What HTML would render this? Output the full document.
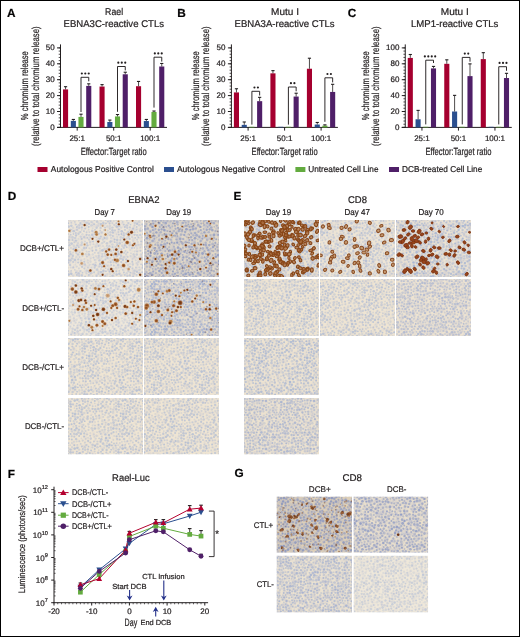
<!DOCTYPE html>
<html><head><meta charset="utf-8"><title>Figure</title>
<style>
html,body{margin:0;padding:0;background:#fff;}
body{width:520px;height:637px;overflow:hidden;}
svg{display:block;font-family:"Liberation Sans", sans-serif;text-rendering:geometricPrecision;will-change:transform;}
text{stroke:#231f20;stroke-width:0.22px;}
</style></head>
<body>
<svg width="520" height="637" viewBox="0 0 520 637" fill="#231f20">
<rect x="0.5" y="0.5" width="519" height="636" fill="#fff" stroke="#000" stroke-width="1"/>
<text x="7.00" y="16.70" font-size="11.8" font-weight="bold" fill="#000">A</text>
<text x="177.20" y="16.60" font-size="11.8" font-weight="bold" fill="#000">B</text>
<text x="347.80" y="16.90" font-size="11.8" font-weight="bold" fill="#000">C</text>
<text x="7.80" y="199.60" font-size="11.8" font-weight="bold" fill="#000">D</text>
<text x="233.60" y="199.60" font-size="11.8" font-weight="bold" fill="#000">E</text>
<text x="7.80" y="477.60" font-size="11.8" font-weight="bold" fill="#000">F</text>
<text x="234.60" y="477.30" font-size="11.8" font-weight="bold" fill="#000">G</text>
<text x="105.10" y="15.00" font-size="9.8" textLength="18.00" lengthAdjust="spacingAndGlyphs">Rael</text>
<text x="63.50" y="27.10" font-size="9.8" textLength="100.50" lengthAdjust="spacingAndGlyphs">EBNA3C-reactive CTLs</text>
<text x="28.40" y="85.70" font-size="10.2" text-anchor="middle" textLength="69.00" lengthAdjust="spacingAndGlyphs" transform="rotate(-90 28.40 85.70)">% chromium release</text>
<text x="38.90" y="86.20" font-size="10.2" text-anchor="middle" textLength="119.50" lengthAdjust="spacingAndGlyphs" transform="rotate(-90 38.90 86.20)">(relative to total chromium release)</text>
<line x1="60.50" y1="44.40" x2="60.50" y2="127.90" stroke="#231f20" stroke-width="1"/>
<line x1="57.00" y1="127.40" x2="167.00" y2="127.40" stroke="#231f20" stroke-width="1"/>
<line x1="57.00" y1="127.40" x2="60.50" y2="127.40" stroke="#231f20" stroke-width="1"/>
<text x="54.60" y="129.90" font-size="8.0" text-anchor="end">0</text>
<line x1="57.00" y1="111.50" x2="60.50" y2="111.50" stroke="#231f20" stroke-width="1"/>
<text x="54.60" y="114.00" font-size="8.0" text-anchor="end">10</text>
<line x1="57.00" y1="95.60" x2="60.50" y2="95.60" stroke="#231f20" stroke-width="1"/>
<text x="54.60" y="98.10" font-size="8.0" text-anchor="end">20</text>
<line x1="57.00" y1="79.70" x2="60.50" y2="79.70" stroke="#231f20" stroke-width="1"/>
<text x="54.60" y="82.20" font-size="8.0" text-anchor="end">30</text>
<line x1="57.00" y1="63.80" x2="60.50" y2="63.80" stroke="#231f20" stroke-width="1"/>
<text x="54.60" y="66.30" font-size="8.0" text-anchor="end">40</text>
<line x1="57.00" y1="47.90" x2="60.50" y2="47.90" stroke="#231f20" stroke-width="1"/>
<text x="54.60" y="50.40" font-size="8.0" text-anchor="end">50</text>
<line x1="58.70" y1="127.40" x2="60.50" y2="127.40" stroke="#231f20" stroke-width="0.8"/>
<line x1="58.70" y1="124.22" x2="60.50" y2="124.22" stroke="#231f20" stroke-width="0.8"/>
<line x1="58.70" y1="121.04" x2="60.50" y2="121.04" stroke="#231f20" stroke-width="0.8"/>
<line x1="58.70" y1="117.86" x2="60.50" y2="117.86" stroke="#231f20" stroke-width="0.8"/>
<line x1="58.70" y1="114.68" x2="60.50" y2="114.68" stroke="#231f20" stroke-width="0.8"/>
<line x1="58.70" y1="111.50" x2="60.50" y2="111.50" stroke="#231f20" stroke-width="0.8"/>
<line x1="58.70" y1="108.32" x2="60.50" y2="108.32" stroke="#231f20" stroke-width="0.8"/>
<line x1="58.70" y1="105.14" x2="60.50" y2="105.14" stroke="#231f20" stroke-width="0.8"/>
<line x1="58.70" y1="101.96" x2="60.50" y2="101.96" stroke="#231f20" stroke-width="0.8"/>
<line x1="58.70" y1="98.78" x2="60.50" y2="98.78" stroke="#231f20" stroke-width="0.8"/>
<line x1="58.70" y1="95.60" x2="60.50" y2="95.60" stroke="#231f20" stroke-width="0.8"/>
<line x1="58.70" y1="92.42" x2="60.50" y2="92.42" stroke="#231f20" stroke-width="0.8"/>
<line x1="58.70" y1="89.24" x2="60.50" y2="89.24" stroke="#231f20" stroke-width="0.8"/>
<line x1="58.70" y1="86.06" x2="60.50" y2="86.06" stroke="#231f20" stroke-width="0.8"/>
<line x1="58.70" y1="82.88" x2="60.50" y2="82.88" stroke="#231f20" stroke-width="0.8"/>
<line x1="58.70" y1="79.70" x2="60.50" y2="79.70" stroke="#231f20" stroke-width="0.8"/>
<line x1="58.70" y1="76.52" x2="60.50" y2="76.52" stroke="#231f20" stroke-width="0.8"/>
<line x1="58.70" y1="73.34" x2="60.50" y2="73.34" stroke="#231f20" stroke-width="0.8"/>
<line x1="58.70" y1="70.16" x2="60.50" y2="70.16" stroke="#231f20" stroke-width="0.8"/>
<line x1="58.70" y1="66.98" x2="60.50" y2="66.98" stroke="#231f20" stroke-width="0.8"/>
<line x1="58.70" y1="63.80" x2="60.50" y2="63.80" stroke="#231f20" stroke-width="0.8"/>
<line x1="58.70" y1="60.62" x2="60.50" y2="60.62" stroke="#231f20" stroke-width="0.8"/>
<line x1="58.70" y1="57.44" x2="60.50" y2="57.44" stroke="#231f20" stroke-width="0.8"/>
<line x1="58.70" y1="54.26" x2="60.50" y2="54.26" stroke="#231f20" stroke-width="0.8"/>
<line x1="58.70" y1="51.08" x2="60.50" y2="51.08" stroke="#231f20" stroke-width="0.8"/>
<line x1="58.70" y1="47.90" x2="60.50" y2="47.90" stroke="#231f20" stroke-width="0.8"/>
<line x1="77.20" y1="127.40" x2="77.20" y2="130.60" stroke="#231f20" stroke-width="1"/>
<text x="77.20" y="140.90" font-size="8.0" text-anchor="middle">25:1</text>
<rect x="63.00" y="89.40" width="5.10" height="38.00" fill="#a5002f"/>
<line x1="65.55" y1="86.70" x2="65.55" y2="89.40" stroke="#231f20" stroke-width="0.8"/>
<line x1="63.95" y1="86.70" x2="67.15" y2="86.70" stroke="#231f20" stroke-width="1.1"/>
<rect x="70.80" y="120.88" width="5.10" height="6.52" fill="#2b4f8f"/>
<line x1="73.35" y1="119.45" x2="73.35" y2="120.88" stroke="#231f20" stroke-width="0.8"/>
<line x1="71.75" y1="119.45" x2="74.95" y2="119.45" stroke="#231f20" stroke-width="1.1"/>
<rect x="78.45" y="116.91" width="5.10" height="10.49" fill="#63ab3f"/>
<line x1="81.00" y1="114.20" x2="81.00" y2="116.91" stroke="#231f20" stroke-width="0.8"/>
<line x1="79.40" y1="114.20" x2="82.60" y2="114.20" stroke="#231f20" stroke-width="1.1"/>
<rect x="86.20" y="85.90" width="5.10" height="41.50" fill="#4f1f68"/>
<line x1="88.75" y1="83.83" x2="88.75" y2="85.90" stroke="#231f20" stroke-width="0.8"/>
<line x1="87.15" y1="83.83" x2="90.35" y2="83.83" stroke="#231f20" stroke-width="1.1"/>
<polyline points="81.00,112.00 81.00,77.30 88.75,77.30 88.75,81.30" fill="none" stroke="#231f20" stroke-width="0.95"/>
<circle cx="81.83" cy="73.50" r="1.08" fill="#231f20"/>
<circle cx="85.28" cy="73.50" r="1.08" fill="#231f20"/>
<circle cx="88.73" cy="73.50" r="1.08" fill="#231f20"/>
<line x1="113.70" y1="127.40" x2="113.70" y2="130.60" stroke="#231f20" stroke-width="1"/>
<text x="113.70" y="140.90" font-size="8.0" text-anchor="middle">50:1</text>
<rect x="99.50" y="86.54" width="5.10" height="40.86" fill="#a5002f"/>
<line x1="102.05" y1="84.63" x2="102.05" y2="86.54" stroke="#231f20" stroke-width="0.8"/>
<line x1="100.45" y1="84.63" x2="103.65" y2="84.63" stroke="#231f20" stroke-width="1.1"/>
<rect x="107.30" y="121.99" width="5.10" height="5.41" fill="#2b4f8f"/>
<line x1="109.85" y1="120.09" x2="109.85" y2="121.99" stroke="#231f20" stroke-width="0.8"/>
<line x1="108.25" y1="120.09" x2="111.45" y2="120.09" stroke="#231f20" stroke-width="1.1"/>
<rect x="114.95" y="116.43" width="5.10" height="10.97" fill="#63ab3f"/>
<line x1="117.50" y1="114.52" x2="117.50" y2="116.43" stroke="#231f20" stroke-width="0.8"/>
<line x1="115.90" y1="114.52" x2="119.10" y2="114.52" stroke="#231f20" stroke-width="1.1"/>
<rect x="122.70" y="74.29" width="5.10" height="53.11" fill="#4f1f68"/>
<line x1="125.25" y1="72.23" x2="125.25" y2="74.29" stroke="#231f20" stroke-width="0.8"/>
<line x1="123.65" y1="72.23" x2="126.85" y2="72.23" stroke="#231f20" stroke-width="1.1"/>
<polyline points="117.50,111.80 117.50,66.50 125.25,66.50 125.25,70.40" fill="none" stroke="#231f20" stroke-width="0.95"/>
<circle cx="118.33" cy="62.70" r="1.08" fill="#231f20"/>
<circle cx="121.78" cy="62.70" r="1.08" fill="#231f20"/>
<circle cx="125.23" cy="62.70" r="1.08" fill="#231f20"/>
<line x1="150.20" y1="127.40" x2="150.20" y2="130.60" stroke="#231f20" stroke-width="1"/>
<text x="150.20" y="140.90" font-size="8.0" text-anchor="middle">100:1</text>
<rect x="136.00" y="86.22" width="5.10" height="41.18" fill="#a5002f"/>
<line x1="138.55" y1="81.45" x2="138.55" y2="86.22" stroke="#231f20" stroke-width="0.8"/>
<line x1="136.95" y1="81.45" x2="140.15" y2="81.45" stroke="#231f20" stroke-width="1.1"/>
<rect x="143.80" y="121.04" width="5.10" height="6.36" fill="#2b4f8f"/>
<line x1="146.35" y1="119.45" x2="146.35" y2="121.04" stroke="#231f20" stroke-width="0.8"/>
<line x1="144.75" y1="119.45" x2="147.95" y2="119.45" stroke="#231f20" stroke-width="1.1"/>
<rect x="151.45" y="111.98" width="5.10" height="15.42" fill="#63ab3f"/>
<line x1="154.00" y1="111.02" x2="154.00" y2="111.98" stroke="#231f20" stroke-width="0.8"/>
<line x1="152.40" y1="111.02" x2="155.60" y2="111.02" stroke="#231f20" stroke-width="1.1"/>
<rect x="159.20" y="66.50" width="5.10" height="60.90" fill="#4f1f68"/>
<line x1="161.75" y1="63.48" x2="161.75" y2="66.50" stroke="#231f20" stroke-width="0.8"/>
<line x1="160.15" y1="63.48" x2="163.35" y2="63.48" stroke="#231f20" stroke-width="1.1"/>
<polyline points="154.00,107.60 154.00,57.20 161.75,57.20 161.75,61.60" fill="none" stroke="#231f20" stroke-width="0.95"/>
<circle cx="154.83" cy="53.40" r="1.08" fill="#231f20"/>
<circle cx="158.28" cy="53.40" r="1.08" fill="#231f20"/>
<circle cx="161.73" cy="53.40" r="1.08" fill="#231f20"/>
<text x="113.70" y="154.50" font-size="10.4" text-anchor="middle" textLength="66.00" lengthAdjust="spacingAndGlyphs">Effector:Target ratio</text>
<text x="271.10" y="15.00" font-size="9.8" textLength="27.90" lengthAdjust="spacingAndGlyphs">Mutu I</text>
<text x="234.50" y="27.10" font-size="9.8" textLength="100.10" lengthAdjust="spacingAndGlyphs">EBNA3A-reactive CTLs</text>
<text x="198.90" y="85.70" font-size="10.2" text-anchor="middle" textLength="69.00" lengthAdjust="spacingAndGlyphs" transform="rotate(-90 198.90 85.70)">% chromium release</text>
<text x="209.40" y="86.20" font-size="10.2" text-anchor="middle" textLength="119.50" lengthAdjust="spacingAndGlyphs" transform="rotate(-90 209.40 86.20)">(relative to total chromium release)</text>
<line x1="231.40" y1="44.40" x2="231.40" y2="127.90" stroke="#231f20" stroke-width="1"/>
<line x1="227.90" y1="127.40" x2="337.90" y2="127.40" stroke="#231f20" stroke-width="1"/>
<line x1="227.90" y1="127.40" x2="231.40" y2="127.40" stroke="#231f20" stroke-width="1"/>
<text x="225.50" y="129.90" font-size="8.0" text-anchor="end">0</text>
<line x1="227.90" y1="111.50" x2="231.40" y2="111.50" stroke="#231f20" stroke-width="1"/>
<text x="225.50" y="114.00" font-size="8.0" text-anchor="end">10</text>
<line x1="227.90" y1="95.60" x2="231.40" y2="95.60" stroke="#231f20" stroke-width="1"/>
<text x="225.50" y="98.10" font-size="8.0" text-anchor="end">20</text>
<line x1="227.90" y1="79.70" x2="231.40" y2="79.70" stroke="#231f20" stroke-width="1"/>
<text x="225.50" y="82.20" font-size="8.0" text-anchor="end">30</text>
<line x1="227.90" y1="63.80" x2="231.40" y2="63.80" stroke="#231f20" stroke-width="1"/>
<text x="225.50" y="66.30" font-size="8.0" text-anchor="end">40</text>
<line x1="227.90" y1="47.90" x2="231.40" y2="47.90" stroke="#231f20" stroke-width="1"/>
<text x="225.50" y="50.40" font-size="8.0" text-anchor="end">50</text>
<line x1="229.60" y1="127.40" x2="231.40" y2="127.40" stroke="#231f20" stroke-width="0.8"/>
<line x1="229.60" y1="124.22" x2="231.40" y2="124.22" stroke="#231f20" stroke-width="0.8"/>
<line x1="229.60" y1="121.04" x2="231.40" y2="121.04" stroke="#231f20" stroke-width="0.8"/>
<line x1="229.60" y1="117.86" x2="231.40" y2="117.86" stroke="#231f20" stroke-width="0.8"/>
<line x1="229.60" y1="114.68" x2="231.40" y2="114.68" stroke="#231f20" stroke-width="0.8"/>
<line x1="229.60" y1="111.50" x2="231.40" y2="111.50" stroke="#231f20" stroke-width="0.8"/>
<line x1="229.60" y1="108.32" x2="231.40" y2="108.32" stroke="#231f20" stroke-width="0.8"/>
<line x1="229.60" y1="105.14" x2="231.40" y2="105.14" stroke="#231f20" stroke-width="0.8"/>
<line x1="229.60" y1="101.96" x2="231.40" y2="101.96" stroke="#231f20" stroke-width="0.8"/>
<line x1="229.60" y1="98.78" x2="231.40" y2="98.78" stroke="#231f20" stroke-width="0.8"/>
<line x1="229.60" y1="95.60" x2="231.40" y2="95.60" stroke="#231f20" stroke-width="0.8"/>
<line x1="229.60" y1="92.42" x2="231.40" y2="92.42" stroke="#231f20" stroke-width="0.8"/>
<line x1="229.60" y1="89.24" x2="231.40" y2="89.24" stroke="#231f20" stroke-width="0.8"/>
<line x1="229.60" y1="86.06" x2="231.40" y2="86.06" stroke="#231f20" stroke-width="0.8"/>
<line x1="229.60" y1="82.88" x2="231.40" y2="82.88" stroke="#231f20" stroke-width="0.8"/>
<line x1="229.60" y1="79.70" x2="231.40" y2="79.70" stroke="#231f20" stroke-width="0.8"/>
<line x1="229.60" y1="76.52" x2="231.40" y2="76.52" stroke="#231f20" stroke-width="0.8"/>
<line x1="229.60" y1="73.34" x2="231.40" y2="73.34" stroke="#231f20" stroke-width="0.8"/>
<line x1="229.60" y1="70.16" x2="231.40" y2="70.16" stroke="#231f20" stroke-width="0.8"/>
<line x1="229.60" y1="66.98" x2="231.40" y2="66.98" stroke="#231f20" stroke-width="0.8"/>
<line x1="229.60" y1="63.80" x2="231.40" y2="63.80" stroke="#231f20" stroke-width="0.8"/>
<line x1="229.60" y1="60.62" x2="231.40" y2="60.62" stroke="#231f20" stroke-width="0.8"/>
<line x1="229.60" y1="57.44" x2="231.40" y2="57.44" stroke="#231f20" stroke-width="0.8"/>
<line x1="229.60" y1="54.26" x2="231.40" y2="54.26" stroke="#231f20" stroke-width="0.8"/>
<line x1="229.60" y1="51.08" x2="231.40" y2="51.08" stroke="#231f20" stroke-width="0.8"/>
<line x1="229.60" y1="47.90" x2="231.40" y2="47.90" stroke="#231f20" stroke-width="0.8"/>
<line x1="248.10" y1="127.40" x2="248.10" y2="130.60" stroke="#231f20" stroke-width="1"/>
<text x="248.10" y="140.90" font-size="8.0" text-anchor="middle">25:1</text>
<rect x="233.90" y="92.42" width="5.10" height="34.98" fill="#a5002f"/>
<line x1="236.45" y1="88.76" x2="236.45" y2="92.42" stroke="#231f20" stroke-width="0.8"/>
<line x1="234.85" y1="88.76" x2="238.05" y2="88.76" stroke="#231f20" stroke-width="1.1"/>
<rect x="241.70" y="124.86" width="5.10" height="2.54" fill="#2b4f8f"/>
<line x1="244.25" y1="121.99" x2="244.25" y2="124.86" stroke="#231f20" stroke-width="0.8"/>
<line x1="242.65" y1="121.99" x2="245.85" y2="121.99" stroke="#231f20" stroke-width="1.1"/>
<rect x="249.35" y="126.80" width="5.10" height="0.60" fill="#63ab3f"/>
<rect x="257.10" y="101.17" width="5.10" height="26.24" fill="#4f1f68"/>
<line x1="259.65" y1="97.35" x2="259.65" y2="101.17" stroke="#231f20" stroke-width="0.8"/>
<line x1="258.05" y1="97.35" x2="261.25" y2="97.35" stroke="#231f20" stroke-width="1.1"/>
<polyline points="251.90,124.60 251.90,91.30 259.65,91.30 259.65,95.50" fill="none" stroke="#231f20" stroke-width="0.95"/>
<circle cx="254.45" cy="87.50" r="1.08" fill="#231f20"/>
<circle cx="257.90" cy="87.50" r="1.08" fill="#231f20"/>
<line x1="284.60" y1="127.40" x2="284.60" y2="130.60" stroke="#231f20" stroke-width="1"/>
<text x="284.60" y="140.90" font-size="8.0" text-anchor="middle">50:1</text>
<rect x="270.40" y="73.34" width="5.10" height="54.06" fill="#a5002f"/>
<line x1="272.95" y1="70.64" x2="272.95" y2="73.34" stroke="#231f20" stroke-width="0.8"/>
<line x1="271.35" y1="70.64" x2="274.55" y2="70.64" stroke="#231f20" stroke-width="1.1"/>
<rect x="278.20" y="126.80" width="5.10" height="0.60" fill="#2b4f8f"/>
<rect x="285.85" y="126.80" width="5.10" height="0.60" fill="#63ab3f"/>
<rect x="293.60" y="96.55" width="5.10" height="30.85" fill="#4f1f68"/>
<line x1="296.15" y1="93.22" x2="296.15" y2="96.55" stroke="#231f20" stroke-width="0.8"/>
<line x1="294.55" y1="93.22" x2="297.75" y2="93.22" stroke="#231f20" stroke-width="1.1"/>
<polyline points="288.40,124.60 288.40,87.00 296.15,87.00 296.15,91.30" fill="none" stroke="#231f20" stroke-width="0.95"/>
<circle cx="290.95" cy="83.20" r="1.08" fill="#231f20"/>
<circle cx="294.40" cy="83.20" r="1.08" fill="#231f20"/>
<line x1="321.10" y1="127.40" x2="321.10" y2="130.60" stroke="#231f20" stroke-width="1"/>
<text x="321.10" y="140.90" font-size="8.0" text-anchor="middle">100:1</text>
<rect x="306.90" y="68.73" width="5.10" height="58.67" fill="#a5002f"/>
<line x1="309.45" y1="58.23" x2="309.45" y2="68.73" stroke="#231f20" stroke-width="0.8"/>
<line x1="307.85" y1="58.23" x2="311.05" y2="58.23" stroke="#231f20" stroke-width="1.1"/>
<rect x="314.70" y="124.54" width="5.10" height="2.86" fill="#2b4f8f"/>
<line x1="317.25" y1="122.47" x2="317.25" y2="124.54" stroke="#231f20" stroke-width="0.8"/>
<line x1="315.65" y1="122.47" x2="318.85" y2="122.47" stroke="#231f20" stroke-width="1.1"/>
<rect x="322.35" y="125.65" width="5.10" height="1.75" fill="#63ab3f"/>
<line x1="324.90" y1="124.86" x2="324.90" y2="125.65" stroke="#231f20" stroke-width="0.8"/>
<line x1="323.30" y1="124.86" x2="326.50" y2="124.86" stroke="#231f20" stroke-width="1.1"/>
<rect x="330.10" y="91.94" width="5.10" height="35.46" fill="#4f1f68"/>
<line x1="332.65" y1="84.31" x2="332.65" y2="91.94" stroke="#231f20" stroke-width="0.8"/>
<line x1="331.05" y1="84.31" x2="334.25" y2="84.31" stroke="#231f20" stroke-width="1.1"/>
<polyline points="324.90,121.80 324.90,77.80 332.65,77.80 332.65,82.40" fill="none" stroke="#231f20" stroke-width="0.95"/>
<circle cx="327.45" cy="74.00" r="1.08" fill="#231f20"/>
<circle cx="330.90" cy="74.00" r="1.08" fill="#231f20"/>
<text x="284.60" y="154.50" font-size="10.4" text-anchor="middle" textLength="66.00" lengthAdjust="spacingAndGlyphs">Effector:Target ratio</text>
<text x="440.80" y="15.00" font-size="9.8" textLength="28.00" lengthAdjust="spacingAndGlyphs">Mutu I</text>
<text x="411.00" y="27.10" font-size="9.8" textLength="87.40" lengthAdjust="spacingAndGlyphs">LMP1-reactive CTLs</text>
<text x="369.00" y="85.70" font-size="10.2" text-anchor="middle" textLength="69.00" lengthAdjust="spacingAndGlyphs" transform="rotate(-90 369.00 85.70)">% chromium release</text>
<text x="379.50" y="86.20" font-size="10.2" text-anchor="middle" textLength="119.50" lengthAdjust="spacingAndGlyphs" transform="rotate(-90 379.50 86.20)">(relative to total chromium release)</text>
<line x1="405.25" y1="44.40" x2="405.25" y2="127.90" stroke="#231f20" stroke-width="1"/>
<line x1="401.75" y1="127.40" x2="511.75" y2="127.40" stroke="#231f20" stroke-width="1"/>
<line x1="401.75" y1="127.40" x2="405.25" y2="127.40" stroke="#231f20" stroke-width="1"/>
<text x="399.35" y="129.90" font-size="8.0" text-anchor="end">0</text>
<line x1="401.75" y1="111.50" x2="405.25" y2="111.50" stroke="#231f20" stroke-width="1"/>
<text x="399.35" y="114.00" font-size="8.0" text-anchor="end">20</text>
<line x1="401.75" y1="95.60" x2="405.25" y2="95.60" stroke="#231f20" stroke-width="1"/>
<text x="399.35" y="98.10" font-size="8.0" text-anchor="end">40</text>
<line x1="401.75" y1="79.70" x2="405.25" y2="79.70" stroke="#231f20" stroke-width="1"/>
<text x="399.35" y="82.20" font-size="8.0" text-anchor="end">60</text>
<line x1="401.75" y1="63.80" x2="405.25" y2="63.80" stroke="#231f20" stroke-width="1"/>
<text x="399.35" y="66.30" font-size="8.0" text-anchor="end">80</text>
<line x1="401.75" y1="47.90" x2="405.25" y2="47.90" stroke="#231f20" stroke-width="1"/>
<text x="399.35" y="50.40" font-size="8.0" text-anchor="end">100</text>
<line x1="403.45" y1="127.40" x2="405.25" y2="127.40" stroke="#231f20" stroke-width="0.8"/>
<line x1="403.45" y1="124.22" x2="405.25" y2="124.22" stroke="#231f20" stroke-width="0.8"/>
<line x1="403.45" y1="121.04" x2="405.25" y2="121.04" stroke="#231f20" stroke-width="0.8"/>
<line x1="403.45" y1="117.86" x2="405.25" y2="117.86" stroke="#231f20" stroke-width="0.8"/>
<line x1="403.45" y1="114.68" x2="405.25" y2="114.68" stroke="#231f20" stroke-width="0.8"/>
<line x1="403.45" y1="111.50" x2="405.25" y2="111.50" stroke="#231f20" stroke-width="0.8"/>
<line x1="403.45" y1="108.32" x2="405.25" y2="108.32" stroke="#231f20" stroke-width="0.8"/>
<line x1="403.45" y1="105.14" x2="405.25" y2="105.14" stroke="#231f20" stroke-width="0.8"/>
<line x1="403.45" y1="101.96" x2="405.25" y2="101.96" stroke="#231f20" stroke-width="0.8"/>
<line x1="403.45" y1="98.78" x2="405.25" y2="98.78" stroke="#231f20" stroke-width="0.8"/>
<line x1="403.45" y1="95.60" x2="405.25" y2="95.60" stroke="#231f20" stroke-width="0.8"/>
<line x1="403.45" y1="92.42" x2="405.25" y2="92.42" stroke="#231f20" stroke-width="0.8"/>
<line x1="403.45" y1="89.24" x2="405.25" y2="89.24" stroke="#231f20" stroke-width="0.8"/>
<line x1="403.45" y1="86.06" x2="405.25" y2="86.06" stroke="#231f20" stroke-width="0.8"/>
<line x1="403.45" y1="82.88" x2="405.25" y2="82.88" stroke="#231f20" stroke-width="0.8"/>
<line x1="403.45" y1="79.70" x2="405.25" y2="79.70" stroke="#231f20" stroke-width="0.8"/>
<line x1="403.45" y1="76.52" x2="405.25" y2="76.52" stroke="#231f20" stroke-width="0.8"/>
<line x1="403.45" y1="73.34" x2="405.25" y2="73.34" stroke="#231f20" stroke-width="0.8"/>
<line x1="403.45" y1="70.16" x2="405.25" y2="70.16" stroke="#231f20" stroke-width="0.8"/>
<line x1="403.45" y1="66.98" x2="405.25" y2="66.98" stroke="#231f20" stroke-width="0.8"/>
<line x1="403.45" y1="63.80" x2="405.25" y2="63.80" stroke="#231f20" stroke-width="0.8"/>
<line x1="403.45" y1="60.62" x2="405.25" y2="60.62" stroke="#231f20" stroke-width="0.8"/>
<line x1="403.45" y1="57.44" x2="405.25" y2="57.44" stroke="#231f20" stroke-width="0.8"/>
<line x1="403.45" y1="54.26" x2="405.25" y2="54.26" stroke="#231f20" stroke-width="0.8"/>
<line x1="403.45" y1="51.08" x2="405.25" y2="51.08" stroke="#231f20" stroke-width="0.8"/>
<line x1="403.45" y1="47.90" x2="405.25" y2="47.90" stroke="#231f20" stroke-width="0.8"/>
<line x1="421.95" y1="127.40" x2="421.95" y2="130.60" stroke="#231f20" stroke-width="1"/>
<text x="421.95" y="140.90" font-size="8.0" text-anchor="middle">25:1</text>
<rect x="407.75" y="57.92" width="5.10" height="69.48" fill="#a5002f"/>
<line x1="410.30" y1="54.50" x2="410.30" y2="57.92" stroke="#231f20" stroke-width="0.8"/>
<line x1="408.70" y1="54.50" x2="411.90" y2="54.50" stroke="#231f20" stroke-width="1.1"/>
<rect x="415.55" y="119.29" width="5.10" height="8.11" fill="#2b4f8f"/>
<line x1="418.10" y1="110.39" x2="418.10" y2="119.29" stroke="#231f20" stroke-width="0.8"/>
<line x1="416.50" y1="110.39" x2="419.70" y2="110.39" stroke="#231f20" stroke-width="1.1"/>
<rect x="423.20" y="126.80" width="5.10" height="0.60" fill="#63ab3f"/>
<rect x="430.95" y="68.41" width="5.10" height="58.99" fill="#4f1f68"/>
<line x1="433.50" y1="66.42" x2="433.50" y2="68.41" stroke="#231f20" stroke-width="0.8"/>
<line x1="431.90" y1="66.42" x2="435.10" y2="66.42" stroke="#231f20" stroke-width="1.1"/>
<polyline points="425.75,124.40 425.75,60.20 433.50,60.20 433.50,63.00" fill="none" stroke="#231f20" stroke-width="0.95"/>
<circle cx="424.85" cy="56.40" r="1.08" fill="#231f20"/>
<circle cx="428.30" cy="56.40" r="1.08" fill="#231f20"/>
<circle cx="431.75" cy="56.40" r="1.08" fill="#231f20"/>
<circle cx="435.20" cy="56.40" r="1.08" fill="#231f20"/>
<line x1="458.45" y1="127.40" x2="458.45" y2="130.60" stroke="#231f20" stroke-width="1"/>
<text x="458.45" y="140.90" font-size="8.0" text-anchor="middle">50:1</text>
<rect x="444.25" y="63.80" width="5.10" height="63.60" fill="#a5002f"/>
<line x1="446.80" y1="59.83" x2="446.80" y2="63.80" stroke="#231f20" stroke-width="0.8"/>
<line x1="445.20" y1="59.83" x2="448.40" y2="59.83" stroke="#231f20" stroke-width="1.1"/>
<rect x="452.05" y="111.50" width="5.10" height="15.90" fill="#2b4f8f"/>
<line x1="454.60" y1="95.36" x2="454.60" y2="111.50" stroke="#231f20" stroke-width="0.8"/>
<line x1="453.00" y1="95.36" x2="456.20" y2="95.36" stroke="#231f20" stroke-width="1.1"/>
<rect x="459.70" y="126.80" width="5.10" height="0.60" fill="#63ab3f"/>
<rect x="467.45" y="76.12" width="5.10" height="51.28" fill="#4f1f68"/>
<line x1="470.00" y1="63.88" x2="470.00" y2="76.12" stroke="#231f20" stroke-width="0.8"/>
<line x1="468.40" y1="63.88" x2="471.60" y2="63.88" stroke="#231f20" stroke-width="1.1"/>
<polyline points="462.25,124.40 462.25,57.40 470.00,57.40 470.00,61.70" fill="none" stroke="#231f20" stroke-width="0.95"/>
<circle cx="464.80" cy="53.60" r="1.08" fill="#231f20"/>
<circle cx="468.25" cy="53.60" r="1.08" fill="#231f20"/>
<line x1="494.95" y1="127.40" x2="494.95" y2="130.60" stroke="#231f20" stroke-width="1"/>
<text x="494.95" y="140.90" font-size="8.0" text-anchor="middle">100:1</text>
<rect x="480.75" y="59.11" width="5.10" height="68.29" fill="#a5002f"/>
<line x1="483.30" y1="52.67" x2="483.30" y2="59.11" stroke="#231f20" stroke-width="0.8"/>
<line x1="481.70" y1="52.67" x2="484.90" y2="52.67" stroke="#231f20" stroke-width="1.1"/>
<rect x="488.55" y="126.80" width="5.10" height="0.60" fill="#2b4f8f"/>
<rect x="496.20" y="126.80" width="5.10" height="0.60" fill="#63ab3f"/>
<rect x="503.95" y="78.03" width="5.10" height="49.37" fill="#4f1f68"/>
<line x1="506.50" y1="73.34" x2="506.50" y2="78.03" stroke="#231f20" stroke-width="0.8"/>
<line x1="504.90" y1="73.34" x2="508.10" y2="73.34" stroke="#231f20" stroke-width="1.1"/>
<polyline points="498.75,124.40 498.75,66.70 506.50,66.70 506.50,70.80" fill="none" stroke="#231f20" stroke-width="0.95"/>
<circle cx="499.57" cy="62.90" r="1.08" fill="#231f20"/>
<circle cx="503.02" cy="62.90" r="1.08" fill="#231f20"/>
<circle cx="506.47" cy="62.90" r="1.08" fill="#231f20"/>
<text x="458.45" y="154.50" font-size="10.4" text-anchor="middle" textLength="66.00" lengthAdjust="spacingAndGlyphs">Effector:Target ratio</text>
<rect x="37.50" y="167.00" width="10.00" height="5.00" fill="#a5002f"/>
<text x="50.80" y="172.20" font-size="8.6" textLength="103.00" lengthAdjust="spacingAndGlyphs">Autologous Positive Control</text>
<rect x="164.00" y="167.00" width="10.00" height="5.00" fill="#2b4f8f"/>
<text x="176.90" y="172.20" font-size="8.6" textLength="108.30" lengthAdjust="spacingAndGlyphs">Autologous Negative Control</text>
<rect x="295.40" y="167.00" width="10.00" height="5.00" fill="#63ab3f"/>
<text x="308.30" y="172.20" font-size="8.6" textLength="70.20" lengthAdjust="spacingAndGlyphs">Untreated Cell Line</text>
<rect x="389.00" y="167.00" width="10.00" height="5.00" fill="#4f1f68"/>
<text x="402.10" y="172.20" font-size="8.6" textLength="80.20" lengthAdjust="spacingAndGlyphs">DCB-treated Cell Line</text>
<text x="128.20" y="202.70" font-size="9.8" textLength="31.30" lengthAdjust="spacingAndGlyphs">EBNA2</text>
<text x="94.60" y="215.00" font-size="8.6" textLength="20.30" lengthAdjust="spacingAndGlyphs">Day 7</text>
<text x="166.20" y="215.00" font-size="8.6" textLength="25.00" lengthAdjust="spacingAndGlyphs">Day 19</text>
<text x="19.90" y="250.90" font-size="8.3" textLength="44.20" lengthAdjust="spacingAndGlyphs">DCB+/CTL+</text>
<text x="22.20" y="310.90" font-size="8.3" textLength="41.90" lengthAdjust="spacingAndGlyphs">DCB+/CTL-</text>
<text x="22.20" y="369.90" font-size="8.3" textLength="41.90" lengthAdjust="spacingAndGlyphs">DCB-/CTL+</text>
<text x="24.90" y="429.10" font-size="8.3" textLength="39.20" lengthAdjust="spacingAndGlyphs">DCB-/CTL-</text>
<text x="348.00" y="202.70" font-size="9.8" textLength="18.90" lengthAdjust="spacingAndGlyphs">CD8</text>
<text x="265.80" y="215.00" font-size="8.6" textLength="25.40" lengthAdjust="spacingAndGlyphs">Day 19</text>
<text x="344.50" y="215.00" font-size="8.6" textLength="25.40" lengthAdjust="spacingAndGlyphs">Day 47</text>
<text x="418.40" y="215.00" font-size="8.6" textLength="25.40" lengthAdjust="spacingAndGlyphs">Day 70</text>
<text x="342.50" y="481.30" font-size="9.8" textLength="19.50" lengthAdjust="spacingAndGlyphs">CD8</text>
<text x="308.80" y="491.80" font-size="8.3" textLength="22.00" lengthAdjust="spacingAndGlyphs">DCB+</text>
<text x="387.10" y="491.80" font-size="8.3" textLength="19.40" lengthAdjust="spacingAndGlyphs">DCB-</text>
<text x="253.70" y="528.40" font-size="8.3" textLength="19.50" lengthAdjust="spacingAndGlyphs">CTL+</text>
<text x="256.70" y="587.40" font-size="8.3" textLength="17.20" lengthAdjust="spacingAndGlyphs">CTL-</text>
<defs>
<filter id="n0" x="0" y="0" width="1" height="1" color-interpolation-filters="sRGB"><feTurbulence type="fractalNoise" baseFrequency="0.25" numOctaves="2" seed="3"/><feColorMatrix type="matrix" values="0 0 0 0 0.6 0 0 0 0 0.64 0 0 0 0 0.8 0.6 0 0 0 -0.25"/></filter>
<clipPath id="c0"><rect x="68" y="220" width="75" height="57"/></clipPath>
<filter id="n1" x="0" y="0" width="1" height="1" color-interpolation-filters="sRGB"><feTurbulence type="fractalNoise" baseFrequency="0.25" numOctaves="2" seed="10"/><feColorMatrix type="matrix" values="0 0 0 0 0.6 0 0 0 0 0.64 0 0 0 0 0.8 1.0 0 0 0 -0.36"/></filter>
<clipPath id="c1"><rect x="144" y="220" width="75" height="57"/></clipPath>
<filter id="n2" x="0" y="0" width="1" height="1" color-interpolation-filters="sRGB"><feTurbulence type="fractalNoise" baseFrequency="0.25" numOctaves="2" seed="17"/><feColorMatrix type="matrix" values="0 0 0 0 0.6 0 0 0 0 0.64 0 0 0 0 0.8 0.55 0 0 0 -0.23"/></filter>
<clipPath id="c2"><rect x="68" y="279" width="75" height="57"/></clipPath>
<filter id="n3" x="0" y="0" width="1" height="1" color-interpolation-filters="sRGB"><feTurbulence type="fractalNoise" baseFrequency="0.25" numOctaves="2" seed="24"/><feColorMatrix type="matrix" values="0 0 0 0 0.6 0 0 0 0 0.64 0 0 0 0 0.8 0.9 0 0 0 -0.33"/></filter>
<clipPath id="c3"><rect x="144" y="279" width="75" height="57"/></clipPath>
<filter id="n4" x="0" y="0" width="1" height="1" color-interpolation-filters="sRGB"><feTurbulence type="fractalNoise" baseFrequency="0.25" numOctaves="2" seed="31"/><feColorMatrix type="matrix" values="0 0 0 0 0.6 0 0 0 0 0.64 0 0 0 0 0.8 0.5 0 0 0 -0.22"/></filter>
<clipPath id="c4"><rect x="68" y="338" width="75" height="57"/></clipPath>
<filter id="n5" x="0" y="0" width="1" height="1" color-interpolation-filters="sRGB"><feTurbulence type="fractalNoise" baseFrequency="0.25" numOctaves="2" seed="38"/><feColorMatrix type="matrix" values="0 0 0 0 0.6 0 0 0 0 0.64 0 0 0 0 0.8 0.5 0 0 0 -0.22"/></filter>
<clipPath id="c5"><rect x="144" y="338" width="75" height="57"/></clipPath>
<filter id="n6" x="0" y="0" width="1" height="1" color-interpolation-filters="sRGB"><feTurbulence type="fractalNoise" baseFrequency="0.25" numOctaves="2" seed="45"/><feColorMatrix type="matrix" values="0 0 0 0 0.6 0 0 0 0 0.64 0 0 0 0 0.8 0.5 0 0 0 -0.22"/></filter>
<clipPath id="c6"><rect x="68" y="398" width="75" height="56.5"/></clipPath>
<filter id="n7" x="0" y="0" width="1" height="1" color-interpolation-filters="sRGB"><feTurbulence type="fractalNoise" baseFrequency="0.25" numOctaves="2" seed="52"/><feColorMatrix type="matrix" values="0 0 0 0 0.6 0 0 0 0 0.64 0 0 0 0 0.8 0.5 0 0 0 -0.22"/></filter>
<clipPath id="c7"><rect x="144" y="398" width="75" height="56.5"/></clipPath>
<filter id="n8" x="0" y="0" width="1" height="1" color-interpolation-filters="sRGB"><feTurbulence type="fractalNoise" baseFrequency="0.25" numOctaves="2" seed="59"/><feColorMatrix type="matrix" values="0 0 0 0 0.6 0 0 0 0 0.64 0 0 0 0 0.8 0.8 0 0 0 -0.3"/></filter>
<clipPath id="c8"><rect x="244" y="220" width="75" height="57"/></clipPath>
<filter id="n9" x="0" y="0" width="1" height="1" color-interpolation-filters="sRGB"><feTurbulence type="fractalNoise" baseFrequency="0.25" numOctaves="2" seed="66"/><feColorMatrix type="matrix" values="0 0 0 0 0.6 0 0 0 0 0.64 0 0 0 0 0.8 0.6 0 0 0 -0.25"/></filter>
<clipPath id="c9"><rect x="320" y="220" width="75" height="57"/></clipPath>
<filter id="n10" x="0" y="0" width="1" height="1" color-interpolation-filters="sRGB"><feTurbulence type="fractalNoise" baseFrequency="0.25" numOctaves="2" seed="73"/><feColorMatrix type="matrix" values="0 0 0 0 0.6 0 0 0 0 0.64 0 0 0 0 0.8 0.8 0 0 0 -0.3"/></filter>
<clipPath id="c10"><rect x="396" y="220" width="75" height="57"/></clipPath>
<filter id="n11" x="0" y="0" width="1" height="1" color-interpolation-filters="sRGB"><feTurbulence type="fractalNoise" baseFrequency="0.25" numOctaves="2" seed="80"/><feColorMatrix type="matrix" values="0 0 0 0 0.6 0 0 0 0 0.64 0 0 0 0 0.8 0.5 0 0 0 -0.22"/></filter>
<clipPath id="c11"><rect x="244" y="279" width="75" height="57"/></clipPath>
<filter id="n12" x="0" y="0" width="1" height="1" color-interpolation-filters="sRGB"><feTurbulence type="fractalNoise" baseFrequency="0.25" numOctaves="2" seed="87"/><feColorMatrix type="matrix" values="0 0 0 0 0.6 0 0 0 0 0.64 0 0 0 0 0.8 0.5 0 0 0 -0.22"/></filter>
<clipPath id="c12"><rect x="320" y="279" width="75" height="57"/></clipPath>
<filter id="n13" x="0" y="0" width="1" height="1" color-interpolation-filters="sRGB"><feTurbulence type="fractalNoise" baseFrequency="0.25" numOctaves="2" seed="94"/><feColorMatrix type="matrix" values="0 0 0 0 0.6 0 0 0 0 0.64 0 0 0 0 0.8 0.7 0 0 0 -0.27"/></filter>
<clipPath id="c13"><rect x="396" y="279" width="75" height="57"/></clipPath>
<filter id="n14" x="0" y="0" width="1" height="1" color-interpolation-filters="sRGB"><feTurbulence type="fractalNoise" baseFrequency="0.25" numOctaves="2" seed="101"/><feColorMatrix type="matrix" values="0 0 0 0 0.6 0 0 0 0 0.64 0 0 0 0 0.8 0.6 0 0 0 -0.25"/></filter>
<clipPath id="c14"><rect x="244" y="338" width="75" height="57"/></clipPath>
<filter id="n15" x="0" y="0" width="1" height="1" color-interpolation-filters="sRGB"><feTurbulence type="fractalNoise" baseFrequency="0.25" numOctaves="2" seed="108"/><feColorMatrix type="matrix" values="0 0 0 0 0.6 0 0 0 0 0.64 0 0 0 0 0.8 0.7 0 0 0 -0.27"/></filter>
<clipPath id="c15"><rect x="244" y="398" width="75" height="56.5"/></clipPath>
<filter id="n16" x="0" y="0" width="1" height="1" color-interpolation-filters="sRGB"><feTurbulence type="fractalNoise" baseFrequency="0.25" numOctaves="2" seed="115"/><feColorMatrix type="matrix" values="0 0 0 0 0.6 0 0 0 0 0.64 0 0 0 0 0.8 1.0 0 0 0 -0.36"/></filter>
<clipPath id="c16"><rect x="276.5" y="496.5" width="75.5" height="56.2"/></clipPath>
<filter id="n17" x="0" y="0" width="1" height="1" color-interpolation-filters="sRGB"><feTurbulence type="fractalNoise" baseFrequency="0.25" numOctaves="2" seed="122"/><feColorMatrix type="matrix" values="0 0 0 0 0.6 0 0 0 0 0.64 0 0 0 0 0.8 1.0 0 0 0 -0.36"/></filter>
<clipPath id="c17"><rect x="353.5" y="496.5" width="74.7" height="56.2"/></clipPath>
<filter id="n18" x="0" y="0" width="1" height="1" color-interpolation-filters="sRGB"><feTurbulence type="fractalNoise" baseFrequency="0.25" numOctaves="2" seed="129"/><feColorMatrix type="matrix" values="0 0 0 0 0.6 0 0 0 0 0.64 0 0 0 0 0.8 0.8 0 0 0 -0.3"/></filter>
<clipPath id="c18"><rect x="276.5" y="555.6" width="75.5" height="57.0"/></clipPath>
<filter id="n19" x="0" y="0" width="1" height="1" color-interpolation-filters="sRGB"><feTurbulence type="fractalNoise" baseFrequency="0.25" numOctaves="2" seed="136"/><feColorMatrix type="matrix" values="0 0 0 0 0.6 0 0 0 0 0.64 0 0 0 0 0.8 0.5 0 0 0 -0.22"/></filter>
<clipPath id="c19"><rect x="353.5" y="555.6" width="74.7" height="57.0"/></clipPath>
<radialGradient id="gd"><stop offset="0" stop-color="#874318"/><stop offset="0.55" stop-color="#a0602f"/><stop offset="1" stop-color="#c49063" stop-opacity="0.85"/></radialGradient>
<radialGradient id="gdd"><stop offset="0" stop-color="#6a300f"/><stop offset="0.55" stop-color="#85451d"/><stop offset="1" stop-color="#b07c55" stop-opacity="0.85"/></radialGradient>
<radialGradient id="gm"><stop offset="0" stop-color="#a66d3e"/><stop offset="0.6" stop-color="#b9854f"/><stop offset="1" stop-color="#d4ae86" stop-opacity="0.85"/></radialGradient>
<radialGradient id="gg"><stop offset="0" stop-color="#5e2c10"/><stop offset="0.6" stop-color="#74391a"/><stop offset="1" stop-color="#9a6a48"/></radialGradient>
<radialGradient id="gl"><stop offset="0" stop-color="#bf8d62"/><stop offset="1" stop-color="#d6b593"/></radialGradient>
<pattern id="pA" width="48" height="48" patternUnits="userSpaceOnUse"><g fill="#85a0d4"><circle cx="11.4" cy="26.1" r="1.0" fill-opacity="0.29"/><circle cx="17.8" cy="29.0" r="1.0" fill-opacity="0.30"/><circle cx="30.0" cy="3.1" r="0.9" fill-opacity="0.39"/><circle cx="0.6" cy="40.2" r="1.3" fill-opacity="0.53"/><circle cx="48.6" cy="40.2" r="1.3" fill-opacity="0.53"/><circle cx="12.4" cy="11.2" r="1.2" fill-opacity="0.33"/><circle cx="-0.2" cy="22.6" r="1.1" fill-opacity="0.35"/><circle cx="47.8" cy="22.6" r="1.1" fill-opacity="0.35"/><circle cx="40.2" cy="22.9" r="0.9" fill-opacity="0.29"/><circle cx="30.7" cy="7.2" r="0.9" fill-opacity="0.57"/><circle cx="30.5" cy="41.7" r="1.2" fill-opacity="0.53"/><circle cx="25.1" cy="35.6" r="1.2" fill-opacity="0.32"/><circle cx="36.4" cy="28.4" r="1.0" fill-opacity="0.47"/><circle cx="14.5" cy="1.5" r="1.2" fill-opacity="0.55"/><circle cx="14.5" cy="49.5" r="1.2" fill-opacity="0.55"/><circle cx="34.5" cy="42.2" r="1.2" fill-opacity="0.28"/><circle cx="19.0" cy="38.4" r="1.1" fill-opacity="0.49"/><circle cx="21.3" cy="44.9" r="1.1" fill-opacity="0.31"/><circle cx="42.2" cy="4.7" r="1.1" fill-opacity="0.28"/><circle cx="6.5" cy="10.4" r="1.3" fill-opacity="0.55"/><circle cx="30.1" cy="14.4" r="1.1" fill-opacity="0.36"/><circle cx="24.3" cy="18.5" r="1.3" fill-opacity="0.45"/><circle cx="28.0" cy="43.4" r="1.2" fill-opacity="0.55"/><circle cx="32.7" cy="44.6" r="1.1" fill-opacity="0.39"/><circle cx="41.1" cy="-0.4" r="1.1" fill-opacity="0.40"/><circle cx="41.1" cy="47.6" r="1.1" fill-opacity="0.40"/><circle cx="43.4" cy="27.3" r="0.9" fill-opacity="0.36"/><circle cx="34.3" cy="10.1" r="1.2" fill-opacity="0.27"/><circle cx="39.9" cy="27.5" r="0.9" fill-opacity="0.47"/><circle cx="4.2" cy="38.4" r="1.0" fill-opacity="0.44"/><circle cx="19.7" cy="7.2" r="1.1" fill-opacity="0.37"/><circle cx="14.1" cy="36.9" r="1.3" fill-opacity="0.32"/><circle cx="41.9" cy="2.1" r="1.0" fill-opacity="0.32"/><circle cx="34.5" cy="15.9" r="1.1" fill-opacity="0.35"/><circle cx="24.3" cy="-0.1" r="1.0" fill-opacity="0.51"/><circle cx="24.3" cy="47.9" r="1.0" fill-opacity="0.51"/><circle cx="9.5" cy="19.6" r="1.0" fill-opacity="0.45"/><circle cx="15.1" cy="-2.0" r="1.3" fill-opacity="0.29"/><circle cx="15.1" cy="46.0" r="1.3" fill-opacity="0.29"/><circle cx="43.0" cy="18.1" r="0.9" fill-opacity="0.33"/><circle cx="22.1" cy="25.0" r="1.2" fill-opacity="0.47"/><circle cx="30.9" cy="28.6" r="1.0" fill-opacity="0.37"/><circle cx="26.8" cy="29.8" r="0.9" fill-opacity="0.41"/><circle cx="45.1" cy="24.3" r="0.9" fill-opacity="0.49"/><circle cx="20.7" cy="34.6" r="1.3" fill-opacity="0.58"/><circle cx="11.4" cy="14.5" r="1.2" fill-opacity="0.59"/><circle cx="19.9" cy="27.8" r="0.9" fill-opacity="0.35"/><circle cx="1.0" cy="29.6" r="1.3" fill-opacity="0.52"/><circle cx="49.0" cy="29.6" r="1.3" fill-opacity="0.52"/><circle cx="30.1" cy="22.4" r="1.0" fill-opacity="0.58"/><circle cx="33.9" cy="35.4" r="1.1" fill-opacity="0.54"/><circle cx="1.1" cy="2.9" r="1.0" fill-opacity="0.32"/><circle cx="49.1" cy="2.9" r="1.0" fill-opacity="0.32"/><circle cx="12.1" cy="21.9" r="1.0" fill-opacity="0.30"/><circle cx="17.5" cy="15.0" r="1.0" fill-opacity="0.59"/><circle cx="14.4" cy="18.1" r="1.0" fill-opacity="0.25"/><circle cx="37.1" cy="1.3" r="0.9" fill-opacity="0.31"/><circle cx="37.1" cy="49.3" r="0.9" fill-opacity="0.31"/><circle cx="14.9" cy="10.7" r="1.2" fill-opacity="0.38"/><circle cx="38.6" cy="11.5" r="1.0" fill-opacity="0.28"/><circle cx="33.5" cy="4.9" r="1.3" fill-opacity="0.40"/><circle cx="41.1" cy="8.1" r="0.9" fill-opacity="0.27"/><circle cx="16.2" cy="31.2" r="0.9" fill-opacity="0.31"/><circle cx="42.5" cy="21.7" r="1.2" fill-opacity="0.30"/><circle cx="10.8" cy="5.8" r="0.9" fill-opacity="0.42"/><circle cx="25.4" cy="9.2" r="1.0" fill-opacity="0.60"/><circle cx="38.7" cy="40.2" r="0.9" fill-opacity="0.44"/><circle cx="8.8" cy="13.4" r="1.2" fill-opacity="0.39"/><circle cx="38.7" cy="30.8" r="1.3" fill-opacity="0.42"/><circle cx="38.7" cy="16.6" r="1.0" fill-opacity="0.39"/><circle cx="6.2" cy="14.0" r="0.9" fill-opacity="0.40"/><circle cx="16.6" cy="20.0" r="1.0" fill-opacity="0.56"/><circle cx="20.1" cy="19.7" r="1.2" fill-opacity="0.42"/><circle cx="44.2" cy="7.5" r="0.9" fill-opacity="0.34"/><circle cx="0.2" cy="45.3" r="1.0" fill-opacity="0.32"/><circle cx="48.2" cy="45.3" r="1.0" fill-opacity="0.32"/><circle cx="44.5" cy="10.7" r="1.0" fill-opacity="0.55"/><circle cx="31.8" cy="24.9" r="0.9" fill-opacity="0.27"/><circle cx="10.9" cy="3.3" r="1.3" fill-opacity="0.45"/><circle cx="43.4" cy="33.3" r="1.3" fill-opacity="0.39"/><circle cx="44.3" cy="43.0" r="1.3" fill-opacity="0.48"/><circle cx="0.6" cy="35.8" r="1.2" fill-opacity="0.51"/><circle cx="48.6" cy="35.8" r="1.2" fill-opacity="0.51"/><circle cx="12.1" cy="41.4" r="1.1" fill-opacity="0.28"/><circle cx="22.9" cy="37.6" r="0.9" fill-opacity="0.56"/><circle cx="25.7" cy="39.2" r="1.3" fill-opacity="0.57"/><circle cx="8.2" cy="38.0" r="1.0" fill-opacity="0.48"/><circle cx="44.2" cy="38.7" r="1.2" fill-opacity="0.47"/><circle cx="2.4" cy="13.0" r="1.2" fill-opacity="0.43"/><circle cx="20.3" cy="22.7" r="1.1" fill-opacity="0.49"/><circle cx="2.6" cy="6.1" r="1.0" fill-opacity="0.57"/><circle cx="6.0" cy="3.3" r="1.3" fill-opacity="0.28"/><circle cx="4.1" cy="24.1" r="1.3" fill-opacity="0.59"/><circle cx="28.2" cy="17.3" r="1.2" fill-opacity="0.27"/><circle cx="9.2" cy="15.8" r="1.3" fill-opacity="0.29"/><circle cx="5.9" cy="26.7" r="1.3" fill-opacity="0.48"/><circle cx="3.8" cy="8.6" r="0.9" fill-opacity="0.31"/><circle cx="22.1" cy="11.8" r="1.1" fill-opacity="0.45"/><circle cx="3.4" cy="20.4" r="1.2" fill-opacity="0.57"/><circle cx="20.4" cy="42.2" r="0.9" fill-opacity="0.25"/><circle cx="0.2" cy="6.9" r="1.3" fill-opacity="0.25"/><circle cx="48.2" cy="6.9" r="1.3" fill-opacity="0.25"/><circle cx="5.8" cy="40.5" r="1.2" fill-opacity="0.29"/><circle cx="32.3" cy="40.1" r="1.2" fill-opacity="0.52"/><circle cx="36.8" cy="24.5" r="1.2" fill-opacity="0.44"/><circle cx="36.0" cy="44.9" r="1.2" fill-opacity="0.32"/><circle cx="2.9" cy="15.6" r="1.2" fill-opacity="0.37"/><circle cx="11.6" cy="8.6" r="1.3" fill-opacity="0.52"/><circle cx="12.0" cy="29.6" r="1.1" fill-opacity="0.43"/><circle cx="36.2" cy="18.9" r="0.9" fill-opacity="0.26"/><circle cx="-1.3" cy="19.8" r="1.1" fill-opacity="0.42"/><circle cx="46.7" cy="19.8" r="1.1" fill-opacity="0.42"/><circle cx="35.9" cy="7.7" r="1.2" fill-opacity="0.46"/><circle cx="23.2" cy="30.9" r="0.9" fill-opacity="0.38"/><circle cx="4.6" cy="35.9" r="1.2" fill-opacity="0.43"/><circle cx="9.6" cy="28.1" r="0.9" fill-opacity="0.54"/><circle cx="14.2" cy="33.9" r="1.2" fill-opacity="0.28"/><circle cx="28.1" cy="12.8" r="1.1" fill-opacity="0.38"/><circle cx="6.9" cy="-0.4" r="1.2" fill-opacity="0.36"/><circle cx="6.9" cy="47.6" r="1.2" fill-opacity="0.36"/><circle cx="22.5" cy="40.1" r="1.0" fill-opacity="0.42"/><circle cx="11.3" cy="34.4" r="1.3" fill-opacity="0.28"/><circle cx="41.0" cy="11.6" r="0.9" fill-opacity="0.47"/><circle cx="41.2" cy="43.2" r="1.2" fill-opacity="0.43"/><circle cx="27.9" cy="32.4" r="1.0" fill-opacity="0.55"/><circle cx="0.3" cy="16.1" r="1.2" fill-opacity="0.27"/><circle cx="48.3" cy="16.1" r="1.2" fill-opacity="0.27"/><circle cx="26.1" cy="5.7" r="1.2" fill-opacity="0.32"/><circle cx="37.1" cy="36.4" r="1.0" fill-opacity="0.54"/><circle cx="-1.9" cy="32.3" r="1.0" fill-opacity="0.53"/><circle cx="46.1" cy="32.3" r="1.0" fill-opacity="0.53"/><circle cx="34.5" cy="32.6" r="0.9" fill-opacity="0.56"/><circle cx="8.6" cy="42.7" r="0.9" fill-opacity="0.30"/><circle cx="28.7" cy="26.6" r="1.1" fill-opacity="0.37"/><circle cx="16.9" cy="40.7" r="1.1" fill-opacity="0.57"/><circle cx="8.9" cy="9.1" r="1.2" fill-opacity="0.25"/><circle cx="25.3" cy="27.3" r="1.0" fill-opacity="0.44"/><circle cx="38.6" cy="42.8" r="1.1" fill-opacity="0.50"/><circle cx="30.4" cy="-1.1" r="1.1" fill-opacity="0.28"/><circle cx="30.4" cy="46.9" r="1.1" fill-opacity="0.28"/><circle cx="28.9" cy="34.9" r="1.0" fill-opacity="0.55"/><circle cx="25.1" cy="22.1" r="1.0" fill-opacity="0.52"/><circle cx="27.2" cy="-2.0" r="1.3" fill-opacity="0.47"/><circle cx="27.2" cy="46.0" r="1.3" fill-opacity="0.47"/><circle cx="7.7" cy="23.9" r="1.2" fill-opacity="0.46"/><circle cx="20.3" cy="31.2" r="1.0" fill-opacity="0.57"/><circle cx="14.6" cy="22.3" r="1.1" fill-opacity="0.57"/><circle cx="17.8" cy="25.4" r="1.0" fill-opacity="0.55"/><circle cx="0.1" cy="10.0" r="1.2" fill-opacity="0.46"/><circle cx="48.1" cy="10.0" r="1.2" fill-opacity="0.46"/><circle cx="2.9" cy="1.1" r="1.0" fill-opacity="0.30"/><circle cx="2.9" cy="49.1" r="1.0" fill-opacity="0.30"/><circle cx="33.8" cy="2.5" r="1.2" fill-opacity="0.38"/><circle cx="22.8" cy="7.9" r="1.1" fill-opacity="0.30"/><circle cx="34.9" cy="13.2" r="0.9" fill-opacity="0.30"/><circle cx="44.8" cy="14.4" r="1.2" fill-opacity="0.31"/><circle cx="16.5" cy="4.5" r="1.3" fill-opacity="0.38"/><circle cx="8.2" cy="1.8" r="1.1" fill-opacity="0.37"/><circle cx="8.2" cy="49.8" r="1.1" fill-opacity="0.37"/><circle cx="2.6" cy="31.4" r="1.1" fill-opacity="0.28"/><circle cx="45.1" cy="1.6" r="1.0" fill-opacity="0.58"/><circle cx="45.1" cy="49.6" r="1.0" fill-opacity="0.58"/><circle cx="14.6" cy="29.1" r="0.9" fill-opacity="0.48"/><circle cx="45.4" cy="4.2" r="1.0" fill-opacity="0.36"/><circle cx="5.5" cy="18.7" r="0.9" fill-opacity="0.26"/><circle cx="7.3" cy="30.9" r="1.3" fill-opacity="0.54"/><circle cx="28.1" cy="0.6" r="1.2" fill-opacity="0.53"/><circle cx="28.1" cy="48.6" r="1.2" fill-opacity="0.53"/><circle cx="11.0" cy="-1.6" r="1.3" fill-opacity="0.31"/><circle cx="11.0" cy="46.4" r="1.3" fill-opacity="0.31"/><circle cx="29.0" cy="37.9" r="1.1" fill-opacity="0.42"/><circle cx="39.6" cy="5.4" r="1.1" fill-opacity="0.58"/><circle cx="21.4" cy="5.3" r="1.2" fill-opacity="0.59"/><circle cx="3.4" cy="26.5" r="0.9" fill-opacity="0.48"/><circle cx="16.5" cy="35.6" r="1.2" fill-opacity="0.51"/><circle cx="33.6" cy="-1.1" r="1.1" fill-opacity="0.54"/><circle cx="33.6" cy="46.9" r="1.1" fill-opacity="0.54"/><circle cx="-1.0" cy="42.1" r="1.0" fill-opacity="0.57"/><circle cx="47.0" cy="42.1" r="1.0" fill-opacity="0.57"/><circle cx="-1.0" cy="37.7" r="1.0" fill-opacity="0.46"/><circle cx="47.0" cy="37.7" r="1.0" fill-opacity="0.46"/><circle cx="20.8" cy="16.2" r="1.3" fill-opacity="0.50"/><circle cx="11.9" cy="38.5" r="1.0" fill-opacity="0.33"/><circle cx="15.1" cy="25.1" r="1.0" fill-opacity="0.47"/><circle cx="4.9" cy="32.1" r="1.3" fill-opacity="0.56"/><circle cx="45.6" cy="45.3" r="1.0" fill-opacity="0.39"/><circle cx="13.5" cy="6.3" r="1.2" fill-opacity="0.35"/><circle cx="3.8" cy="11.0" r="1.0" fill-opacity="0.25"/><circle cx="26.2" cy="2.3" r="0.9" fill-opacity="0.44"/><circle cx="32.4" cy="31.1" r="1.2" fill-opacity="0.47"/><circle cx="18.7" cy="-0.6" r="1.0" fill-opacity="0.58"/><circle cx="18.7" cy="47.4" r="1.0" fill-opacity="0.58"/><circle cx="7.0" cy="6.1" r="1.1" fill-opacity="0.30"/><circle cx="16.9" cy="43.9" r="0.9" fill-opacity="0.59"/><circle cx="23.3" cy="33.8" r="1.3" fill-opacity="0.57"/><circle cx="36.8" cy="4.4" r="1.1" fill-opacity="0.36"/><circle cx="41.4" cy="40.1" r="0.9" fill-opacity="0.34"/><circle cx="25.5" cy="42.0" r="0.9" fill-opacity="0.57"/><circle cx="-0.6" cy="25.4" r="1.3" fill-opacity="0.52"/><circle cx="47.4" cy="25.4" r="1.3" fill-opacity="0.52"/><circle cx="40.7" cy="37.3" r="0.9" fill-opacity="0.33"/><circle cx="17.6" cy="10.3" r="1.0" fill-opacity="0.58"/><circle cx="22.8" cy="42.7" r="0.9" fill-opacity="0.53"/><circle cx="14.3" cy="43.2" r="1.2" fill-opacity="0.44"/><circle cx="21.2" cy="2.7" r="1.3" fill-opacity="0.34"/><circle cx="41.7" cy="24.7" r="1.1" fill-opacity="0.31"/><circle cx="27.4" cy="24.5" r="0.9" fill-opacity="0.26"/><circle cx="33.0" cy="20.5" r="1.0" fill-opacity="0.29"/><circle cx="18.6" cy="2.2" r="0.9" fill-opacity="0.60"/><circle cx="40.7" cy="34.9" r="1.0" fill-opacity="0.56"/><circle cx="24.9" cy="15.7" r="1.2" fill-opacity="0.51"/><circle cx="4.8" cy="44.5" r="1.1" fill-opacity="0.58"/><circle cx="14.4" cy="14.6" r="1.2" fill-opacity="0.50"/><circle cx="34.1" cy="26.9" r="1.1" fill-opacity="0.49"/><circle cx="31.2" cy="35.7" r="1.2" fill-opacity="0.44"/><circle cx="39.8" cy="20.3" r="1.1" fill-opacity="0.30"/><circle cx="14.3" cy="40.2" r="1.2" fill-opacity="0.42"/><circle cx="44.8" cy="36.1" r="0.9" fill-opacity="0.31"/><circle cx="18.0" cy="17.4" r="1.2" fill-opacity="0.34"/><circle cx="36.2" cy="21.7" r="1.0" fill-opacity="0.49"/><circle cx="37.7" cy="14.3" r="1.2" fill-opacity="0.36"/><circle cx="-1.2" cy="12.8" r="1.0" fill-opacity="0.40"/><circle cx="46.8" cy="12.8" r="1.0" fill-opacity="0.40"/><circle cx="35.9" cy="39.1" r="0.9" fill-opacity="0.56"/><circle cx="9.9" cy="31.3" r="0.9" fill-opacity="0.59"/><circle cx="25.2" cy="12.4" r="0.9" fill-opacity="0.30"/><circle cx="3.7" cy="-1.4" r="1.2" fill-opacity="0.54"/><circle cx="3.7" cy="46.6" r="1.2" fill-opacity="0.54"/><circle cx="2.9" cy="41.7" r="1.0" fill-opacity="0.44"/><circle cx="-1.4" cy="27.7" r="1.1" fill-opacity="0.50"/><circle cx="46.6" cy="27.7" r="1.1" fill-opacity="0.50"/><circle cx="39.3" cy="45.8" r="0.9" fill-opacity="0.54"/><circle cx="40.8" cy="14.5" r="1.3" fill-opacity="0.50"/><circle cx="21.2" cy="-0.1" r="1.3" fill-opacity="0.58"/><circle cx="21.2" cy="47.9" r="1.3" fill-opacity="0.58"/><circle cx="16.3" cy="7.1" r="1.0" fill-opacity="0.55"/><circle cx="11.5" cy="18.1" r="1.2" fill-opacity="0.46"/><circle cx="31.6" cy="12.3" r="0.9" fill-opacity="0.47"/><circle cx="43.4" cy="30.0" r="1.3" fill-opacity="0.36"/><circle cx="30.2" cy="19.4" r="1.1" fill-opacity="0.56"/><circle cx="11.0" cy="43.7" r="1.1" fill-opacity="0.26"/><circle cx="31.5" cy="16.9" r="1.1" fill-opacity="0.34"/><circle cx="22.6" cy="20.2" r="1.2" fill-opacity="0.48"/><circle cx="13.6" cy="31.5" r="1.0" fill-opacity="0.56"/><circle cx="38.4" cy="33.4" r="1.1" fill-opacity="0.37"/><circle cx="23.7" cy="3.5" r="1.2" fill-opacity="0.56"/><circle cx="26.9" cy="19.7" r="1.3" fill-opacity="0.56"/><circle cx="45.5" cy="17.6" r="1.1" fill-opacity="0.49"/><circle cx="17.7" cy="22.3" r="1.1" fill-opacity="0.43"/><circle cx="24.6" cy="45.4" r="1.3" fill-opacity="0.37"/><circle cx="38.3" cy="7.9" r="0.9" fill-opacity="0.50"/><circle cx="6.9" cy="33.6" r="1.1" fill-opacity="0.44"/><circle cx="29.5" cy="10.9" r="1.1" fill-opacity="0.34"/><circle cx="33.6" cy="38.0" r="0.9" fill-opacity="0.27"/><circle cx="22.5" cy="14.2" r="1.2" fill-opacity="0.57"/><circle cx="18.1" cy="33.1" r="1.2" fill-opacity="0.29"/><circle cx="16.5" cy="38.2" r="1.3" fill-opacity="0.54"/><circle cx="2.2" cy="33.9" r="1.1" fill-opacity="0.25"/><circle cx="27.8" cy="7.8" r="1.2" fill-opacity="0.47"/><circle cx="5.0" cy="29.0" r="1.1" fill-opacity="0.26"/><circle cx="2.4" cy="18.0" r="1.2" fill-opacity="0.26"/><circle cx="19.4" cy="12.7" r="1.1" fill-opacity="0.30"/><circle cx="8.6" cy="45.9" r="1.0" fill-opacity="0.56"/><circle cx="41.0" cy="31.7" r="1.2" fill-opacity="0.54"/><circle cx="0.6" cy="0.2" r="1.0" fill-opacity="0.39"/><circle cx="0.6" cy="48.2" r="1.0" fill-opacity="0.39"/><circle cx="48.6" cy="0.2" r="1.0" fill-opacity="0.39"/><circle cx="48.6" cy="48.2" r="1.0" fill-opacity="0.39"/><circle cx="34.1" cy="23.8" r="1.1" fill-opacity="0.26"/><circle cx="42.4" cy="45.4" r="1.0" fill-opacity="0.59"/><circle cx="6.9" cy="21.0" r="1.2" fill-opacity="0.55"/><circle cx="39.0" cy="3.0" r="1.0" fill-opacity="0.49"/><circle cx="29.1" cy="5.4" r="1.2" fill-opacity="0.50"/><circle cx="22.6" cy="27.6" r="1.0" fill-opacity="0.31"/><circle cx="9.1" cy="35.7" r="0.9" fill-opacity="0.56"/><circle cx="30.7" cy="33.3" r="1.3" fill-opacity="0.35"/><circle cx="6.4" cy="16.5" r="1.2" fill-opacity="0.39"/><circle cx="20.3" cy="9.6" r="1.1" fill-opacity="0.54"/><circle cx="27.8" cy="41.0" r="1.0" fill-opacity="0.47"/></g></pattern>
<pattern id="pB" width="48" height="48" patternUnits="userSpaceOnUse"><g fill="#7d96d0"><circle cx="29.9" cy="35.6" r="1.2" fill-opacity="0.59"/><circle cx="38.2" cy="45.2" r="1.1" fill-opacity="0.39"/><circle cx="35.5" cy="44.3" r="0.9" fill-opacity="0.53"/><circle cx="1.4" cy="22.3" r="1.1" fill-opacity="0.57"/><circle cx="49.4" cy="22.3" r="1.1" fill-opacity="0.57"/><circle cx="45.3" cy="31.2" r="1.0" fill-opacity="0.57"/><circle cx="43.2" cy="5.4" r="1.0" fill-opacity="0.58"/><circle cx="22.5" cy="11.8" r="1.2" fill-opacity="0.44"/><circle cx="26.1" cy="27.5" r="1.1" fill-opacity="0.54"/><circle cx="0.6" cy="10.4" r="0.9" fill-opacity="0.49"/><circle cx="48.6" cy="10.4" r="0.9" fill-opacity="0.49"/><circle cx="13.4" cy="44.0" r="1.2" fill-opacity="0.39"/><circle cx="36.8" cy="7.7" r="1.2" fill-opacity="0.54"/><circle cx="29.6" cy="6.1" r="1.2" fill-opacity="0.42"/><circle cx="0.1" cy="41.8" r="0.9" fill-opacity="0.58"/><circle cx="48.1" cy="41.8" r="0.9" fill-opacity="0.58"/><circle cx="10.1" cy="10.3" r="1.2" fill-opacity="0.46"/><circle cx="25.9" cy="32.5" r="0.9" fill-opacity="0.37"/><circle cx="9.8" cy="45.2" r="1.1" fill-opacity="0.40"/><circle cx="33.2" cy="-1.6" r="1.3" fill-opacity="0.51"/><circle cx="33.2" cy="46.4" r="1.3" fill-opacity="0.51"/><circle cx="42.9" cy="14.3" r="0.9" fill-opacity="0.53"/><circle cx="17.3" cy="8.0" r="1.0" fill-opacity="0.63"/><circle cx="7.0" cy="3.1" r="1.3" fill-opacity="0.48"/><circle cx="14.5" cy="28.9" r="1.1" fill-opacity="0.54"/><circle cx="0.2" cy="32.5" r="1.2" fill-opacity="0.64"/><circle cx="48.2" cy="32.5" r="1.2" fill-opacity="0.64"/><circle cx="16.2" cy="14.9" r="0.9" fill-opacity="0.43"/><circle cx="39.3" cy="23.1" r="1.1" fill-opacity="0.41"/><circle cx="15.2" cy="23.1" r="1.1" fill-opacity="0.33"/><circle cx="33.8" cy="2.7" r="1.2" fill-opacity="0.48"/><circle cx="-1.2" cy="1.1" r="0.9" fill-opacity="0.53"/><circle cx="-1.2" cy="49.1" r="0.9" fill-opacity="0.53"/><circle cx="46.8" cy="1.1" r="0.9" fill-opacity="0.53"/><circle cx="46.8" cy="49.1" r="0.9" fill-opacity="0.53"/><circle cx="36.0" cy="40.6" r="1.0" fill-opacity="0.37"/><circle cx="0.9" cy="37.8" r="1.1" fill-opacity="0.35"/><circle cx="48.9" cy="37.8" r="1.1" fill-opacity="0.35"/><circle cx="17.6" cy="27.8" r="0.9" fill-opacity="0.60"/><circle cx="9.4" cy="36.3" r="1.2" fill-opacity="0.30"/><circle cx="44.6" cy="45.2" r="1.2" fill-opacity="0.31"/><circle cx="25.2" cy="37.2" r="1.0" fill-opacity="0.62"/><circle cx="5.2" cy="35.9" r="1.1" fill-opacity="0.41"/><circle cx="38.3" cy="41.3" r="1.0" fill-opacity="0.44"/><circle cx="1.8" cy="45.4" r="0.9" fill-opacity="0.65"/><circle cx="49.8" cy="45.4" r="0.9" fill-opacity="0.65"/><circle cx="4.4" cy="16.4" r="0.9" fill-opacity="0.45"/><circle cx="29.3" cy="44.1" r="1.2" fill-opacity="0.44"/><circle cx="16.3" cy="44.4" r="1.3" fill-opacity="0.39"/><circle cx="26.2" cy="15.0" r="1.3" fill-opacity="0.61"/><circle cx="3.8" cy="7.1" r="1.2" fill-opacity="0.61"/><circle cx="-0.6" cy="25.6" r="1.1" fill-opacity="0.59"/><circle cx="47.4" cy="25.6" r="1.1" fill-opacity="0.59"/><circle cx="19.5" cy="11.4" r="1.2" fill-opacity="0.48"/><circle cx="28.5" cy="39.7" r="1.1" fill-opacity="0.55"/><circle cx="21.9" cy="20.2" r="1.0" fill-opacity="0.33"/><circle cx="40.2" cy="6.3" r="1.2" fill-opacity="0.39"/><circle cx="5.1" cy="20.9" r="1.1" fill-opacity="0.57"/><circle cx="7.2" cy="40.5" r="0.9" fill-opacity="0.31"/><circle cx="-1.2" cy="21.8" r="0.9" fill-opacity="0.51"/><circle cx="46.8" cy="21.8" r="0.9" fill-opacity="0.51"/><circle cx="23.4" cy="35.0" r="1.0" fill-opacity="0.39"/><circle cx="18.1" cy="-0.6" r="1.1" fill-opacity="0.62"/><circle cx="18.1" cy="47.4" r="1.1" fill-opacity="0.62"/><circle cx="24.0" cy="16.2" r="1.0" fill-opacity="0.44"/><circle cx="4.3" cy="13.1" r="1.2" fill-opacity="0.51"/><circle cx="17.3" cy="37.7" r="1.0" fill-opacity="0.47"/><circle cx="37.2" cy="33.3" r="1.1" fill-opacity="0.35"/><circle cx="17.4" cy="33.8" r="1.0" fill-opacity="0.41"/><circle cx="31.2" cy="27.9" r="1.2" fill-opacity="0.41"/><circle cx="12.0" cy="32.2" r="1.1" fill-opacity="0.64"/><circle cx="22.2" cy="39.2" r="1.3" fill-opacity="0.43"/><circle cx="31.1" cy="38.3" r="1.1" fill-opacity="0.41"/><circle cx="16.7" cy="30.9" r="1.0" fill-opacity="0.47"/><circle cx="16.8" cy="40.5" r="1.2" fill-opacity="0.63"/><circle cx="41.8" cy="33.0" r="1.0" fill-opacity="0.30"/><circle cx="24.9" cy="25.4" r="1.1" fill-opacity="0.32"/><circle cx="33.2" cy="34.5" r="0.9" fill-opacity="0.57"/><circle cx="37.5" cy="27.9" r="0.9" fill-opacity="0.55"/><circle cx="31.9" cy="20.2" r="1.0" fill-opacity="0.63"/><circle cx="1.3" cy="7.7" r="1.2" fill-opacity="0.32"/><circle cx="49.3" cy="7.7" r="1.2" fill-opacity="0.32"/><circle cx="21.2" cy="31.2" r="0.9" fill-opacity="0.63"/><circle cx="30.3" cy="2.0" r="1.1" fill-opacity="0.45"/><circle cx="9.3" cy="1.7" r="1.2" fill-opacity="0.58"/><circle cx="9.3" cy="49.7" r="1.2" fill-opacity="0.58"/><circle cx="0.0" cy="19.5" r="1.1" fill-opacity="0.46"/><circle cx="48.0" cy="19.5" r="1.1" fill-opacity="0.46"/><circle cx="13.4" cy="19.7" r="0.9" fill-opacity="0.43"/><circle cx="27.9" cy="46.0" r="0.9" fill-opacity="0.52"/><circle cx="39.3" cy="20.1" r="1.1" fill-opacity="0.35"/><circle cx="39.0" cy="30.8" r="1.1" fill-opacity="0.33"/><circle cx="28.6" cy="27.1" r="0.9" fill-opacity="0.53"/><circle cx="29.2" cy="16.9" r="1.1" fill-opacity="0.61"/><circle cx="42.9" cy="0.0" r="1.1" fill-opacity="0.55"/><circle cx="42.9" cy="48.0" r="1.1" fill-opacity="0.55"/><circle cx="5.2" cy="27.2" r="0.9" fill-opacity="0.59"/><circle cx="18.0" cy="20.7" r="0.9" fill-opacity="0.52"/><circle cx="10.9" cy="14.0" r="1.3" fill-opacity="0.62"/><circle cx="28.6" cy="12.5" r="1.3" fill-opacity="0.46"/><circle cx="19.9" cy="15.3" r="1.2" fill-opacity="0.58"/><circle cx="5.9" cy="29.8" r="0.9" fill-opacity="0.63"/><circle cx="37.5" cy="11.8" r="1.3" fill-opacity="0.45"/><circle cx="12.8" cy="7.4" r="1.2" fill-opacity="0.46"/><circle cx="-0.5" cy="14.1" r="1.0" fill-opacity="0.55"/><circle cx="47.5" cy="14.1" r="1.0" fill-opacity="0.55"/><circle cx="29.2" cy="22.8" r="0.9" fill-opacity="0.58"/><circle cx="36.5" cy="14.4" r="1.3" fill-opacity="0.40"/><circle cx="14.2" cy="25.4" r="1.3" fill-opacity="0.33"/><circle cx="21.9" cy="44.0" r="1.2" fill-opacity="0.40"/><circle cx="42.6" cy="26.2" r="1.3" fill-opacity="0.45"/><circle cx="20.5" cy="27.6" r="1.3" fill-opacity="0.31"/><circle cx="34.0" cy="30.3" r="0.9" fill-opacity="0.59"/><circle cx="40.9" cy="9.4" r="1.1" fill-opacity="0.49"/><circle cx="14.2" cy="39.8" r="0.9" fill-opacity="0.36"/><circle cx="3.2" cy="40.1" r="1.0" fill-opacity="0.32"/><circle cx="13.7" cy="37.5" r="1.3" fill-opacity="0.57"/><circle cx="39.0" cy="3.3" r="1.3" fill-opacity="0.55"/><circle cx="11.0" cy="39.3" r="1.0" fill-opacity="0.33"/><circle cx="1.2" cy="34.7" r="1.2" fill-opacity="0.34"/><circle cx="49.2" cy="34.7" r="1.2" fill-opacity="0.34"/><circle cx="34.2" cy="6.5" r="1.1" fill-opacity="0.46"/><circle cx="19.9" cy="7.7" r="1.1" fill-opacity="0.33"/><circle cx="3.5" cy="2.8" r="0.9" fill-opacity="0.48"/><circle cx="45.0" cy="18.0" r="0.9" fill-opacity="0.48"/><circle cx="24.3" cy="43.7" r="0.9" fill-opacity="0.40"/><circle cx="24.8" cy="6.4" r="0.9" fill-opacity="0.50"/><circle cx="11.3" cy="17.8" r="1.0" fill-opacity="0.38"/><circle cx="4.1" cy="32.1" r="0.9" fill-opacity="0.50"/><circle cx="42.1" cy="23.1" r="1.3" fill-opacity="0.45"/><circle cx="10.7" cy="5.6" r="0.9" fill-opacity="0.41"/><circle cx="35.5" cy="19.0" r="1.0" fill-opacity="0.50"/><circle cx="36.5" cy="0.0" r="1.2" fill-opacity="0.50"/><circle cx="36.5" cy="48.0" r="1.2" fill-opacity="0.50"/><circle cx="22.3" cy="4.8" r="0.9" fill-opacity="0.41"/><circle cx="7.4" cy="7.6" r="1.0" fill-opacity="0.45"/><circle cx="7.8" cy="13.8" r="1.0" fill-opacity="0.65"/><circle cx="11.3" cy="23.1" r="1.1" fill-opacity="0.53"/><circle cx="19.7" cy="2.2" r="1.2" fill-opacity="0.53"/><circle cx="44.9" cy="2.6" r="1.2" fill-opacity="0.43"/><circle cx="11.7" cy="2.4" r="1.1" fill-opacity="0.64"/><circle cx="14.7" cy="2.5" r="0.9" fill-opacity="0.52"/><circle cx="8.6" cy="24.4" r="1.0" fill-opacity="0.32"/><circle cx="19.3" cy="25.5" r="0.9" fill-opacity="0.57"/><circle cx="44.2" cy="28.7" r="0.9" fill-opacity="0.55"/><circle cx="23.4" cy="27.4" r="0.9" fill-opacity="0.43"/><circle cx="39.3" cy="15.0" r="0.9" fill-opacity="0.49"/><circle cx="17.9" cy="4.7" r="1.2" fill-opacity="0.38"/><circle cx="41.3" cy="45.6" r="1.1" fill-opacity="0.62"/><circle cx="34.1" cy="21.4" r="1.0" fill-opacity="0.46"/><circle cx="45.0" cy="38.1" r="1.2" fill-opacity="0.60"/><circle cx="25.6" cy="-1.5" r="0.9" fill-opacity="0.53"/><circle cx="25.6" cy="46.5" r="0.9" fill-opacity="0.53"/><circle cx="1.6" cy="27.7" r="0.9" fill-opacity="0.34"/><circle cx="49.6" cy="27.7" r="0.9" fill-opacity="0.34"/><circle cx="16.9" cy="11.9" r="1.3" fill-opacity="0.32"/><circle cx="32.8" cy="41.4" r="1.3" fill-opacity="0.56"/><circle cx="8.9" cy="18.7" r="1.2" fill-opacity="0.56"/><circle cx="32.6" cy="25.1" r="1.1" fill-opacity="0.40"/><circle cx="45.9" cy="43.1" r="1.0" fill-opacity="0.37"/><circle cx="43.0" cy="11.5" r="1.2" fill-opacity="0.57"/><circle cx="14.7" cy="12.8" r="1.2" fill-opacity="0.37"/><circle cx="-1.6" cy="9.0" r="1.1" fill-opacity="0.39"/><circle cx="46.4" cy="9.0" r="1.1" fill-opacity="0.39"/><circle cx="28.5" cy="31.0" r="1.2" fill-opacity="0.56"/><circle cx="4.8" cy="9.3" r="1.3" fill-opacity="0.55"/><circle cx="5.0" cy="4.9" r="1.2" fill-opacity="0.57"/><circle cx="26.1" cy="18.0" r="0.9" fill-opacity="0.51"/><circle cx="14.2" cy="16.2" r="0.9" fill-opacity="0.43"/><circle cx="2.4" cy="20.2" r="0.9" fill-opacity="0.63"/><circle cx="38.9" cy="0.2" r="0.9" fill-opacity="0.62"/><circle cx="38.9" cy="48.2" r="0.9" fill-opacity="0.62"/><circle cx="24.8" cy="2.6" r="1.3" fill-opacity="0.45"/><circle cx="21.2" cy="22.7" r="1.2" fill-opacity="0.32"/><circle cx="19.8" cy="42.0" r="0.9" fill-opacity="0.30"/><circle cx="7.1" cy="37.5" r="0.9" fill-opacity="0.30"/><circle cx="8.1" cy="22.0" r="1.2" fill-opacity="0.33"/><circle cx="43.1" cy="42.5" r="1.1" fill-opacity="0.40"/><circle cx="11.6" cy="27.3" r="0.9" fill-opacity="0.45"/><circle cx="43.1" cy="8.5" r="0.9" fill-opacity="0.64"/><circle cx="14.3" cy="0.1" r="1.0" fill-opacity="0.51"/><circle cx="14.3" cy="48.1" r="1.0" fill-opacity="0.51"/><circle cx="36.4" cy="24.8" r="1.1" fill-opacity="0.52"/><circle cx="7.5" cy="10.4" r="1.1" fill-opacity="0.39"/><circle cx="31.2" cy="8.4" r="0.9" fill-opacity="0.61"/><circle cx="14.1" cy="5.2" r="0.9" fill-opacity="0.46"/><circle cx="45.9" cy="5.6" r="1.2" fill-opacity="0.50"/><circle cx="40.5" cy="28.0" r="1.3" fill-opacity="0.58"/><circle cx="34.8" cy="12.5" r="1.1" fill-opacity="0.34"/><circle cx="41.7" cy="3.0" r="1.1" fill-opacity="0.47"/><circle cx="5.2" cy="24.6" r="1.2" fill-opacity="0.49"/><circle cx="4.9" cy="-0.1" r="1.2" fill-opacity="0.58"/><circle cx="4.9" cy="47.9" r="1.2" fill-opacity="0.58"/><circle cx="7.8" cy="33.5" r="1.1" fill-opacity="0.59"/><circle cx="45.3" cy="15.0" r="1.3" fill-opacity="0.35"/><circle cx="32.4" cy="16.3" r="1.3" fill-opacity="0.60"/><circle cx="23.7" cy="0.1" r="1.2" fill-opacity="0.42"/><circle cx="23.7" cy="48.1" r="1.2" fill-opacity="0.42"/><circle cx="38.0" cy="37.0" r="1.0" fill-opacity="0.35"/><circle cx="25.7" cy="23.0" r="1.0" fill-opacity="0.60"/><circle cx="30.9" cy="11.0" r="1.0" fill-opacity="0.30"/><circle cx="36.8" cy="5.1" r="1.0" fill-opacity="0.33"/><circle cx="14.4" cy="35.0" r="1.1" fill-opacity="0.57"/><circle cx="21.9" cy="36.8" r="1.3" fill-opacity="0.33"/><circle cx="31.7" cy="31.6" r="1.0" fill-opacity="0.34"/><circle cx="40.3" cy="17.6" r="1.3" fill-opacity="0.59"/><circle cx="29.5" cy="19.5" r="1.1" fill-opacity="0.63"/><circle cx="41.0" cy="40.4" r="1.1" fill-opacity="0.57"/><circle cx="5.3" cy="42.5" r="1.1" fill-opacity="0.43"/><circle cx="40.2" cy="35.7" r="1.3" fill-opacity="0.59"/><circle cx="30.4" cy="41.0" r="1.1" fill-opacity="0.60"/><circle cx="25.1" cy="40.3" r="1.1" fill-opacity="0.58"/><circle cx="44.4" cy="34.0" r="0.9" fill-opacity="0.35"/><circle cx="34.7" cy="36.7" r="0.9" fill-opacity="0.51"/><circle cx="43.0" cy="20.4" r="1.2" fill-opacity="0.35"/><circle cx="-0.1" cy="29.8" r="1.1" fill-opacity="0.34"/><circle cx="47.9" cy="29.8" r="1.1" fill-opacity="0.34"/><circle cx="6.4" cy="45.5" r="1.2" fill-opacity="0.57"/><circle cx="38.8" cy="25.6" r="0.9" fill-opacity="0.64"/><circle cx="26.2" cy="20.5" r="1.1" fill-opacity="0.34"/><circle cx="25.1" cy="12.3" r="1.0" fill-opacity="0.36"/><circle cx="44.6" cy="22.6" r="1.2" fill-opacity="0.62"/><circle cx="20.3" cy="18.2" r="0.9" fill-opacity="0.36"/><circle cx="26.7" cy="8.5" r="1.1" fill-opacity="0.60"/><circle cx="32.2" cy="13.2" r="1.2" fill-opacity="0.46"/><circle cx="1.8" cy="13.5" r="0.9" fill-opacity="0.51"/><circle cx="49.8" cy="13.5" r="0.9" fill-opacity="0.51"/><circle cx="21.4" cy="-0.4" r="1.1" fill-opacity="0.58"/><circle cx="21.4" cy="47.6" r="1.1" fill-opacity="0.58"/><circle cx="42.6" cy="37.5" r="1.1" fill-opacity="0.56"/><circle cx="12.8" cy="9.8" r="1.3" fill-opacity="0.52"/><circle cx="8.5" cy="31.0" r="1.3" fill-opacity="0.40"/><circle cx="41.7" cy="30.5" r="0.9" fill-opacity="0.61"/><circle cx="2.7" cy="42.9" r="0.9" fill-opacity="0.65"/><circle cx="24.3" cy="9.3" r="1.1" fill-opacity="0.32"/><circle cx="19.8" cy="39.4" r="1.0" fill-opacity="0.55"/><circle cx="21.7" cy="25.5" r="1.0" fill-opacity="0.52"/><circle cx="33.8" cy="27.2" r="0.9" fill-opacity="0.59"/><circle cx="19.1" cy="35.9" r="1.0" fill-opacity="0.59"/><circle cx="27.8" cy="34.1" r="0.9" fill-opacity="0.53"/><circle cx="9.9" cy="41.4" r="1.1" fill-opacity="0.44"/><circle cx="36.5" cy="30.8" r="0.9" fill-opacity="0.49"/><circle cx="-0.2" cy="3.8" r="1.2" fill-opacity="0.34"/><circle cx="47.8" cy="3.8" r="1.2" fill-opacity="0.34"/><circle cx="6.7" cy="16.0" r="1.1" fill-opacity="0.30"/><circle cx="31.7" cy="22.8" r="1.3" fill-opacity="0.64"/><circle cx="-0.9" cy="45.7" r="1.2" fill-opacity="0.47"/><circle cx="47.1" cy="45.7" r="1.2" fill-opacity="0.47"/><circle cx="33.6" cy="8.8" r="0.9" fill-opacity="0.34"/><circle cx="12.3" cy="-1.2" r="1.2" fill-opacity="0.58"/><circle cx="12.3" cy="46.8" r="1.2" fill-opacity="0.58"/><circle cx="8.4" cy="5.2" r="1.3" fill-opacity="0.60"/><circle cx="1.1" cy="0.0" r="1.0" fill-opacity="0.39"/><circle cx="1.1" cy="48.0" r="1.0" fill-opacity="0.39"/><circle cx="49.1" cy="0.0" r="1.0" fill-opacity="0.39"/><circle cx="49.1" cy="48.0" r="1.0" fill-opacity="0.39"/><circle cx="37.5" cy="16.6" r="1.1" fill-opacity="0.42"/><circle cx="24.6" cy="29.7" r="1.1" fill-opacity="0.61"/><circle cx="22.8" cy="41.6" r="1.1" fill-opacity="0.64"/><circle cx="32.0" cy="5.1" r="1.2" fill-opacity="0.32"/><circle cx="27.4" cy="5.1" r="1.2" fill-opacity="0.53"/><circle cx="1.9" cy="16.4" r="1.1" fill-opacity="0.30"/><circle cx="49.9" cy="16.4" r="1.1" fill-opacity="0.30"/><circle cx="30.4" cy="-1.6" r="1.2" fill-opacity="0.47"/><circle cx="30.4" cy="46.4" r="1.2" fill-opacity="0.47"/><circle cx="7.9" cy="-0.5" r="1.1" fill-opacity="0.36"/><circle cx="7.9" cy="47.5" r="1.1" fill-opacity="0.36"/><circle cx="27.4" cy="2.2" r="0.9" fill-opacity="0.30"/><circle cx="17.0" cy="18.2" r="0.9" fill-opacity="0.41"/><circle cx="9.0" cy="28.5" r="0.9" fill-opacity="0.32"/><circle cx="37.1" cy="21.4" r="1.2" fill-opacity="0.55"/><circle cx="31.9" cy="44.0" r="1.2" fill-opacity="0.38"/><circle cx="27.9" cy="37.2" r="1.2" fill-opacity="0.51"/><circle cx="-1.8" cy="11.9" r="0.9" fill-opacity="0.61"/><circle cx="46.2" cy="11.9" r="0.9" fill-opacity="0.61"/><circle cx="12.3" cy="41.6" r="1.0" fill-opacity="0.36"/><circle cx="-1.2" cy="36.5" r="0.9" fill-opacity="0.62"/><circle cx="46.8" cy="36.5" r="0.9" fill-opacity="0.62"/><circle cx="40.2" cy="12.3" r="0.9" fill-opacity="0.43"/><circle cx="39.9" cy="43.4" r="1.1" fill-opacity="0.43"/><circle cx="18.7" cy="44.4" r="1.1" fill-opacity="0.33"/><circle cx="27.6" cy="24.9" r="1.0" fill-opacity="0.50"/><circle cx="17.8" cy="23.6" r="1.1" fill-opacity="0.51"/><circle cx="2.5" cy="24.8" r="1.0" fill-opacity="0.52"/><circle cx="34.9" cy="16.3" r="1.3" fill-opacity="0.47"/><circle cx="10.9" cy="20.5" r="1.1" fill-opacity="0.59"/><circle cx="2.9" cy="29.8" r="1.0" fill-opacity="0.39"/><circle cx="-2.0" cy="40.5" r="1.3" fill-opacity="0.41"/><circle cx="46.0" cy="40.5" r="1.3" fill-opacity="0.41"/><circle cx="22.0" cy="14.1" r="1.0" fill-opacity="0.43"/><circle cx="17.3" cy="2.3" r="1.3" fill-opacity="0.49"/><circle cx="27.3" cy="42.7" r="1.3" fill-opacity="0.36"/><circle cx="4.7" cy="38.3" r="1.0" fill-opacity="0.53"/><circle cx="34.8" cy="32.8" r="1.0" fill-opacity="0.53"/><circle cx="6.4" cy="18.4" r="1.1" fill-opacity="0.33"/><circle cx="19.0" cy="30.0" r="0.9" fill-opacity="0.45"/><circle cx="11.0" cy="29.8" r="1.1" fill-opacity="0.36"/><circle cx="42.9" cy="16.8" r="1.0" fill-opacity="0.30"/><circle cx="20.7" cy="33.9" r="1.0" fill-opacity="0.41"/><circle cx="22.0" cy="9.0" r="1.0" fill-opacity="0.51"/></g></pattern>
<pattern id="pC" width="48" height="48" patternUnits="userSpaceOnUse"><g fill="#6f84c0"><circle cx="22.2" cy="17.9" r="1.2" fill-opacity="0.50"/><circle cx="6.6" cy="41.6" r="1.2" fill-opacity="0.42"/><circle cx="0.3" cy="24.1" r="1.3" fill-opacity="0.64"/><circle cx="48.3" cy="24.1" r="1.3" fill-opacity="0.64"/><circle cx="43.1" cy="3.9" r="1.2" fill-opacity="0.41"/><circle cx="26.6" cy="29.6" r="1.2" fill-opacity="0.46"/><circle cx="2.0" cy="18.2" r="1.0" fill-opacity="0.68"/><circle cx="50.0" cy="18.2" r="1.0" fill-opacity="0.68"/><circle cx="33.8" cy="21.7" r="1.4" fill-opacity="0.37"/><circle cx="34.8" cy="7.5" r="1.3" fill-opacity="0.56"/><circle cx="11.4" cy="5.3" r="1.1" fill-opacity="0.45"/><circle cx="24.3" cy="44.3" r="1.2" fill-opacity="0.51"/><circle cx="28.3" cy="37.2" r="1.2" fill-opacity="0.58"/><circle cx="18.4" cy="35.8" r="1.0" fill-opacity="0.62"/><circle cx="4.9" cy="14.0" r="1.4" fill-opacity="0.69"/><circle cx="32.4" cy="34.8" r="1.2" fill-opacity="0.37"/><circle cx="20.2" cy="4.2" r="0.9" fill-opacity="0.40"/><circle cx="12.8" cy="10.1" r="1.4" fill-opacity="0.46"/><circle cx="13.5" cy="38.9" r="1.1" fill-opacity="0.66"/><circle cx="9.6" cy="42.5" r="1.1" fill-opacity="0.54"/><circle cx="18.2" cy="23.6" r="1.1" fill-opacity="0.37"/><circle cx="28.6" cy="5.8" r="1.2" fill-opacity="0.65"/><circle cx="27.8" cy="43.0" r="1.0" fill-opacity="0.43"/><circle cx="9.7" cy="0.4" r="1.1" fill-opacity="0.36"/><circle cx="9.7" cy="48.4" r="1.1" fill-opacity="0.36"/><circle cx="4.0" cy="25.9" r="1.1" fill-opacity="0.64"/><circle cx="0.8" cy="4.1" r="1.2" fill-opacity="0.54"/><circle cx="48.8" cy="4.1" r="1.2" fill-opacity="0.54"/><circle cx="29.2" cy="46.0" r="1.3" fill-opacity="0.40"/><circle cx="12.9" cy="-0.2" r="1.2" fill-opacity="0.48"/><circle cx="12.9" cy="47.8" r="1.2" fill-opacity="0.48"/><circle cx="33.9" cy="45.6" r="1.2" fill-opacity="0.39"/><circle cx="11.4" cy="29.3" r="1.3" fill-opacity="0.38"/><circle cx="32.4" cy="28.3" r="1.0" fill-opacity="0.63"/><circle cx="37.2" cy="4.2" r="1.4" fill-opacity="0.50"/><circle cx="16.7" cy="41.5" r="1.1" fill-opacity="0.44"/><circle cx="28.0" cy="21.7" r="1.0" fill-opacity="0.57"/><circle cx="19.3" cy="-0.7" r="1.0" fill-opacity="0.39"/><circle cx="19.3" cy="47.3" r="1.0" fill-opacity="0.39"/><circle cx="27.6" cy="0.9" r="1.1" fill-opacity="0.41"/><circle cx="27.6" cy="48.9" r="1.1" fill-opacity="0.41"/><circle cx="38.4" cy="15.8" r="1.2" fill-opacity="0.64"/><circle cx="20.8" cy="10.2" r="1.3" fill-opacity="0.52"/><circle cx="4.3" cy="30.2" r="1.1" fill-opacity="0.50"/><circle cx="4.9" cy="37.6" r="0.9" fill-opacity="0.60"/><circle cx="1.2" cy="37.5" r="1.1" fill-opacity="0.46"/><circle cx="49.2" cy="37.5" r="1.1" fill-opacity="0.46"/><circle cx="38.8" cy="23.9" r="0.9" fill-opacity="0.51"/><circle cx="34.1" cy="11.9" r="1.2" fill-opacity="0.49"/><circle cx="19.2" cy="17.9" r="1.3" fill-opacity="0.59"/><circle cx="41.3" cy="17.7" r="1.0" fill-opacity="0.53"/><circle cx="32.0" cy="8.2" r="1.4" fill-opacity="0.53"/><circle cx="40.5" cy="12.4" r="1.2" fill-opacity="0.37"/><circle cx="2.4" cy="-1.2" r="1.1" fill-opacity="0.51"/><circle cx="2.4" cy="46.8" r="1.1" fill-opacity="0.51"/><circle cx="8.3" cy="45.4" r="1.1" fill-opacity="0.50"/><circle cx="-0.7" cy="29.1" r="1.2" fill-opacity="0.54"/><circle cx="47.3" cy="29.1" r="1.2" fill-opacity="0.54"/><circle cx="10.0" cy="18.7" r="1.1" fill-opacity="0.41"/><circle cx="17.0" cy="6.8" r="1.1" fill-opacity="0.69"/><circle cx="33.4" cy="3.1" r="1.1" fill-opacity="0.36"/><circle cx="21.7" cy="33.8" r="0.9" fill-opacity="0.54"/><circle cx="36.7" cy="18.4" r="0.9" fill-opacity="0.38"/><circle cx="42.6" cy="8.1" r="1.0" fill-opacity="0.51"/><circle cx="34.3" cy="37.0" r="1.4" fill-opacity="0.52"/><circle cx="42.3" cy="23.7" r="1.1" fill-opacity="0.50"/><circle cx="4.8" cy="2.3" r="1.2" fill-opacity="0.51"/><circle cx="25.4" cy="8.3" r="1.3" fill-opacity="0.66"/><circle cx="37.4" cy="10.7" r="1.2" fill-opacity="0.50"/><circle cx="0.6" cy="8.4" r="1.2" fill-opacity="0.67"/><circle cx="48.6" cy="8.4" r="1.2" fill-opacity="0.67"/><circle cx="21.9" cy="26.8" r="1.0" fill-opacity="0.43"/><circle cx="25.1" cy="25.8" r="1.2" fill-opacity="0.59"/><circle cx="30.9" cy="26.0" r="1.2" fill-opacity="0.56"/><circle cx="14.4" cy="34.8" r="1.3" fill-opacity="0.52"/><circle cx="23.5" cy="30.6" r="1.3" fill-opacity="0.69"/><circle cx="35.0" cy="30.0" r="1.1" fill-opacity="0.65"/><circle cx="3.3" cy="9.1" r="1.3" fill-opacity="0.66"/><circle cx="29.2" cy="8.7" r="0.9" fill-opacity="0.67"/><circle cx="16.0" cy="37.6" r="1.3" fill-opacity="0.69"/><circle cx="-0.7" cy="40.0" r="1.4" fill-opacity="0.45"/><circle cx="47.3" cy="40.0" r="1.4" fill-opacity="0.45"/><circle cx="5.1" cy="16.7" r="1.2" fill-opacity="0.40"/><circle cx="11.1" cy="37.4" r="1.2" fill-opacity="0.67"/><circle cx="9.2" cy="10.6" r="1.0" fill-opacity="0.47"/><circle cx="5.3" cy="5.8" r="0.9" fill-opacity="0.42"/><circle cx="45.0" cy="-1.1" r="1.0" fill-opacity="0.38"/><circle cx="45.0" cy="46.9" r="1.0" fill-opacity="0.38"/><circle cx="17.7" cy="30.5" r="1.4" fill-opacity="0.66"/><circle cx="11.3" cy="12.3" r="1.1" fill-opacity="0.61"/><circle cx="21.1" cy="45.3" r="1.2" fill-opacity="0.53"/><circle cx="43.3" cy="44.7" r="1.1" fill-opacity="0.58"/><circle cx="15.2" cy="11.9" r="1.2" fill-opacity="0.44"/><circle cx="13.3" cy="22.2" r="1.1" fill-opacity="0.57"/><circle cx="8.2" cy="26.1" r="1.2" fill-opacity="0.42"/><circle cx="9.1" cy="34.2" r="1.2" fill-opacity="0.66"/><circle cx="30.0" cy="16.2" r="1.3" fill-opacity="0.58"/><circle cx="36.6" cy="42.4" r="0.9" fill-opacity="0.50"/><circle cx="26.0" cy="16.1" r="0.9" fill-opacity="0.37"/><circle cx="22.6" cy="41.6" r="1.0" fill-opacity="0.51"/><circle cx="24.7" cy="4.8" r="1.3" fill-opacity="0.57"/><circle cx="0.5" cy="44.2" r="1.0" fill-opacity="0.59"/><circle cx="48.5" cy="44.2" r="1.0" fill-opacity="0.59"/><circle cx="7.8" cy="4.6" r="1.2" fill-opacity="0.53"/><circle cx="39.6" cy="-0.2" r="1.0" fill-opacity="0.50"/><circle cx="39.6" cy="47.8" r="1.0" fill-opacity="0.50"/><circle cx="31.2" cy="19.0" r="1.1" fill-opacity="0.60"/><circle cx="6.5" cy="33.1" r="1.1" fill-opacity="0.51"/><circle cx="15.4" cy="18.5" r="1.1" fill-opacity="0.52"/><circle cx="8.8" cy="29.4" r="1.2" fill-opacity="0.60"/><circle cx="41.7" cy="27.4" r="1.3" fill-opacity="0.49"/><circle cx="0.5" cy="32.8" r="1.3" fill-opacity="0.69"/><circle cx="48.5" cy="32.8" r="1.3" fill-opacity="0.69"/><circle cx="41.6" cy="32.5" r="1.4" fill-opacity="0.60"/><circle cx="43.6" cy="36.2" r="0.9" fill-opacity="0.65"/><circle cx="11.1" cy="15.9" r="1.3" fill-opacity="0.36"/><circle cx="6.5" cy="10.1" r="1.1" fill-opacity="0.46"/><circle cx="-1.7" cy="26.7" r="1.3" fill-opacity="0.56"/><circle cx="46.3" cy="26.7" r="1.3" fill-opacity="0.56"/><circle cx="25.9" cy="32.2" r="1.0" fill-opacity="0.42"/><circle cx="2.7" cy="41.0" r="1.0" fill-opacity="0.38"/><circle cx="-1.7" cy="2.0" r="1.3" fill-opacity="0.68"/><circle cx="46.3" cy="2.0" r="1.3" fill-opacity="0.68"/><circle cx="7.3" cy="18.2" r="1.0" fill-opacity="0.61"/><circle cx="-1.9" cy="19.0" r="1.4" fill-opacity="0.42"/><circle cx="46.1" cy="19.0" r="1.4" fill-opacity="0.42"/><circle cx="22.3" cy="5.9" r="1.2" fill-opacity="0.50"/><circle cx="34.1" cy="17.2" r="1.4" fill-opacity="0.65"/><circle cx="3.6" cy="33.9" r="0.9" fill-opacity="0.42"/><circle cx="25.6" cy="35.9" r="1.3" fill-opacity="0.55"/><circle cx="45.8" cy="8.8" r="1.2" fill-opacity="0.63"/><circle cx="31.1" cy="38.3" r="1.3" fill-opacity="0.68"/><circle cx="0.9" cy="20.9" r="1.1" fill-opacity="0.37"/><circle cx="48.9" cy="20.9" r="1.1" fill-opacity="0.37"/><circle cx="1.4" cy="14.0" r="1.2" fill-opacity="0.37"/><circle cx="49.4" cy="14.0" r="1.2" fill-opacity="0.37"/><circle cx="6.9" cy="35.8" r="1.2" fill-opacity="0.65"/><circle cx="30.5" cy="22.9" r="1.1" fill-opacity="0.56"/><circle cx="4.3" cy="19.6" r="1.0" fill-opacity="0.41"/><circle cx="37.3" cy="34.7" r="1.2" fill-opacity="0.65"/><circle cx="3.6" cy="22.9" r="1.4" fill-opacity="0.36"/><circle cx="28.2" cy="25.6" r="1.4" fill-opacity="0.53"/><circle cx="33.5" cy="25.7" r="1.1" fill-opacity="0.49"/><circle cx="24.5" cy="21.2" r="1.2" fill-opacity="0.47"/><circle cx="21.7" cy="39.1" r="1.0" fill-opacity="0.65"/><circle cx="21.7" cy="2.0" r="1.3" fill-opacity="0.56"/><circle cx="10.0" cy="39.9" r="1.3" fill-opacity="0.70"/><circle cx="23.1" cy="14.0" r="1.0" fill-opacity="0.64"/><circle cx="36.5" cy="39.1" r="1.3" fill-opacity="0.47"/><circle cx="-1.3" cy="35.7" r="1.2" fill-opacity="0.51"/><circle cx="46.7" cy="35.7" r="1.2" fill-opacity="0.51"/><circle cx="26.2" cy="39.1" r="1.0" fill-opacity="0.50"/><circle cx="10.6" cy="21.5" r="1.0" fill-opacity="0.68"/><circle cx="30.1" cy="12.3" r="1.0" fill-opacity="0.57"/><circle cx="39.4" cy="5.9" r="1.2" fill-opacity="0.69"/><circle cx="20.0" cy="13.5" r="1.3" fill-opacity="0.48"/><circle cx="31.1" cy="0.1" r="1.1" fill-opacity="0.37"/><circle cx="31.1" cy="48.1" r="1.1" fill-opacity="0.37"/><circle cx="40.6" cy="45.3" r="0.9" fill-opacity="0.46"/><circle cx="16.2" cy="0.9" r="1.4" fill-opacity="0.37"/><circle cx="16.2" cy="48.9" r="1.4" fill-opacity="0.37"/><circle cx="39.9" cy="8.9" r="1.0" fill-opacity="0.57"/><circle cx="27.5" cy="13.2" r="1.1" fill-opacity="0.41"/><circle cx="40.9" cy="36.7" r="1.4" fill-opacity="0.36"/><circle cx="16.7" cy="3.5" r="1.2" fill-opacity="0.50"/><circle cx="9.3" cy="6.8" r="1.1" fill-opacity="0.42"/><circle cx="35.2" cy="33.0" r="1.0" fill-opacity="0.49"/><circle cx="21.5" cy="22.6" r="1.3" fill-opacity="0.51"/><circle cx="17.1" cy="26.6" r="1.3" fill-opacity="0.66"/><circle cx="16.4" cy="45.8" r="1.0" fill-opacity="0.66"/><circle cx="45.9" cy="14.8" r="1.2" fill-opacity="0.50"/><circle cx="13.5" cy="41.5" r="1.2" fill-opacity="0.66"/><circle cx="24.6" cy="1.5" r="1.1" fill-opacity="0.38"/><circle cx="24.6" cy="49.5" r="1.1" fill-opacity="0.38"/><circle cx="37.1" cy="-2.0" r="1.4" fill-opacity="0.39"/><circle cx="37.1" cy="46.0" r="1.4" fill-opacity="0.39"/><circle cx="44.7" cy="32.7" r="1.0" fill-opacity="0.60"/><circle cx="13.0" cy="25.6" r="1.1" fill-opacity="0.45"/><circle cx="33.8" cy="42.0" r="1.2" fill-opacity="0.66"/><circle cx="16.1" cy="21.7" r="1.1" fill-opacity="0.67"/><circle cx="43.9" cy="40.2" r="1.2" fill-opacity="0.56"/><circle cx="14.3" cy="31.3" r="1.2" fill-opacity="0.35"/><circle cx="4.4" cy="43.6" r="1.0" fill-opacity="0.59"/><circle cx="44.8" cy="21.6" r="1.2" fill-opacity="0.38"/><circle cx="43.5" cy="30.3" r="1.2" fill-opacity="0.52"/><circle cx="17.9" cy="10.0" r="1.2" fill-opacity="0.49"/><circle cx="38.8" cy="29.2" r="1.0" fill-opacity="0.47"/><circle cx="29.7" cy="41.0" r="1.4" fill-opacity="0.42"/><circle cx="39.5" cy="40.6" r="1.3" fill-opacity="0.54"/><circle cx="38.0" cy="32.0" r="0.9" fill-opacity="0.63"/><circle cx="9.1" cy="13.9" r="0.9" fill-opacity="0.64"/><circle cx="12.0" cy="2.4" r="1.1" fill-opacity="0.67"/><circle cx="-0.2" cy="11.3" r="1.3" fill-opacity="0.48"/><circle cx="47.8" cy="11.3" r="1.3" fill-opacity="0.48"/><circle cx="43.4" cy="11.4" r="1.2" fill-opacity="0.70"/><circle cx="42.6" cy="0.2" r="1.0" fill-opacity="0.42"/><circle cx="42.6" cy="48.2" r="1.0" fill-opacity="0.42"/><circle cx="41.7" cy="14.8" r="1.0" fill-opacity="0.64"/><circle cx="30.2" cy="3.2" r="1.0" fill-opacity="0.44"/><circle cx="16.3" cy="33.0" r="1.2" fill-opacity="0.55"/><circle cx="31.4" cy="43.2" r="1.1" fill-opacity="0.54"/><circle cx="35.9" cy="27.1" r="0.9" fill-opacity="0.35"/><circle cx="43.8" cy="16.5" r="0.9" fill-opacity="0.37"/><circle cx="11.8" cy="34.1" r="1.3" fill-opacity="0.69"/><circle cx="-1.3" cy="6.1" r="1.0" fill-opacity="0.48"/><circle cx="46.7" cy="6.1" r="1.0" fill-opacity="0.48"/><circle cx="16.5" cy="15.0" r="0.9" fill-opacity="0.50"/><circle cx="13.9" cy="14.6" r="1.2" fill-opacity="0.57"/><circle cx="35.5" cy="14.4" r="1.4" fill-opacity="0.54"/><circle cx="11.9" cy="44.0" r="0.9" fill-opacity="0.48"/><circle cx="14.6" cy="7.8" r="1.1" fill-opacity="0.47"/><circle cx="28.3" cy="18.9" r="0.9" fill-opacity="0.57"/><circle cx="6.3" cy="21.9" r="1.1" fill-opacity="0.60"/><circle cx="36.3" cy="1.1" r="1.1" fill-opacity="0.37"/><circle cx="36.3" cy="49.1" r="1.1" fill-opacity="0.37"/><circle cx="8.9" cy="23.5" r="1.0" fill-opacity="0.41"/><circle cx="36.8" cy="22.0" r="1.1" fill-opacity="0.40"/><circle cx="13.9" cy="28.5" r="0.9" fill-opacity="0.53"/><circle cx="1.5" cy="27.4" r="1.0" fill-opacity="0.39"/><circle cx="49.5" cy="27.4" r="1.0" fill-opacity="0.39"/><circle cx="19.3" cy="32.6" r="1.0" fill-opacity="0.60"/><circle cx="29.3" cy="31.4" r="1.3" fill-opacity="0.63"/><circle cx="45.3" cy="42.9" r="1.2" fill-opacity="0.57"/><circle cx="39.6" cy="20.0" r="1.3" fill-opacity="0.50"/><circle cx="19.6" cy="43.0" r="1.2" fill-opacity="0.60"/><circle cx="24.2" cy="11.0" r="1.2" fill-opacity="0.56"/><circle cx="2.4" cy="6.5" r="1.2" fill-opacity="0.54"/><circle cx="29.3" cy="28.7" r="1.0" fill-opacity="0.46"/><circle cx="44.9" cy="24.2" r="1.2" fill-opacity="0.50"/><circle cx="-0.0" cy="-0.3" r="1.3" fill-opacity="0.48"/><circle cx="-0.0" cy="47.7" r="1.3" fill-opacity="0.48"/><circle cx="48.0" cy="-0.3" r="1.3" fill-opacity="0.48"/><circle cx="48.0" cy="47.7" r="1.3" fill-opacity="0.48"/><circle cx="6.6" cy="-0.1" r="1.2" fill-opacity="0.39"/><circle cx="6.6" cy="47.9" r="1.2" fill-opacity="0.39"/><circle cx="27.3" cy="3.5" r="1.0" fill-opacity="0.65"/><circle cx="40.2" cy="2.4" r="1.0" fill-opacity="0.57"/><circle cx="6.4" cy="28.0" r="0.9" fill-opacity="0.56"/><circle cx="22.4" cy="36.4" r="1.1" fill-opacity="0.66"/><circle cx="23.2" cy="-0.9" r="1.3" fill-opacity="0.62"/><circle cx="23.2" cy="47.1" r="1.3" fill-opacity="0.62"/><circle cx="26.2" cy="-1.8" r="1.1" fill-opacity="0.58"/><circle cx="26.2" cy="46.2" r="1.1" fill-opacity="0.58"/><circle cx="19.5" cy="20.6" r="1.0" fill-opacity="0.52"/><circle cx="45.5" cy="38.0" r="1.1" fill-opacity="0.51"/><circle cx="19.5" cy="7.9" r="1.0" fill-opacity="0.42"/><circle cx="31.9" cy="5.3" r="1.2" fill-opacity="0.58"/><circle cx="19.5" cy="28.0" r="1.2" fill-opacity="0.68"/><circle cx="32.3" cy="14.4" r="1.2" fill-opacity="0.40"/><circle cx="2.2" cy="1.4" r="1.2" fill-opacity="0.46"/><circle cx="2.2" cy="49.4" r="1.2" fill-opacity="0.46"/><circle cx="32.4" cy="31.7" r="1.4" fill-opacity="0.40"/><circle cx="14.0" cy="4.8" r="1.1" fill-opacity="0.59"/></g></pattern>
<filter id="bl" x="-2%" y="-2%" width="104%" height="104%"><feGaussianBlur stdDeviation="0.45"/></filter>
<filter id="blr" x="-5%" y="-5%" width="110%" height="110%"><feGaussianBlur stdDeviation="0.35"/></filter>
</defs>
<g clip-path="url(#c0)"><rect x="68" y="220" width="75" height="57" fill="#eee6d8"/><rect x="68" y="220" width="75" height="57" filter="url(#n0)"/><g transform="translate(0 0)"><rect x="68" y="220" width="75" height="57" fill="url(#pA)" opacity="0.7" filter="url(#bl)"/></g><g filter="url(#blr)"><circle cx="84.6" cy="225.1" r="1.4" fill="url(#gdd)"/><circle cx="69.4" cy="230.8" r="1.5" fill="url(#gm)"/><circle cx="102.6" cy="225.8" r="1.2" fill="url(#gl)"/><circle cx="118.5" cy="221.4" r="1.2" fill="url(#gm)"/><circle cx="118.8" cy="224.3" r="1.3" fill="url(#gdd)"/><circle cx="132.6" cy="220.7" r="1.2" fill="url(#gd)"/><circle cx="96.1" cy="232.3" r="1.8" fill="url(#gm)"/><circle cx="96.6" cy="234.4" r="1.7" fill="url(#gm)"/><circle cx="105.5" cy="234.4" r="1.5" fill="url(#gm)"/><circle cx="105.2" cy="230.1" r="1.1" fill="url(#gl)"/><circle cx="131.5" cy="232.3" r="1.8" fill="url(#gdd)"/><circle cx="128.6" cy="234.4" r="1.5" fill="url(#gd)"/><circle cx="92.5" cy="238.8" r="1.3" fill="url(#gdd)"/><circle cx="98.3" cy="241.6" r="1.4" fill="url(#gdd)"/><circle cx="124.3" cy="239.5" r="1.3" fill="url(#gdd)"/><circle cx="127.2" cy="242.4" r="2.0" fill="url(#gd)"/><circle cx="134.4" cy="243.8" r="1.3" fill="url(#gd)"/><circle cx="132.9" cy="245.3" r="1.3" fill="url(#gd)"/><circle cx="84.6" cy="244.5" r="1.2" fill="url(#gl)"/><circle cx="75.9" cy="250.3" r="1.6" fill="url(#gd)"/><circle cx="82.4" cy="253.9" r="1.6" fill="url(#gm)"/><circle cx="109.1" cy="249.6" r="1.5" fill="url(#gd)"/><circle cx="106.2" cy="251.5" r="1.4" fill="url(#gd)"/><circle cx="116.3" cy="249.6" r="1.5" fill="url(#gdd)"/><circle cx="115.6" cy="253.9" r="1.6" fill="url(#gd)"/><circle cx="107.7" cy="254.6" r="1.6" fill="url(#gd)"/><circle cx="111.3" cy="254.9" r="1.3" fill="url(#gd)"/><circle cx="121.4" cy="252.0" r="1.5" fill="url(#gdd)"/><circle cx="118.5" cy="246.0" r="1.1" fill="url(#gl)"/><circle cx="117.1" cy="260.4" r="2.2" fill="url(#gm)"/><circle cx="114.9" cy="259.7" r="1.5" fill="url(#gd)"/><circle cx="140.2" cy="259.0" r="1.4" fill="url(#gdd)"/><circle cx="102.6" cy="262.6" r="1.8" fill="url(#gd)"/><circle cx="104.1" cy="266.2" r="1.3" fill="url(#gd)"/><circle cx="123.6" cy="265.5" r="2.0" fill="url(#gd)"/><circle cx="127.9" cy="261.1" r="1.3" fill="url(#gdd)"/><circle cx="111.3" cy="269.1" r="1.5" fill="url(#gdd)"/><circle cx="112.7" cy="271.2" r="1.3" fill="url(#gdd)"/><circle cx="90.4" cy="270.5" r="1.6" fill="url(#gd)"/><circle cx="81.7" cy="263.3" r="1.6" fill="url(#gl)"/><circle cx="128.6" cy="269.1" r="1.5" fill="url(#gl)"/><circle cx="102.6" cy="274.8" r="1.3" fill="url(#gdd)"/><circle cx="140.2" cy="274.8" r="1.4" fill="url(#gdd)"/></g></g>
<g clip-path="url(#c1)"><rect x="144" y="220" width="75" height="57" fill="#e3d9c7"/><rect x="144" y="220" width="75" height="57" filter="url(#n1)"/><g transform="translate(17 29)"><rect x="127" y="191" width="75" height="57" fill="url(#pC)" opacity="0.85" filter="url(#bl)"/></g><g filter="url(#blr)"><circle cx="205.5" cy="234.7" r="0.5" fill="#6a5a66" fill-opacity="0.5"/><circle cx="176.7" cy="275.3" r="0.6" fill="#6a5a66" fill-opacity="0.5"/><circle cx="185.4" cy="250.4" r="0.6" fill="#6a5a66" fill-opacity="0.5"/><circle cx="168.1" cy="237.6" r="0.8" fill="#6a5a66" fill-opacity="0.5"/><circle cx="190.3" cy="261.6" r="0.8" fill="#6a5a66" fill-opacity="0.5"/><circle cx="165.7" cy="268.6" r="0.7" fill="#6a5a66" fill-opacity="0.5"/><circle cx="189.6" cy="234.9" r="0.6" fill="#6a5a66" fill-opacity="0.5"/><circle cx="212.7" cy="264.3" r="0.9" fill="#6a5a66" fill-opacity="0.5"/><circle cx="163.5" cy="226.9" r="0.9" fill="#6a5a66" fill-opacity="0.5"/><circle cx="218.4" cy="264.8" r="0.7" fill="#6a5a66" fill-opacity="0.5"/><circle cx="187.2" cy="225.9" r="0.6" fill="#6a5a66" fill-opacity="0.5"/><circle cx="203.2" cy="223.1" r="0.7" fill="#6a5a66" fill-opacity="0.5"/><circle cx="198.8" cy="254.6" r="0.5" fill="#6a5a66" fill-opacity="0.5"/><circle cx="150.6" cy="252.9" r="0.6" fill="#6a5a66" fill-opacity="0.5"/><circle cx="195.1" cy="247.0" r="0.7" fill="#6a5a66" fill-opacity="0.5"/><circle cx="165.5" cy="237.8" r="0.9" fill="#6a5a66" fill-opacity="0.5"/><circle cx="211.9" cy="270.1" r="0.6" fill="#6a5a66" fill-opacity="0.5"/><circle cx="166.5" cy="265.6" r="0.8" fill="#6a5a66" fill-opacity="0.5"/><circle cx="186.7" cy="269.7" r="0.5" fill="#6a5a66" fill-opacity="0.5"/><circle cx="182.2" cy="229.7" r="0.7" fill="#6a5a66" fill-opacity="0.5"/><circle cx="149.8" cy="237.6" r="0.8" fill="#6a5a66" fill-opacity="0.5"/><circle cx="184.3" cy="277.0" r="0.8" fill="#6a5a66" fill-opacity="0.5"/><circle cx="191.5" cy="262.2" r="0.9" fill="#6a5a66" fill-opacity="0.5"/><circle cx="207.9" cy="260.4" r="0.6" fill="#6a5a66" fill-opacity="0.5"/><circle cx="189.2" cy="252.2" r="0.8" fill="#6a5a66" fill-opacity="0.5"/><circle cx="170.0" cy="231.4" r="0.7" fill="#6a5a66" fill-opacity="0.5"/><circle cx="181.8" cy="241.8" r="0.6" fill="#6a5a66" fill-opacity="0.5"/><circle cx="177.1" cy="233.9" r="0.7" fill="#6a5a66" fill-opacity="0.5"/><circle cx="158.5" cy="222.4" r="0.9" fill="#6a5a66" fill-opacity="0.5"/><circle cx="198.3" cy="244.4" r="0.8" fill="#6a5a66" fill-opacity="0.5"/><circle cx="192.0" cy="226.9" r="0.6" fill="#6a5a66" fill-opacity="0.5"/><circle cx="178.7" cy="250.2" r="0.6" fill="#6a5a66" fill-opacity="0.5"/><circle cx="173.3" cy="235.8" r="0.6" fill="#6a5a66" fill-opacity="0.5"/><circle cx="193.1" cy="223.7" r="0.7" fill="#6a5a66" fill-opacity="0.5"/><circle cx="152.0" cy="262.3" r="0.7" fill="#6a5a66" fill-opacity="0.5"/><circle cx="150.5" cy="251.9" r="0.8" fill="#6a5a66" fill-opacity="0.5"/><circle cx="208.6" cy="270.9" r="0.6" fill="#6a5a66" fill-opacity="0.5"/><circle cx="213.9" cy="276.3" r="0.6" fill="#6a5a66" fill-opacity="0.5"/><circle cx="150.9" cy="223.8" r="0.9" fill="#6a5a66" fill-opacity="0.5"/><circle cx="168.5" cy="251.0" r="0.7" fill="#6a5a66" fill-opacity="0.5"/><circle cx="162.5" cy="248.2" r="0.6" fill="#6a5a66" fill-opacity="0.5"/><circle cx="193.1" cy="255.9" r="0.6" fill="#6a5a66" fill-opacity="0.5"/><circle cx="179.7" cy="269.3" r="0.7" fill="#6a5a66" fill-opacity="0.5"/><circle cx="192.1" cy="221.3" r="0.7" fill="#6a5a66" fill-opacity="0.5"/><circle cx="177.0" cy="253.3" r="0.8" fill="#6a5a66" fill-opacity="0.5"/><circle cx="206.9" cy="254.3" r="0.7" fill="#6a5a66" fill-opacity="0.5"/><circle cx="174.7" cy="259.3" r="0.5" fill="#6a5a66" fill-opacity="0.5"/><circle cx="197.3" cy="270.3" r="0.6" fill="#6a5a66" fill-opacity="0.5"/><circle cx="155.1" cy="247.6" r="0.5" fill="#6a5a66" fill-opacity="0.5"/><circle cx="156.9" cy="261.6" r="0.7" fill="#6a5a66" fill-opacity="0.5"/><circle cx="193.6" cy="225.3" r="0.6" fill="#6a5a66" fill-opacity="0.5"/><circle cx="194.2" cy="258.0" r="0.9" fill="#6a5a66" fill-opacity="0.5"/><circle cx="145.2" cy="276.6" r="0.9" fill="#6a5a66" fill-opacity="0.5"/><circle cx="146.3" cy="262.8" r="0.5" fill="#6a5a66" fill-opacity="0.5"/><circle cx="203.7" cy="244.7" r="0.8" fill="#6a5a66" fill-opacity="0.5"/><circle cx="153.6" cy="235.1" r="0.7" fill="#6a5a66" fill-opacity="0.5"/><circle cx="182.4" cy="267.8" r="0.8" fill="#6a5a66" fill-opacity="0.5"/><circle cx="195.9" cy="248.9" r="0.8" fill="#6a5a66" fill-opacity="0.5"/><circle cx="190.8" cy="249.6" r="0.7" fill="#6a5a66" fill-opacity="0.5"/><circle cx="169.5" cy="243.6" r="0.8" fill="#6a5a66" fill-opacity="0.5"/><circle cx="151.7" cy="275.3" r="0.7" fill="#6a5a66" fill-opacity="0.5"/><circle cx="176.0" cy="258.4" r="0.6" fill="#6a5a66" fill-opacity="0.5"/><circle cx="190.0" cy="253.9" r="0.5" fill="#6a5a66" fill-opacity="0.5"/><circle cx="179.1" cy="229.2" r="0.7" fill="#6a5a66" fill-opacity="0.5"/><circle cx="217.1" cy="269.7" r="0.8" fill="#6a5a66" fill-opacity="0.5"/><circle cx="182.7" cy="267.2" r="0.6" fill="#6a5a66" fill-opacity="0.5"/><circle cx="146.8" cy="221.6" r="0.7" fill="#6a5a66" fill-opacity="0.5"/><circle cx="154.5" cy="250.5" r="0.6" fill="#6a5a66" fill-opacity="0.5"/><circle cx="167.6" cy="255.9" r="0.8" fill="#6a5a66" fill-opacity="0.5"/><circle cx="196.1" cy="264.0" r="0.6" fill="#6a5a66" fill-opacity="0.5"/><circle cx="192.5" cy="272.7" r="0.8" fill="#6a5a66" fill-opacity="0.5"/><circle cx="181.2" cy="250.1" r="0.6" fill="#6a5a66" fill-opacity="0.5"/><circle cx="146.3" cy="256.6" r="0.6" fill="#6a5a66" fill-opacity="0.5"/><circle cx="160.0" cy="264.9" r="0.6" fill="#6a5a66" fill-opacity="0.5"/><circle cx="146.8" cy="275.4" r="0.7" fill="#6a5a66" fill-opacity="0.5"/><circle cx="214.4" cy="245.6" r="0.8" fill="#6a5a66" fill-opacity="0.5"/><circle cx="211.6" cy="265.6" r="0.9" fill="#6a5a66" fill-opacity="0.5"/><circle cx="173.6" cy="276.5" r="0.7" fill="#6a5a66" fill-opacity="0.5"/><circle cx="211.9" cy="250.8" r="0.6" fill="#6a5a66" fill-opacity="0.5"/><circle cx="147.7" cy="243.0" r="0.9" fill="#6a5a66" fill-opacity="0.5"/><circle cx="173.2" cy="253.8" r="0.5" fill="#6a5a66" fill-opacity="0.5"/><circle cx="174.7" cy="223.6" r="0.9" fill="#6a5a66" fill-opacity="0.5"/><circle cx="200.6" cy="248.4" r="0.8" fill="#6a5a66" fill-opacity="0.5"/><circle cx="148.1" cy="273.5" r="0.5" fill="#6a5a66" fill-opacity="0.5"/><circle cx="188.6" cy="237.7" r="0.9" fill="#6a5a66" fill-opacity="0.5"/><circle cx="182.3" cy="268.6" r="0.9" fill="#6a5a66" fill-opacity="0.5"/><circle cx="187.2" cy="242.5" r="0.6" fill="#6a5a66" fill-opacity="0.5"/><circle cx="153.0" cy="235.9" r="0.9" fill="#6a5a66" fill-opacity="0.5"/><circle cx="164.3" cy="233.9" r="0.8" fill="#6a5a66" fill-opacity="0.5"/><circle cx="217.5" cy="231.4" r="0.8" fill="#6a5a66" fill-opacity="0.5"/><circle cx="155.5" cy="225.8" r="1.4" fill="url(#gd)"/><circle cx="149.8" cy="235.9" r="1.4" fill="url(#gd)"/><circle cx="150.5" cy="237.3" r="1.3" fill="url(#gm)"/><circle cx="144.7" cy="233.7" r="1.2" fill="url(#gm)"/><circle cx="166.4" cy="236.6" r="1.4" fill="url(#gdd)"/><circle cx="171.4" cy="235.2" r="1.2" fill="url(#gm)"/><circle cx="162.0" cy="238.8" r="1.1" fill="url(#gd)"/><circle cx="150.5" cy="245.3" r="1.6" fill="url(#gm)"/><circle cx="149.8" cy="246.7" r="1.4" fill="url(#gd)"/><circle cx="163.5" cy="246.7" r="1.2" fill="url(#gdd)"/><circle cx="182.2" cy="226.5" r="1.1" fill="url(#gd)"/><circle cx="208.9" cy="221.4" r="1.1" fill="url(#gd)"/><circle cx="210.4" cy="223.6" r="1.1" fill="url(#gd)"/><circle cx="206.0" cy="235.9" r="1.3" fill="url(#gm)"/><circle cx="211.8" cy="238.8" r="1.3" fill="url(#gd)"/><circle cx="185.8" cy="245.3" r="1.3" fill="url(#gdd)"/><circle cx="194.5" cy="245.3" r="1.4" fill="url(#gd)"/><circle cx="201.0" cy="244.5" r="1.2" fill="url(#gd)"/><circle cx="175.0" cy="251.7" r="1.6" fill="url(#gd)"/><circle cx="172.1" cy="254.6" r="1.5" fill="url(#gdd)"/><circle cx="178.6" cy="254.6" r="1.3" fill="url(#gdd)"/><circle cx="162.0" cy="255.4" r="1.4" fill="url(#gm)"/><circle cx="162.8" cy="259.0" r="1.6" fill="url(#gm)"/><circle cx="155.5" cy="259.0" r="1.3" fill="url(#gdd)"/><circle cx="147.6" cy="258.2" r="1.3" fill="url(#gdd)"/><circle cx="146.9" cy="261.8" r="1.2" fill="url(#gm)"/><circle cx="192.3" cy="251.7" r="1.3" fill="url(#gd)"/><circle cx="195.9" cy="252.5" r="1.3" fill="url(#gm)"/><circle cx="208.2" cy="254.6" r="1.5" fill="url(#gd)"/><circle cx="213.3" cy="258.2" r="1.3" fill="url(#gd)"/><circle cx="174.3" cy="259.0" r="1.4" fill="url(#gm)"/><circle cx="169.3" cy="262.6" r="1.4" fill="url(#gd)"/><circle cx="174.3" cy="263.3" r="1.7" fill="url(#gd)"/><circle cx="165.6" cy="264.0" r="1.3" fill="url(#gdd)"/><circle cx="165.6" cy="268.3" r="1.5" fill="url(#gdd)"/><circle cx="199.6" cy="261.8" r="1.3" fill="url(#gd)"/><circle cx="210.4" cy="263.3" r="1.3" fill="url(#gdd)"/><circle cx="188.7" cy="266.2" r="1.2" fill="url(#gm)"/><circle cx="200.3" cy="269.1" r="1.4" fill="url(#gdd)"/><circle cx="167.1" cy="272.7" r="1.6" fill="url(#gd)"/><circle cx="151.9" cy="264.7" r="1.3" fill="url(#gdd)"/><circle cx="217.6" cy="274.1" r="1.3" fill="url(#gd)"/><circle cx="206.0" cy="267.6" r="1.2" fill="url(#gd)"/></g></g>
<g clip-path="url(#c2)"><rect x="68" y="279" width="75" height="57" fill="#efe8db"/><rect x="68" y="279" width="75" height="57" filter="url(#n2)"/><g transform="translate(34 10)"><rect x="34" y="269" width="75" height="57" fill="url(#pA)" opacity="0.65" filter="url(#bl)"/></g><g filter="url(#blr)"><circle cx="72.3" cy="289.1" r="2.0" fill="url(#gd)"/><circle cx="75.9" cy="285.5" r="1.5" fill="url(#gdd)"/><circle cx="75.9" cy="292.0" r="2.0" fill="url(#gdd)"/><circle cx="81.7" cy="288.4" r="1.5" fill="url(#gdd)"/><circle cx="82.4" cy="290.5" r="1.5" fill="url(#gd)"/><circle cx="95.4" cy="288.4" r="1.7" fill="url(#gm)"/><circle cx="99.0" cy="289.1" r="1.7" fill="url(#gd)"/><circle cx="103.4" cy="286.2" r="1.3" fill="url(#gd)"/><circle cx="94.7" cy="294.2" r="1.2" fill="url(#gdd)"/><circle cx="107.7" cy="295.6" r="2.2" fill="url(#gl)"/><circle cx="124.3" cy="286.2" r="1.5" fill="url(#gd)"/><circle cx="138.7" cy="289.8" r="2.2" fill="url(#gm)"/><circle cx="125.7" cy="280.4" r="1.2" fill="url(#gdd)"/><circle cx="78.8" cy="300.6" r="1.8" fill="url(#gdd)"/><circle cx="81.0" cy="299.9" r="1.6" fill="url(#gdd)"/><circle cx="85.3" cy="300.6" r="1.5" fill="url(#gdd)"/><circle cx="86.0" cy="302.8" r="1.5" fill="url(#gd)"/><circle cx="73.1" cy="305.0" r="1.3" fill="url(#gl)"/><circle cx="79.5" cy="306.4" r="1.3" fill="url(#gd)"/><circle cx="83.9" cy="307.1" r="1.5" fill="url(#gm)"/><circle cx="86.8" cy="309.3" r="1.7" fill="url(#gm)"/><circle cx="82.4" cy="310.0" r="1.5" fill="url(#gd)"/><circle cx="78.1" cy="309.3" r="1.7" fill="url(#gd)"/><circle cx="91.1" cy="305.7" r="1.3" fill="url(#gdd)"/><circle cx="94.7" cy="305.0" r="1.2" fill="url(#gd)"/><circle cx="96.1" cy="310.0" r="1.3" fill="url(#gdd)"/><circle cx="103.4" cy="309.3" r="2.0" fill="url(#gdd)"/><circle cx="107.0" cy="312.9" r="1.3" fill="url(#gd)"/><circle cx="97.6" cy="314.4" r="2.0" fill="url(#gdd)"/><circle cx="93.3" cy="315.8" r="1.5" fill="url(#gdd)"/><circle cx="94.0" cy="319.4" r="1.3" fill="url(#gdd)"/><circle cx="117.8" cy="297.8" r="1.5" fill="url(#gd)"/><circle cx="119.2" cy="299.9" r="1.5" fill="url(#gm)"/><circle cx="110.6" cy="301.4" r="1.3" fill="url(#gd)"/><circle cx="115.6" cy="304.3" r="2.2" fill="url(#gd)"/><circle cx="112.7" cy="305.7" r="1.8" fill="url(#gd)"/><circle cx="111.3" cy="307.9" r="1.3" fill="url(#gd)"/><circle cx="117.1" cy="307.9" r="1.3" fill="url(#gd)"/><circle cx="125.0" cy="306.4" r="1.8" fill="url(#gdd)"/><circle cx="127.2" cy="307.1" r="1.5" fill="url(#gd)"/><circle cx="130.8" cy="302.1" r="1.3" fill="url(#gd)"/><circle cx="134.4" cy="301.4" r="1.5" fill="url(#gd)"/><circle cx="133.7" cy="305.7" r="1.5" fill="url(#gd)"/><circle cx="138.0" cy="307.1" r="1.5" fill="url(#gd)"/><circle cx="125.7" cy="313.6" r="1.7" fill="url(#gd)"/><circle cx="132.2" cy="312.9" r="1.3" fill="url(#gdd)"/><circle cx="140.2" cy="315.1" r="1.3" fill="url(#gm)"/><circle cx="115.6" cy="318.0" r="1.5" fill="url(#gd)"/><circle cx="112.0" cy="320.1" r="1.3" fill="url(#gdd)"/><circle cx="102.6" cy="321.6" r="1.8" fill="url(#gd)"/><circle cx="104.8" cy="323.7" r="1.8" fill="url(#gd)"/><circle cx="102.6" cy="325.9" r="1.3" fill="url(#gm)"/><circle cx="96.9" cy="325.2" r="1.8" fill="url(#gd)"/><circle cx="88.9" cy="325.2" r="1.5" fill="url(#gdd)"/><circle cx="91.8" cy="327.3" r="1.8" fill="url(#gm)"/><circle cx="92.5" cy="330.2" r="1.3" fill="url(#gd)"/><circle cx="69.4" cy="320.8" r="1.3" fill="url(#gm)"/><circle cx="132.2" cy="323.7" r="1.3" fill="url(#gd)"/><circle cx="135.8" cy="318.7" r="1.3" fill="url(#gd)"/><circle cx="139.4" cy="320.1" r="1.3" fill="url(#gd)"/></g></g>
<g clip-path="url(#c3)"><rect x="144" y="279" width="75" height="57" fill="#e8dfcf"/><rect x="144" y="279" width="75" height="57" filter="url(#n3)"/><g transform="translate(3 39)"><rect x="141" y="240" width="75" height="57" fill="url(#pB)" opacity="0.9" filter="url(#bl)"/></g><g filter="url(#blr)"><circle cx="186.3" cy="334.3" r="0.7" fill="#6a5a66" fill-opacity="0.5"/><circle cx="209.4" cy="290.0" r="0.6" fill="#6a5a66" fill-opacity="0.5"/><circle cx="170.1" cy="280.1" r="0.7" fill="#6a5a66" fill-opacity="0.5"/><circle cx="174.2" cy="312.0" r="0.9" fill="#6a5a66" fill-opacity="0.5"/><circle cx="153.6" cy="291.7" r="0.7" fill="#6a5a66" fill-opacity="0.5"/><circle cx="191.1" cy="290.3" r="0.7" fill="#6a5a66" fill-opacity="0.5"/><circle cx="160.4" cy="298.2" r="0.6" fill="#6a5a66" fill-opacity="0.5"/><circle cx="165.5" cy="307.1" r="0.8" fill="#6a5a66" fill-opacity="0.5"/><circle cx="200.0" cy="329.9" r="0.5" fill="#6a5a66" fill-opacity="0.5"/><circle cx="149.9" cy="307.0" r="0.6" fill="#6a5a66" fill-opacity="0.5"/><circle cx="218.7" cy="308.3" r="0.9" fill="#6a5a66" fill-opacity="0.5"/><circle cx="206.5" cy="328.9" r="0.5" fill="#6a5a66" fill-opacity="0.5"/><circle cx="209.0" cy="322.6" r="0.5" fill="#6a5a66" fill-opacity="0.5"/><circle cx="202.6" cy="281.1" r="0.8" fill="#6a5a66" fill-opacity="0.5"/><circle cx="189.7" cy="312.0" r="0.5" fill="#6a5a66" fill-opacity="0.5"/><circle cx="207.0" cy="306.8" r="0.9" fill="#6a5a66" fill-opacity="0.5"/><circle cx="157.0" cy="303.1" r="0.7" fill="#6a5a66" fill-opacity="0.5"/><circle cx="181.7" cy="283.6" r="0.5" fill="#6a5a66" fill-opacity="0.5"/><circle cx="158.0" cy="322.4" r="0.9" fill="#6a5a66" fill-opacity="0.5"/><circle cx="147.2" cy="314.4" r="0.7" fill="#6a5a66" fill-opacity="0.5"/><circle cx="190.7" cy="317.0" r="0.8" fill="#6a5a66" fill-opacity="0.5"/><circle cx="208.7" cy="313.0" r="0.7" fill="#6a5a66" fill-opacity="0.5"/><circle cx="186.9" cy="315.0" r="0.5" fill="#6a5a66" fill-opacity="0.5"/><circle cx="217.7" cy="311.4" r="0.7" fill="#6a5a66" fill-opacity="0.5"/><circle cx="212.1" cy="320.1" r="0.6" fill="#6a5a66" fill-opacity="0.5"/><circle cx="188.8" cy="290.5" r="0.6" fill="#6a5a66" fill-opacity="0.5"/><circle cx="171.7" cy="309.6" r="0.7" fill="#6a5a66" fill-opacity="0.5"/><circle cx="200.3" cy="295.7" r="0.9" fill="#6a5a66" fill-opacity="0.5"/><circle cx="173.6" cy="283.7" r="0.6" fill="#6a5a66" fill-opacity="0.5"/><circle cx="215.8" cy="332.6" r="0.6" fill="#6a5a66" fill-opacity="0.5"/><circle cx="209.7" cy="335.3" r="0.6" fill="#6a5a66" fill-opacity="0.5"/><circle cx="144.2" cy="296.1" r="0.7" fill="#6a5a66" fill-opacity="0.5"/><circle cx="167.2" cy="325.8" r="0.6" fill="#6a5a66" fill-opacity="0.5"/><circle cx="218.6" cy="322.7" r="0.6" fill="#6a5a66" fill-opacity="0.5"/><circle cx="144.2" cy="282.1" r="0.7" fill="#6a5a66" fill-opacity="0.5"/><circle cx="169.4" cy="306.6" r="0.7" fill="#6a5a66" fill-opacity="0.5"/><circle cx="150.8" cy="304.8" r="0.6" fill="#6a5a66" fill-opacity="0.5"/><circle cx="177.8" cy="327.3" r="0.6" fill="#6a5a66" fill-opacity="0.5"/><circle cx="150.9" cy="325.3" r="0.9" fill="#6a5a66" fill-opacity="0.5"/><circle cx="205.3" cy="332.1" r="0.9" fill="#6a5a66" fill-opacity="0.5"/><circle cx="204.6" cy="283.2" r="0.5" fill="#6a5a66" fill-opacity="0.5"/><circle cx="168.4" cy="308.4" r="0.9" fill="#6a5a66" fill-opacity="0.5"/><circle cx="191.8" cy="288.9" r="0.6" fill="#6a5a66" fill-opacity="0.5"/><circle cx="188.3" cy="293.0" r="0.9" fill="#6a5a66" fill-opacity="0.5"/><circle cx="197.0" cy="313.2" r="0.8" fill="#6a5a66" fill-opacity="0.5"/><circle cx="156.3" cy="294.2" r="2.0" fill="url(#gd)"/><circle cx="158.4" cy="291.3" r="1.3" fill="url(#gd)"/><circle cx="159.2" cy="300.6" r="1.8" fill="url(#gd)"/><circle cx="154.1" cy="302.1" r="2.0" fill="url(#gd)"/><circle cx="151.9" cy="302.1" r="1.7" fill="url(#gd)"/><circle cx="146.9" cy="305.7" r="2.5" fill="url(#gd)"/><circle cx="146.2" cy="307.9" r="2.0" fill="url(#gd)"/><circle cx="158.4" cy="305.7" r="1.7" fill="url(#gdd)"/><circle cx="158.4" cy="311.5" r="2.0" fill="url(#gd)"/><circle cx="150.5" cy="312.2" r="1.3" fill="url(#gdd)"/><circle cx="162.0" cy="315.1" r="1.3" fill="url(#gd)"/><circle cx="156.3" cy="320.8" r="2.0" fill="url(#gd)"/><circle cx="167.1" cy="291.3" r="1.7" fill="url(#gm)"/><circle cx="169.3" cy="290.5" r="1.7" fill="url(#gd)"/><circle cx="162.8" cy="293.4" r="1.2" fill="url(#gd)"/><circle cx="174.3" cy="301.4" r="1.3" fill="url(#gm)"/><circle cx="173.6" cy="305.7" r="1.8" fill="url(#gd)"/><circle cx="180.1" cy="302.8" r="2.5" fill="url(#gdd)"/><circle cx="177.9" cy="307.1" r="1.5" fill="url(#gdd)"/><circle cx="180.8" cy="307.1" r="1.3" fill="url(#gd)"/><circle cx="167.8" cy="310.0" r="1.7" fill="url(#gd)"/><circle cx="172.1" cy="312.2" r="1.3" fill="url(#gd)"/><circle cx="176.5" cy="310.7" r="1.7" fill="url(#gd)"/><circle cx="171.4" cy="315.8" r="1.2" fill="url(#gd)"/><circle cx="170.7" cy="321.6" r="2.2" fill="url(#gm)"/><circle cx="170.0" cy="323.0" r="1.8" fill="url(#gdd)"/><circle cx="175.7" cy="295.6" r="1.3" fill="url(#gdd)"/><circle cx="179.4" cy="296.3" r="1.3" fill="url(#gd)"/><circle cx="180.8" cy="292.7" r="1.2" fill="url(#gm)"/><circle cx="184.4" cy="290.5" r="1.3" fill="url(#gd)"/><circle cx="187.3" cy="289.8" r="1.3" fill="url(#gdd)"/><circle cx="196.7" cy="295.6" r="1.5" fill="url(#gm)"/><circle cx="195.2" cy="298.5" r="1.2" fill="url(#gdd)"/><circle cx="192.3" cy="301.4" r="1.5" fill="url(#gd)"/><circle cx="203.2" cy="302.1" r="1.2" fill="url(#gm)"/><circle cx="209.7" cy="305.0" r="1.2" fill="url(#gd)"/><circle cx="206.0" cy="309.3" r="1.5" fill="url(#gd)"/><circle cx="209.7" cy="309.3" r="1.5" fill="url(#gdd)"/><circle cx="216.2" cy="308.6" r="1.5" fill="url(#gd)"/><circle cx="210.4" cy="318.0" r="1.5" fill="url(#gm)"/><circle cx="211.1" cy="329.5" r="1.5" fill="url(#gd)"/><circle cx="145.4" cy="325.9" r="1.3" fill="url(#gdd)"/><circle cx="210.4" cy="284.8" r="1.2" fill="url(#gdd)"/><circle cx="191.6" cy="334.6" r="1.2" fill="url(#gm)"/></g></g>
<g clip-path="url(#c4)"><rect x="68" y="338" width="75" height="57" fill="#efe5d3"/><rect x="68" y="338" width="75" height="57" filter="url(#n4)"/><g transform="translate(20 20)"><rect x="48" y="318" width="75" height="57" fill="url(#pA)" opacity="0.8" filter="url(#bl)"/></g></g>
<g clip-path="url(#c5)"><rect x="144" y="338" width="75" height="57" fill="#efe5d3"/><rect x="144" y="338" width="75" height="57" filter="url(#n5)"/><g transform="translate(37 1)"><rect x="107" y="337" width="75" height="57" fill="url(#pA)" opacity="0.8" filter="url(#bl)"/></g></g>
<g clip-path="url(#c6)"><rect x="68" y="398" width="75" height="56.5" fill="#efe5d3"/><rect x="68" y="398" width="75" height="56.5" filter="url(#n6)"/><g transform="translate(6 30)"><rect x="62" y="368" width="75" height="56.5" fill="url(#pA)" opacity="0.8" filter="url(#bl)"/></g></g>
<g clip-path="url(#c7)"><rect x="144" y="398" width="75" height="56.5" fill="#efe5d3"/><rect x="144" y="398" width="75" height="56.5" filter="url(#n7)"/><g transform="translate(23 11)"><rect x="121" y="387" width="75" height="56.5" fill="url(#pA)" opacity="0.8" filter="url(#bl)"/></g></g>
<g clip-path="url(#c8)"><rect x="244" y="220" width="75" height="57" fill="#ebe1d0"/><rect x="244" y="220" width="75" height="57" filter="url(#n8)"/><g transform="translate(40 40)"><rect x="204" y="180" width="75" height="57" fill="url(#pA)" opacity="0.9" filter="url(#bl)"/></g><g filter="url(#blr)"><ellipse cx="250.8" cy="228.0" rx="2.1" ry="1.4" transform="rotate(91 250.8 228.0)" fill="#ad7044" stroke="#884618" stroke-width="1.1" fill-opacity="0.8"/><ellipse cx="252.8" cy="222.6" rx="1.8" ry="1.5" transform="rotate(143 252.8 222.6)" fill="#ad7044" stroke="#884618" stroke-width="1.1" fill-opacity="0.8"/><ellipse cx="245.4" cy="224.3" rx="1.5" ry="1.6" transform="rotate(125 245.4 224.3)" fill="#ad7044" stroke="#884618" stroke-width="1.1" fill-opacity="0.8"/><ellipse cx="244.6" cy="234.0" rx="2.2" ry="1.5" transform="rotate(111 244.6 234.0)" fill="#ad7044" stroke="#884618" stroke-width="1.1" fill-opacity="0.8"/><ellipse cx="246.4" cy="220.2" rx="1.8" ry="1.1" transform="rotate(34 246.4 220.2)" fill="#ad7044" stroke="#884618" stroke-width="1.1" fill-opacity="0.8"/><ellipse cx="247.6" cy="220.4" rx="1.8" ry="1.4" transform="rotate(152 247.6 220.4)" fill="#ad7044" stroke="#884618" stroke-width="1.1" fill-opacity="0.8"/><ellipse cx="251.8" cy="229.1" rx="1.8" ry="1.5" transform="rotate(82 251.8 229.1)" fill="#ad7044" stroke="#884618" stroke-width="1.1" fill-opacity="0.8"/><ellipse cx="248.2" cy="234.2" rx="2.2" ry="1.6" transform="rotate(127 248.2 234.2)" fill="#ad7044" stroke="#884618" stroke-width="1.1" fill-opacity="0.8"/><ellipse cx="248.7" cy="223.3" rx="1.6" ry="1.1" transform="rotate(138 248.7 223.3)" fill="#ad7044" stroke="#884618" stroke-width="1.1" fill-opacity="0.8"/><ellipse cx="250.0" cy="232.1" rx="1.7" ry="1.7" transform="rotate(153 250.0 232.1)" fill="#ad7044" stroke="#884618" stroke-width="1.1" fill-opacity="0.8"/><ellipse cx="244.0" cy="223.0" rx="2.1" ry="1.4" transform="rotate(176 244.0 223.0)" fill="#ad7044" stroke="#884618" stroke-width="1.1" fill-opacity="0.8"/><ellipse cx="265.0" cy="221.0" rx="1.9" ry="1.6" transform="rotate(49 265.0 221.0)" fill="#ad7044" stroke="#884618" stroke-width="1.1" fill-opacity="0.8"/><ellipse cx="260.3" cy="224.7" rx="2.2" ry="1.6" transform="rotate(21 260.3 224.7)" fill="#ad7044" stroke="#884618" stroke-width="1.1" fill-opacity="0.8"/><ellipse cx="262.7" cy="221.4" rx="1.4" ry="1.6" transform="rotate(32 262.7 221.4)" fill="#ad7044" stroke="#884618" stroke-width="1.1" fill-opacity="0.8"/><ellipse cx="267.4" cy="226.4" rx="1.6" ry="1.5" transform="rotate(24 267.4 226.4)" fill="#ad7044" stroke="#884618" stroke-width="1.1" fill-opacity="0.8"/><ellipse cx="268.7" cy="221.7" rx="1.7" ry="1.2" transform="rotate(49 268.7 221.7)" fill="#ad7044" stroke="#884618" stroke-width="1.1" fill-opacity="0.8"/><ellipse cx="273.6" cy="231.4" rx="1.6" ry="1.6" transform="rotate(38 273.6 231.4)" fill="#ad7044" stroke="#884618" stroke-width="1.1" fill-opacity="0.8"/><ellipse cx="264.9" cy="232.2" rx="1.9" ry="1.2" transform="rotate(178 264.9 232.2)" fill="#ad7044" stroke="#884618" stroke-width="1.1" fill-opacity="0.8"/><ellipse cx="262.2" cy="223.7" rx="2.0" ry="1.3" transform="rotate(53 262.2 223.7)" fill="#ad7044" stroke="#884618" stroke-width="1.1" fill-opacity="0.8"/><ellipse cx="260.1" cy="221.3" rx="1.9" ry="1.2" transform="rotate(108 260.1 221.3)" fill="#ad7044" stroke="#884618" stroke-width="1.1" fill-opacity="0.8"/><ellipse cx="264.6" cy="226.5" rx="2.2" ry="1.4" transform="rotate(103 264.6 226.5)" fill="#ad7044" stroke="#884618" stroke-width="1.1" fill-opacity="0.8"/><ellipse cx="272.0" cy="222.6" rx="1.5" ry="1.6" transform="rotate(147 272.0 222.6)" fill="#ad7044" stroke="#884618" stroke-width="1.1" fill-opacity="0.8"/><ellipse cx="262.7" cy="222.7" rx="2.0" ry="1.7" transform="rotate(35 262.7 222.7)" fill="#ad7044" stroke="#884618" stroke-width="1.1" fill-opacity="0.8"/><ellipse cx="273.3" cy="232.6" rx="1.9" ry="1.4" transform="rotate(19 273.3 232.6)" fill="#ad7044" stroke="#884618" stroke-width="1.1" fill-opacity="0.8"/><ellipse cx="259.6" cy="233.7" rx="1.6" ry="1.5" transform="rotate(46 259.6 233.7)" fill="#ad7044" stroke="#884618" stroke-width="1.1" fill-opacity="0.8"/><ellipse cx="271.4" cy="228.5" rx="1.6" ry="1.2" transform="rotate(130 271.4 228.5)" fill="#ad7044" stroke="#884618" stroke-width="1.1" fill-opacity="0.8"/><ellipse cx="275.0" cy="223.3" rx="1.8" ry="1.6" transform="rotate(111 275.0 223.3)" fill="#ad7044" stroke="#884618" stroke-width="1.1" fill-opacity="0.8"/><ellipse cx="278.2" cy="233.1" rx="1.6" ry="1.1" transform="rotate(48 278.2 233.1)" fill="#ad7044" stroke="#884618" stroke-width="1.1" fill-opacity="0.8"/><ellipse cx="280.7" cy="220.9" rx="1.5" ry="1.3" transform="rotate(103 280.7 220.9)" fill="#ad7044" stroke="#884618" stroke-width="1.1" fill-opacity="0.8"/><ellipse cx="276.0" cy="225.2" rx="2.1" ry="1.7" transform="rotate(118 276.0 225.2)" fill="#ad7044" stroke="#884618" stroke-width="1.1" fill-opacity="0.8"/><ellipse cx="284.4" cy="228.3" rx="1.5" ry="1.1" transform="rotate(3 284.4 228.3)" fill="#ad7044" stroke="#884618" stroke-width="1.1" fill-opacity="0.8"/><ellipse cx="287.7" cy="230.0" rx="2.2" ry="1.1" transform="rotate(115 287.7 230.0)" fill="#ad7044" stroke="#884618" stroke-width="1.1" fill-opacity="0.8"/><ellipse cx="281.2" cy="230.4" rx="1.7" ry="1.7" transform="rotate(14 281.2 230.4)" fill="#ad7044" stroke="#884618" stroke-width="1.1" fill-opacity="0.8"/><ellipse cx="282.2" cy="230.5" rx="2.1" ry="1.5" transform="rotate(127 282.2 230.5)" fill="#ad7044" stroke="#884618" stroke-width="1.1" fill-opacity="0.8"/><ellipse cx="285.9" cy="233.0" rx="1.7" ry="1.5" transform="rotate(162 285.9 233.0)" fill="#ad7044" stroke="#884618" stroke-width="1.1" fill-opacity="0.8"/><ellipse cx="287.1" cy="225.9" rx="2.0" ry="1.6" transform="rotate(103 287.1 225.9)" fill="#ad7044" stroke="#884618" stroke-width="1.1" fill-opacity="0.8"/><ellipse cx="283.4" cy="225.4" rx="1.9" ry="1.5" transform="rotate(14 283.4 225.4)" fill="#ad7044" stroke="#884618" stroke-width="1.1" fill-opacity="0.8"/><ellipse cx="283.6" cy="234.2" rx="2.1" ry="1.5" transform="rotate(70 283.6 234.2)" fill="#ad7044" stroke="#884618" stroke-width="1.1" fill-opacity="0.8"/><ellipse cx="285.0" cy="228.3" rx="1.8" ry="1.6" transform="rotate(15 285.0 228.3)" fill="#ad7044" stroke="#884618" stroke-width="1.1" fill-opacity="0.8"/><ellipse cx="285.3" cy="220.4" rx="1.9" ry="1.4" transform="rotate(41 285.3 220.4)" fill="#ad7044" stroke="#884618" stroke-width="1.1" fill-opacity="0.8"/><ellipse cx="284.5" cy="227.1" rx="1.9" ry="1.7" transform="rotate(46 284.5 227.1)" fill="#ad7044" stroke="#884618" stroke-width="1.1" fill-opacity="0.8"/><ellipse cx="289.2" cy="224.3" rx="1.9" ry="1.2" transform="rotate(31 289.2 224.3)" fill="#ad7044" stroke="#884618" stroke-width="1.1" fill-opacity="0.8"/><ellipse cx="302.6" cy="229.4" rx="1.8" ry="1.6" transform="rotate(59 302.6 229.4)" fill="#ad7044" stroke="#884618" stroke-width="1.1" fill-opacity="0.8"/><ellipse cx="299.0" cy="222.8" rx="1.7" ry="1.6" transform="rotate(165 299.0 222.8)" fill="#ad7044" stroke="#884618" stroke-width="1.1" fill-opacity="0.8"/><ellipse cx="302.2" cy="225.5" rx="1.9" ry="1.3" transform="rotate(25 302.2 225.5)" fill="#ad7044" stroke="#884618" stroke-width="1.1" fill-opacity="0.8"/><ellipse cx="296.4" cy="231.9" rx="2.1" ry="1.5" transform="rotate(171 296.4 231.9)" fill="#ad7044" stroke="#884618" stroke-width="1.1" fill-opacity="0.8"/><ellipse cx="293.2" cy="222.4" rx="1.8" ry="1.3" transform="rotate(39 293.2 222.4)" fill="#ad7044" stroke="#884618" stroke-width="1.1" fill-opacity="0.8"/><ellipse cx="295.2" cy="228.9" rx="1.8" ry="1.3" transform="rotate(151 295.2 228.9)" fill="#ad7044" stroke="#884618" stroke-width="1.1" fill-opacity="0.8"/><ellipse cx="303.7" cy="226.4" rx="1.5" ry="1.1" transform="rotate(157 303.7 226.4)" fill="#ad7044" stroke="#884618" stroke-width="1.1" fill-opacity="0.8"/><ellipse cx="289.6" cy="230.1" rx="1.9" ry="1.3" transform="rotate(142 289.6 230.1)" fill="#ad7044" stroke="#884618" stroke-width="1.1" fill-opacity="0.8"/><ellipse cx="289.3" cy="221.9" rx="1.8" ry="1.1" transform="rotate(149 289.3 221.9)" fill="#ad7044" stroke="#884618" stroke-width="1.1" fill-opacity="0.8"/><ellipse cx="292.6" cy="222.0" rx="1.4" ry="1.5" transform="rotate(80 292.6 222.0)" fill="#ad7044" stroke="#884618" stroke-width="1.1" fill-opacity="0.8"/><ellipse cx="298.4" cy="229.3" rx="2.0" ry="1.7" transform="rotate(123 298.4 229.3)" fill="#ad7044" stroke="#884618" stroke-width="1.1" fill-opacity="0.8"/><ellipse cx="292.0" cy="226.8" rx="1.5" ry="1.1" transform="rotate(85 292.0 226.8)" fill="#ad7044" stroke="#884618" stroke-width="1.1" fill-opacity="0.8"/><ellipse cx="299.7" cy="222.6" rx="1.6" ry="1.3" transform="rotate(126 299.7 222.6)" fill="#ad7044" stroke="#884618" stroke-width="1.1" fill-opacity="0.8"/><ellipse cx="311.8" cy="228.8" rx="2.0" ry="1.3" transform="rotate(143 311.8 228.8)" fill="#ad7044" stroke="#884618" stroke-width="1.1" fill-opacity="0.8"/><ellipse cx="317.6" cy="221.2" rx="2.1" ry="1.5" transform="rotate(23 317.6 221.2)" fill="#ad7044" stroke="#884618" stroke-width="1.1" fill-opacity="0.8"/><ellipse cx="310.8" cy="228.9" rx="2.1" ry="1.3" transform="rotate(102 310.8 228.9)" fill="#ad7044" stroke="#884618" stroke-width="1.1" fill-opacity="0.8"/><ellipse cx="317.2" cy="231.4" rx="2.2" ry="1.4" transform="rotate(117 317.2 231.4)" fill="#ad7044" stroke="#884618" stroke-width="1.1" fill-opacity="0.8"/><ellipse cx="307.1" cy="230.3" rx="2.1" ry="1.5" transform="rotate(129 307.1 230.3)" fill="#ad7044" stroke="#884618" stroke-width="1.1" fill-opacity="0.8"/><ellipse cx="307.2" cy="232.8" rx="2.2" ry="1.7" transform="rotate(97 307.2 232.8)" fill="#ad7044" stroke="#884618" stroke-width="1.1" fill-opacity="0.8"/><ellipse cx="315.9" cy="224.6" rx="2.1" ry="1.6" transform="rotate(63 315.9 224.6)" fill="#ad7044" stroke="#884618" stroke-width="1.1" fill-opacity="0.8"/><ellipse cx="305.2" cy="226.3" rx="1.8" ry="1.6" transform="rotate(88 305.2 226.3)" fill="#ad7044" stroke="#884618" stroke-width="1.1" fill-opacity="0.8"/><ellipse cx="244.4" cy="245.8" rx="1.5" ry="1.6" transform="rotate(31 244.4 245.8)" fill="#ad7044" stroke="#884618" stroke-width="1.1" fill-opacity="0.8"/><ellipse cx="249.0" cy="245.5" rx="1.5" ry="1.2" transform="rotate(93 249.0 245.5)" fill="#ad7044" stroke="#884618" stroke-width="1.1" fill-opacity="0.8"/><ellipse cx="254.9" cy="246.2" rx="2.0" ry="1.7" transform="rotate(89 254.9 246.2)" fill="#ad7044" stroke="#884618" stroke-width="1.1" fill-opacity="0.8"/><ellipse cx="258.2" cy="235.5" rx="1.6" ry="1.4" transform="rotate(52 258.2 235.5)" fill="#ad7044" stroke="#884618" stroke-width="1.1" fill-opacity="0.8"/><ellipse cx="254.9" cy="243.4" rx="1.8" ry="1.6" transform="rotate(101 254.9 243.4)" fill="#ad7044" stroke="#884618" stroke-width="1.1" fill-opacity="0.8"/><ellipse cx="248.7" cy="239.7" rx="2.1" ry="1.6" transform="rotate(37 248.7 239.7)" fill="#ad7044" stroke="#884618" stroke-width="1.1" fill-opacity="0.8"/><ellipse cx="256.8" cy="248.1" rx="1.8" ry="1.4" transform="rotate(36 256.8 248.1)" fill="#ad7044" stroke="#884618" stroke-width="1.1" fill-opacity="0.8"/><ellipse cx="252.0" cy="241.4" rx="1.9" ry="1.1" transform="rotate(174 252.0 241.4)" fill="#ad7044" stroke="#884618" stroke-width="1.1" fill-opacity="0.8"/><ellipse cx="251.7" cy="240.0" rx="2.0" ry="1.4" transform="rotate(88 251.7 240.0)" fill="#ad7044" stroke="#884618" stroke-width="1.1" fill-opacity="0.8"/><ellipse cx="254.4" cy="235.2" rx="1.8" ry="1.3" transform="rotate(172 254.4 235.2)" fill="#ad7044" stroke="#884618" stroke-width="1.1" fill-opacity="0.8"/><ellipse cx="257.9" cy="238.1" rx="1.8" ry="1.2" transform="rotate(78 257.9 238.1)" fill="#ad7044" stroke="#884618" stroke-width="1.1" fill-opacity="0.8"/><ellipse cx="256.2" cy="247.1" rx="1.8" ry="1.3" transform="rotate(34 256.2 247.1)" fill="#ad7044" stroke="#884618" stroke-width="1.1" fill-opacity="0.8"/><ellipse cx="253.3" cy="247.4" rx="1.5" ry="1.6" transform="rotate(4 253.3 247.4)" fill="#ad7044" stroke="#884618" stroke-width="1.1" fill-opacity="0.8"/><ellipse cx="246.9" cy="237.5" rx="1.9" ry="1.3" transform="rotate(64 246.9 237.5)" fill="#ad7044" stroke="#884618" stroke-width="1.1" fill-opacity="0.8"/><ellipse cx="253.3" cy="235.7" rx="2.0" ry="1.2" transform="rotate(92 253.3 235.7)" fill="#ad7044" stroke="#884618" stroke-width="1.1" fill-opacity="0.8"/><ellipse cx="262.8" cy="237.1" rx="1.8" ry="1.4" transform="rotate(68 262.8 237.1)" fill="#ad7044" stroke="#884618" stroke-width="1.1" fill-opacity="0.8"/><ellipse cx="265.2" cy="241.8" rx="1.5" ry="1.2" transform="rotate(114 265.2 241.8)" fill="#ad7044" stroke="#884618" stroke-width="1.1" fill-opacity="0.8"/><ellipse cx="268.6" cy="241.8" rx="2.1" ry="1.5" transform="rotate(154 268.6 241.8)" fill="#ad7044" stroke="#884618" stroke-width="1.1" fill-opacity="0.8"/><ellipse cx="262.5" cy="244.8" rx="2.0" ry="1.6" transform="rotate(57 262.5 244.8)" fill="#ad7044" stroke="#884618" stroke-width="1.1" fill-opacity="0.8"/><ellipse cx="263.7" cy="247.4" rx="1.6" ry="1.7" transform="rotate(160 263.7 247.4)" fill="#ad7044" stroke="#884618" stroke-width="1.1" fill-opacity="0.8"/><ellipse cx="261.0" cy="237.7" rx="2.0" ry="1.3" transform="rotate(17 261.0 237.7)" fill="#ad7044" stroke="#884618" stroke-width="1.1" fill-opacity="0.8"/><ellipse cx="271.5" cy="240.3" rx="2.0" ry="1.2" transform="rotate(73 271.5 240.3)" fill="#ad7044" stroke="#884618" stroke-width="1.1" fill-opacity="0.8"/><ellipse cx="269.3" cy="234.5" rx="1.6" ry="1.5" transform="rotate(164 269.3 234.5)" fill="#ad7044" stroke="#884618" stroke-width="1.1" fill-opacity="0.8"/><ellipse cx="273.5" cy="235.9" rx="1.8" ry="1.6" transform="rotate(91 273.5 235.9)" fill="#ad7044" stroke="#884618" stroke-width="1.1" fill-opacity="0.8"/><ellipse cx="269.3" cy="236.9" rx="1.5" ry="1.2" transform="rotate(7 269.3 236.9)" fill="#ad7044" stroke="#884618" stroke-width="1.1" fill-opacity="0.8"/><ellipse cx="267.3" cy="241.6" rx="1.9" ry="1.2" transform="rotate(33 267.3 241.6)" fill="#ad7044" stroke="#884618" stroke-width="1.1" fill-opacity="0.8"/><ellipse cx="262.1" cy="246.2" rx="2.2" ry="1.7" transform="rotate(17 262.1 246.2)" fill="#ad7044" stroke="#884618" stroke-width="1.1" fill-opacity="0.8"/><ellipse cx="259.9" cy="247.8" rx="1.8" ry="1.6" transform="rotate(59 259.9 247.8)" fill="#ad7044" stroke="#884618" stroke-width="1.1" fill-opacity="0.8"/><ellipse cx="266.0" cy="241.6" rx="1.7" ry="1.5" transform="rotate(2 266.0 241.6)" fill="#ad7044" stroke="#884618" stroke-width="1.1" fill-opacity="0.8"/><ellipse cx="269.5" cy="246.3" rx="1.5" ry="1.4" transform="rotate(133 269.5 246.3)" fill="#ad7044" stroke="#884618" stroke-width="1.1" fill-opacity="0.8"/><ellipse cx="265.1" cy="237.0" rx="1.5" ry="1.4" transform="rotate(3 265.1 237.0)" fill="#ad7044" stroke="#884618" stroke-width="1.1" fill-opacity="0.8"/><ellipse cx="287.4" cy="245.7" rx="2.0" ry="1.6" transform="rotate(113 287.4 245.7)" fill="#ad7044" stroke="#884618" stroke-width="1.1" fill-opacity="0.8"/><ellipse cx="280.1" cy="242.8" rx="1.8" ry="1.7" transform="rotate(145 280.1 242.8)" fill="#ad7044" stroke="#884618" stroke-width="1.1" fill-opacity="0.8"/><ellipse cx="277.9" cy="247.2" rx="2.0" ry="1.6" transform="rotate(147 277.9 247.2)" fill="#ad7044" stroke="#884618" stroke-width="1.1" fill-opacity="0.8"/><ellipse cx="280.1" cy="247.0" rx="2.1" ry="1.5" transform="rotate(138 280.1 247.0)" fill="#ad7044" stroke="#884618" stroke-width="1.1" fill-opacity="0.8"/><ellipse cx="285.5" cy="240.0" rx="2.0" ry="1.1" transform="rotate(62 285.5 240.0)" fill="#ad7044" stroke="#884618" stroke-width="1.1" fill-opacity="0.8"/><ellipse cx="281.0" cy="234.4" rx="1.7" ry="1.5" transform="rotate(112 281.0 234.4)" fill="#ad7044" stroke="#884618" stroke-width="1.1" fill-opacity="0.8"/><ellipse cx="277.5" cy="247.7" rx="1.9" ry="1.3" transform="rotate(119 277.5 247.7)" fill="#ad7044" stroke="#884618" stroke-width="1.1" fill-opacity="0.8"/><ellipse cx="282.5" cy="241.8" rx="1.7" ry="1.7" transform="rotate(116 282.5 241.8)" fill="#ad7044" stroke="#884618" stroke-width="1.1" fill-opacity="0.8"/><ellipse cx="284.5" cy="245.1" rx="2.2" ry="1.1" transform="rotate(111 284.5 245.1)" fill="#ad7044" stroke="#884618" stroke-width="1.1" fill-opacity="0.8"/><ellipse cx="285.1" cy="237.9" rx="1.7" ry="1.1" transform="rotate(35 285.1 237.9)" fill="#ad7044" stroke="#884618" stroke-width="1.1" fill-opacity="0.8"/><ellipse cx="279.6" cy="235.7" rx="1.6" ry="1.6" transform="rotate(99 279.6 235.7)" fill="#ad7044" stroke="#884618" stroke-width="1.1" fill-opacity="0.8"/><ellipse cx="281.6" cy="248.0" rx="1.9" ry="1.7" transform="rotate(115 281.6 248.0)" fill="#ad7044" stroke="#884618" stroke-width="1.1" fill-opacity="0.8"/><ellipse cx="286.1" cy="235.3" rx="1.9" ry="1.6" transform="rotate(8 286.1 235.3)" fill="#ad7044" stroke="#884618" stroke-width="1.1" fill-opacity="0.8"/><ellipse cx="288.0" cy="236.5" rx="1.8" ry="1.2" transform="rotate(89 288.0 236.5)" fill="#ad7044" stroke="#884618" stroke-width="1.1" fill-opacity="0.8"/><ellipse cx="298.2" cy="235.1" rx="2.2" ry="1.4" transform="rotate(95 298.2 235.1)" fill="#ad7044" stroke="#884618" stroke-width="1.1" fill-opacity="0.8"/><ellipse cx="298.0" cy="239.5" rx="1.6" ry="1.5" transform="rotate(101 298.0 239.5)" fill="#ad7044" stroke="#884618" stroke-width="1.1" fill-opacity="0.8"/><ellipse cx="293.3" cy="244.5" rx="1.6" ry="1.1" transform="rotate(44 293.3 244.5)" fill="#ad7044" stroke="#884618" stroke-width="1.1" fill-opacity="0.8"/><ellipse cx="289.6" cy="236.5" rx="2.0" ry="1.3" transform="rotate(162 289.6 236.5)" fill="#ad7044" stroke="#884618" stroke-width="1.1" fill-opacity="0.8"/><ellipse cx="300.2" cy="235.0" rx="2.2" ry="1.7" transform="rotate(13 300.2 235.0)" fill="#ad7044" stroke="#884618" stroke-width="1.1" fill-opacity="0.8"/><ellipse cx="302.6" cy="240.4" rx="1.8" ry="1.7" transform="rotate(44 302.6 240.4)" fill="#ad7044" stroke="#884618" stroke-width="1.1" fill-opacity="0.8"/><ellipse cx="296.9" cy="247.6" rx="2.0" ry="1.4" transform="rotate(176 296.9 247.6)" fill="#ad7044" stroke="#884618" stroke-width="1.1" fill-opacity="0.8"/><ellipse cx="301.3" cy="242.9" rx="1.5" ry="1.5" transform="rotate(82 301.3 242.9)" fill="#ad7044" stroke="#884618" stroke-width="1.1" fill-opacity="0.8"/><ellipse cx="292.1" cy="235.0" rx="1.8" ry="1.2" transform="rotate(80 292.1 235.0)" fill="#ad7044" stroke="#884618" stroke-width="1.1" fill-opacity="0.8"/><ellipse cx="299.0" cy="240.7" rx="1.6" ry="1.4" transform="rotate(76 299.0 240.7)" fill="#ad7044" stroke="#884618" stroke-width="1.1" fill-opacity="0.8"/><ellipse cx="300.7" cy="241.8" rx="2.2" ry="1.7" transform="rotate(132 300.7 241.8)" fill="#ad7044" stroke="#884618" stroke-width="1.1" fill-opacity="0.8"/><ellipse cx="292.6" cy="235.9" rx="2.1" ry="1.6" transform="rotate(112 292.6 235.9)" fill="#ad7044" stroke="#884618" stroke-width="1.1" fill-opacity="0.8"/><ellipse cx="294.4" cy="238.1" rx="1.9" ry="1.4" transform="rotate(107 294.4 238.1)" fill="#ad7044" stroke="#884618" stroke-width="1.1" fill-opacity="0.8"/><ellipse cx="298.5" cy="245.0" rx="1.6" ry="1.2" transform="rotate(176 298.5 245.0)" fill="#ad7044" stroke="#884618" stroke-width="1.1" fill-opacity="0.8"/><ellipse cx="302.7" cy="246.8" rx="1.4" ry="1.1" transform="rotate(49 302.7 246.8)" fill="#ad7044" stroke="#884618" stroke-width="1.1" fill-opacity="0.8"/><ellipse cx="310.4" cy="243.1" rx="1.5" ry="1.4" transform="rotate(13 310.4 243.1)" fill="#ad7044" stroke="#884618" stroke-width="1.1" fill-opacity="0.8"/><ellipse cx="305.3" cy="243.9" rx="1.8" ry="1.5" transform="rotate(67 305.3 243.9)" fill="#ad7044" stroke="#884618" stroke-width="1.1" fill-opacity="0.8"/><ellipse cx="311.2" cy="237.3" rx="1.7" ry="1.5" transform="rotate(151 311.2 237.3)" fill="#ad7044" stroke="#884618" stroke-width="1.1" fill-opacity="0.8"/><ellipse cx="305.1" cy="236.0" rx="2.0" ry="1.5" transform="rotate(138 305.1 236.0)" fill="#ad7044" stroke="#884618" stroke-width="1.1" fill-opacity="0.8"/><ellipse cx="307.2" cy="240.3" rx="1.6" ry="1.6" transform="rotate(66 307.2 240.3)" fill="#ad7044" stroke="#884618" stroke-width="1.1" fill-opacity="0.8"/><ellipse cx="313.8" cy="248.3" rx="1.7" ry="1.4" transform="rotate(134 313.8 248.3)" fill="#ad7044" stroke="#884618" stroke-width="1.1" fill-opacity="0.8"/><ellipse cx="317.8" cy="240.3" rx="1.7" ry="1.2" transform="rotate(158 317.8 240.3)" fill="#ad7044" stroke="#884618" stroke-width="1.1" fill-opacity="0.8"/><ellipse cx="245.2" cy="249.7" rx="1.9" ry="1.4" transform="rotate(123 245.2 249.7)" fill="#ad7044" stroke="#884618" stroke-width="1.1" fill-opacity="0.8"/><ellipse cx="248.5" cy="259.6" rx="1.5" ry="1.2" transform="rotate(119 248.5 259.6)" fill="#ad7044" stroke="#884618" stroke-width="1.1" fill-opacity="0.8"/><ellipse cx="245.2" cy="252.8" rx="2.0" ry="1.5" transform="rotate(51 245.2 252.8)" fill="#ad7044" stroke="#884618" stroke-width="1.1" fill-opacity="0.8"/><ellipse cx="246.1" cy="253.6" rx="2.0" ry="1.3" transform="rotate(21 246.1 253.6)" fill="#ad7044" stroke="#884618" stroke-width="1.1" fill-opacity="0.8"/><ellipse cx="254.6" cy="256.6" rx="2.1" ry="1.7" transform="rotate(164 254.6 256.6)" fill="#ad7044" stroke="#884618" stroke-width="1.1" fill-opacity="0.8"/><ellipse cx="250.6" cy="259.9" rx="1.6" ry="1.3" transform="rotate(72 250.6 259.9)" fill="#ad7044" stroke="#884618" stroke-width="1.1" fill-opacity="0.8"/><ellipse cx="258.0" cy="261.2" rx="1.6" ry="1.3" transform="rotate(66 258.0 261.2)" fill="#ad7044" stroke="#884618" stroke-width="1.1" fill-opacity="0.8"/><ellipse cx="249.4" cy="254.1" rx="1.7" ry="1.2" transform="rotate(101 249.4 254.1)" fill="#ad7044" stroke="#884618" stroke-width="1.1" fill-opacity="0.8"/><ellipse cx="256.0" cy="256.2" rx="2.1" ry="1.4" transform="rotate(32 256.0 256.2)" fill="#ad7044" stroke="#884618" stroke-width="1.1" fill-opacity="0.8"/><ellipse cx="255.4" cy="261.1" rx="1.6" ry="1.1" transform="rotate(93 255.4 261.1)" fill="#ad7044" stroke="#884618" stroke-width="1.1" fill-opacity="0.8"/><ellipse cx="252.2" cy="256.6" rx="2.2" ry="1.5" transform="rotate(145 252.2 256.6)" fill="#ad7044" stroke="#884618" stroke-width="1.1" fill-opacity="0.8"/><ellipse cx="245.0" cy="256.3" rx="2.0" ry="1.2" transform="rotate(15 245.0 256.3)" fill="#ad7044" stroke="#884618" stroke-width="1.1" fill-opacity="0.8"/><ellipse cx="255.1" cy="261.3" rx="1.5" ry="1.5" transform="rotate(26 255.1 261.3)" fill="#ad7044" stroke="#884618" stroke-width="1.1" fill-opacity="0.8"/><ellipse cx="255.2" cy="257.7" rx="1.6" ry="1.2" transform="rotate(138 255.2 257.7)" fill="#ad7044" stroke="#884618" stroke-width="1.1" fill-opacity="0.8"/><ellipse cx="266.8" cy="259.4" rx="1.7" ry="1.3" transform="rotate(174 266.8 259.4)" fill="#ad7044" stroke="#884618" stroke-width="1.1" fill-opacity="0.8"/><ellipse cx="269.1" cy="255.5" rx="1.8" ry="1.5" transform="rotate(127 269.1 255.5)" fill="#ad7044" stroke="#884618" stroke-width="1.1" fill-opacity="0.8"/><ellipse cx="272.7" cy="254.4" rx="2.1" ry="1.5" transform="rotate(154 272.7 254.4)" fill="#ad7044" stroke="#884618" stroke-width="1.1" fill-opacity="0.8"/><ellipse cx="271.1" cy="260.4" rx="2.1" ry="1.7" transform="rotate(115 271.1 260.4)" fill="#ad7044" stroke="#884618" stroke-width="1.1" fill-opacity="0.8"/><ellipse cx="266.9" cy="258.6" rx="2.0" ry="1.4" transform="rotate(76 266.9 258.6)" fill="#ad7044" stroke="#884618" stroke-width="1.1" fill-opacity="0.8"/><ellipse cx="261.2" cy="259.1" rx="2.2" ry="1.3" transform="rotate(30 261.2 259.1)" fill="#ad7044" stroke="#884618" stroke-width="1.1" fill-opacity="0.8"/><ellipse cx="262.1" cy="254.6" rx="1.6" ry="1.7" transform="rotate(11 262.1 254.6)" fill="#ad7044" stroke="#884618" stroke-width="1.1" fill-opacity="0.8"/><ellipse cx="263.6" cy="250.1" rx="1.9" ry="1.6" transform="rotate(32 263.6 250.1)" fill="#ad7044" stroke="#884618" stroke-width="1.1" fill-opacity="0.8"/><ellipse cx="259.9" cy="255.0" rx="1.9" ry="1.6" transform="rotate(7 259.9 255.0)" fill="#ad7044" stroke="#884618" stroke-width="1.1" fill-opacity="0.8"/><ellipse cx="260.6" cy="251.1" rx="1.6" ry="1.2" transform="rotate(129 260.6 251.1)" fill="#ad7044" stroke="#884618" stroke-width="1.1" fill-opacity="0.8"/><ellipse cx="267.9" cy="251.7" rx="1.5" ry="1.3" transform="rotate(31 267.9 251.7)" fill="#ad7044" stroke="#884618" stroke-width="1.1" fill-opacity="0.8"/><ellipse cx="270.4" cy="252.9" rx="1.8" ry="1.6" transform="rotate(86 270.4 252.9)" fill="#ad7044" stroke="#884618" stroke-width="1.1" fill-opacity="0.8"/><ellipse cx="262.9" cy="261.1" rx="2.1" ry="1.3" transform="rotate(99 262.9 261.1)" fill="#ad7044" stroke="#884618" stroke-width="1.1" fill-opacity="0.8"/><ellipse cx="273.4" cy="255.4" rx="1.6" ry="1.1" transform="rotate(171 273.4 255.4)" fill="#ad7044" stroke="#884618" stroke-width="1.1" fill-opacity="0.8"/><ellipse cx="271.0" cy="254.0" rx="1.8" ry="1.4" transform="rotate(49 271.0 254.0)" fill="#ad7044" stroke="#884618" stroke-width="1.1" fill-opacity="0.8"/><ellipse cx="288.9" cy="257.9" rx="1.6" ry="1.1" transform="rotate(85 288.9 257.9)" fill="#ad7044" stroke="#884618" stroke-width="1.1" fill-opacity="0.8"/><ellipse cx="279.6" cy="259.9" rx="2.0" ry="1.5" transform="rotate(28 279.6 259.9)" fill="#ad7044" stroke="#884618" stroke-width="1.1" fill-opacity="0.8"/><ellipse cx="276.4" cy="253.1" rx="1.6" ry="1.6" transform="rotate(93 276.4 253.1)" fill="#ad7044" stroke="#884618" stroke-width="1.1" fill-opacity="0.8"/><ellipse cx="283.6" cy="262.7" rx="1.6" ry="1.4" transform="rotate(27 283.6 262.7)" fill="#ad7044" stroke="#884618" stroke-width="1.1" fill-opacity="0.8"/><ellipse cx="285.6" cy="248.5" rx="2.1" ry="1.6" transform="rotate(148 285.6 248.5)" fill="#ad7044" stroke="#884618" stroke-width="1.1" fill-opacity="0.8"/><ellipse cx="275.2" cy="252.3" rx="2.0" ry="1.2" transform="rotate(86 275.2 252.3)" fill="#ad7044" stroke="#884618" stroke-width="1.1" fill-opacity="0.8"/><ellipse cx="281.0" cy="262.1" rx="1.9" ry="1.6" transform="rotate(55 281.0 262.1)" fill="#ad7044" stroke="#884618" stroke-width="1.1" fill-opacity="0.8"/><ellipse cx="285.8" cy="254.4" rx="2.1" ry="1.2" transform="rotate(149 285.8 254.4)" fill="#ad7044" stroke="#884618" stroke-width="1.1" fill-opacity="0.8"/><ellipse cx="277.1" cy="256.2" rx="1.8" ry="1.2" transform="rotate(150 277.1 256.2)" fill="#ad7044" stroke="#884618" stroke-width="1.1" fill-opacity="0.8"/><ellipse cx="278.7" cy="252.9" rx="1.5" ry="1.3" transform="rotate(84 278.7 252.9)" fill="#ad7044" stroke="#884618" stroke-width="1.1" fill-opacity="0.8"/><ellipse cx="284.7" cy="253.6" rx="1.9" ry="1.2" transform="rotate(71 284.7 253.6)" fill="#ad7044" stroke="#884618" stroke-width="1.1" fill-opacity="0.8"/><ellipse cx="280.9" cy="262.3" rx="2.1" ry="1.5" transform="rotate(2 280.9 262.3)" fill="#ad7044" stroke="#884618" stroke-width="1.1" fill-opacity="0.8"/><ellipse cx="279.7" cy="258.6" rx="1.6" ry="1.4" transform="rotate(82 279.7 258.6)" fill="#ad7044" stroke="#884618" stroke-width="1.1" fill-opacity="0.8"/><ellipse cx="274.2" cy="262.6" rx="2.0" ry="1.2" transform="rotate(111 274.2 262.6)" fill="#ad7044" stroke="#884618" stroke-width="1.1" fill-opacity="0.8"/><ellipse cx="278.4" cy="253.9" rx="1.8" ry="1.3" transform="rotate(61 278.4 253.9)" fill="#ad7044" stroke="#884618" stroke-width="1.1" fill-opacity="0.8"/><ellipse cx="294.9" cy="258.0" rx="1.6" ry="1.2" transform="rotate(132 294.9 258.0)" fill="#ad7044" stroke="#884618" stroke-width="1.1" fill-opacity="0.8"/><ellipse cx="293.9" cy="262.0" rx="1.9" ry="1.5" transform="rotate(60 293.9 262.0)" fill="#ad7044" stroke="#884618" stroke-width="1.1" fill-opacity="0.8"/><ellipse cx="301.4" cy="249.8" rx="1.5" ry="1.2" transform="rotate(122 301.4 249.8)" fill="#ad7044" stroke="#884618" stroke-width="1.1" fill-opacity="0.8"/><ellipse cx="299.6" cy="251.1" rx="1.7" ry="1.6" transform="rotate(107 299.6 251.1)" fill="#ad7044" stroke="#884618" stroke-width="1.1" fill-opacity="0.8"/><ellipse cx="290.4" cy="251.7" rx="1.5" ry="1.2" transform="rotate(73 290.4 251.7)" fill="#ad7044" stroke="#884618" stroke-width="1.1" fill-opacity="0.8"/><ellipse cx="290.1" cy="261.6" rx="1.7" ry="1.4" transform="rotate(117 290.1 261.6)" fill="#ad7044" stroke="#884618" stroke-width="1.1" fill-opacity="0.8"/><ellipse cx="300.5" cy="260.2" rx="1.7" ry="1.3" transform="rotate(74 300.5 260.2)" fill="#ad7044" stroke="#884618" stroke-width="1.1" fill-opacity="0.8"/><ellipse cx="289.2" cy="254.2" rx="2.0" ry="1.7" transform="rotate(142 289.2 254.2)" fill="#ad7044" stroke="#884618" stroke-width="1.1" fill-opacity="0.8"/><ellipse cx="298.9" cy="257.2" rx="1.4" ry="1.3" transform="rotate(62 298.9 257.2)" fill="#ad7044" stroke="#884618" stroke-width="1.1" fill-opacity="0.8"/><ellipse cx="298.8" cy="250.0" rx="1.7" ry="1.4" transform="rotate(142 298.8 250.0)" fill="#ad7044" stroke="#884618" stroke-width="1.1" fill-opacity="0.8"/><ellipse cx="316.4" cy="257.2" rx="1.5" ry="1.6" transform="rotate(163 316.4 257.2)" fill="#ad7044" stroke="#884618" stroke-width="1.1" fill-opacity="0.8"/><ellipse cx="312.2" cy="253.5" rx="1.8" ry="1.2" transform="rotate(128 312.2 253.5)" fill="#ad7044" stroke="#884618" stroke-width="1.1" fill-opacity="0.8"/><ellipse cx="318.8" cy="255.9" rx="2.0" ry="1.6" transform="rotate(35 318.8 255.9)" fill="#ad7044" stroke="#884618" stroke-width="1.1" fill-opacity="0.8"/><ellipse cx="318.2" cy="257.4" rx="1.6" ry="1.1" transform="rotate(44 318.2 257.4)" fill="#ad7044" stroke="#884618" stroke-width="1.1" fill-opacity="0.8"/><ellipse cx="312.6" cy="258.4" rx="1.7" ry="1.7" transform="rotate(65 312.6 258.4)" fill="#ad7044" stroke="#884618" stroke-width="1.1" fill-opacity="0.8"/><ellipse cx="310.9" cy="250.3" rx="2.2" ry="1.2" transform="rotate(163 310.9 250.3)" fill="#ad7044" stroke="#884618" stroke-width="1.1" fill-opacity="0.8"/><ellipse cx="252.2" cy="270.7" rx="1.8" ry="1.3" transform="rotate(164 252.2 270.7)" fill="#ad7044" stroke="#884618" stroke-width="1.1" fill-opacity="0.8"/><ellipse cx="258.9" cy="274.4" rx="1.9" ry="1.2" transform="rotate(148 258.9 274.4)" fill="#ad7044" stroke="#884618" stroke-width="1.1" fill-opacity="0.8"/><ellipse cx="248.3" cy="275.5" rx="1.6" ry="1.4" transform="rotate(150 248.3 275.5)" fill="#ad7044" stroke="#884618" stroke-width="1.1" fill-opacity="0.8"/><ellipse cx="246.8" cy="270.6" rx="1.5" ry="1.1" transform="rotate(32 246.8 270.6)" fill="#ad7044" stroke="#884618" stroke-width="1.1" fill-opacity="0.8"/><ellipse cx="258.8" cy="276.1" rx="1.9" ry="1.3" transform="rotate(121 258.8 276.1)" fill="#ad7044" stroke="#884618" stroke-width="1.1" fill-opacity="0.8"/><ellipse cx="255.1" cy="268.2" rx="1.9" ry="1.6" transform="rotate(3 255.1 268.2)" fill="#ad7044" stroke="#884618" stroke-width="1.1" fill-opacity="0.8"/><ellipse cx="247.0" cy="269.4" rx="1.5" ry="1.3" transform="rotate(103 247.0 269.4)" fill="#ad7044" stroke="#884618" stroke-width="1.1" fill-opacity="0.8"/><ellipse cx="246.6" cy="270.2" rx="1.6" ry="1.4" transform="rotate(60 246.6 270.2)" fill="#ad7044" stroke="#884618" stroke-width="1.1" fill-opacity="0.8"/><ellipse cx="253.6" cy="263.3" rx="1.9" ry="1.2" transform="rotate(173 253.6 263.3)" fill="#ad7044" stroke="#884618" stroke-width="1.1" fill-opacity="0.8"/><ellipse cx="268.0" cy="269.4" rx="1.7" ry="1.5" transform="rotate(124 268.0 269.4)" fill="#ad7044" stroke="#884618" stroke-width="1.1" fill-opacity="0.8"/><ellipse cx="270.4" cy="273.5" rx="1.8" ry="1.7" transform="rotate(151 270.4 273.5)" fill="#ad7044" stroke="#884618" stroke-width="1.1" fill-opacity="0.8"/><ellipse cx="271.8" cy="268.6" rx="1.7" ry="1.4" transform="rotate(163 271.8 268.6)" fill="#ad7044" stroke="#884618" stroke-width="1.1" fill-opacity="0.8"/><ellipse cx="266.9" cy="270.2" rx="1.7" ry="1.6" transform="rotate(58 266.9 270.2)" fill="#ad7044" stroke="#884618" stroke-width="1.1" fill-opacity="0.8"/><ellipse cx="259.8" cy="273.1" rx="2.1" ry="1.5" transform="rotate(108 259.8 273.1)" fill="#ad7044" stroke="#884618" stroke-width="1.1" fill-opacity="0.8"/><ellipse cx="270.3" cy="267.1" rx="1.9" ry="1.1" transform="rotate(22 270.3 267.1)" fill="#ad7044" stroke="#884618" stroke-width="1.1" fill-opacity="0.8"/><ellipse cx="265.7" cy="269.9" rx="1.7" ry="1.1" transform="rotate(125 265.7 269.9)" fill="#ad7044" stroke="#884618" stroke-width="1.1" fill-opacity="0.8"/><ellipse cx="266.9" cy="266.2" rx="1.6" ry="1.3" transform="rotate(42 266.9 266.2)" fill="#ad7044" stroke="#884618" stroke-width="1.1" fill-opacity="0.8"/><ellipse cx="260.0" cy="275.7" rx="2.2" ry="1.5" transform="rotate(156 260.0 275.7)" fill="#ad7044" stroke="#884618" stroke-width="1.1" fill-opacity="0.8"/><ellipse cx="265.3" cy="274.2" rx="1.6" ry="1.5" transform="rotate(102 265.3 274.2)" fill="#ad7044" stroke="#884618" stroke-width="1.1" fill-opacity="0.8"/><ellipse cx="287.6" cy="264.2" rx="2.0" ry="1.2" transform="rotate(97 287.6 264.2)" fill="#ad7044" stroke="#884618" stroke-width="1.1" fill-opacity="0.8"/><ellipse cx="288.3" cy="262.8" rx="1.6" ry="1.3" transform="rotate(58 288.3 262.8)" fill="#ad7044" stroke="#884618" stroke-width="1.1" fill-opacity="0.8"/><ellipse cx="274.9" cy="275.5" rx="2.1" ry="1.3" transform="rotate(64 274.9 275.5)" fill="#ad7044" stroke="#884618" stroke-width="1.1" fill-opacity="0.8"/><ellipse cx="282.8" cy="263.4" rx="1.4" ry="1.6" transform="rotate(55 282.8 263.4)" fill="#ad7044" stroke="#884618" stroke-width="1.1" fill-opacity="0.8"/><ellipse cx="281.5" cy="276.1" rx="2.2" ry="1.4" transform="rotate(37 281.5 276.1)" fill="#ad7044" stroke="#884618" stroke-width="1.1" fill-opacity="0.8"/><ellipse cx="278.4" cy="275.9" rx="2.1" ry="1.2" transform="rotate(151 278.4 275.9)" fill="#ad7044" stroke="#884618" stroke-width="1.1" fill-opacity="0.8"/><ellipse cx="279.3" cy="269.5" rx="1.5" ry="1.6" transform="rotate(179 279.3 269.5)" fill="#ad7044" stroke="#884618" stroke-width="1.1" fill-opacity="0.8"/><ellipse cx="277.0" cy="271.8" rx="1.6" ry="1.6" transform="rotate(9 277.0 271.8)" fill="#ad7044" stroke="#884618" stroke-width="1.1" fill-opacity="0.8"/><ellipse cx="275.6" cy="273.1" rx="1.7" ry="1.6" transform="rotate(157 275.6 273.1)" fill="#ad7044" stroke="#884618" stroke-width="1.1" fill-opacity="0.8"/><ellipse cx="284.7" cy="264.7" rx="2.0" ry="1.7" transform="rotate(80 284.7 264.7)" fill="#ad7044" stroke="#884618" stroke-width="1.1" fill-opacity="0.8"/><ellipse cx="275.2" cy="265.9" rx="1.6" ry="1.5" transform="rotate(35 275.2 265.9)" fill="#ad7044" stroke="#884618" stroke-width="1.1" fill-opacity="0.8"/><ellipse cx="276.7" cy="266.1" rx="1.9" ry="1.6" transform="rotate(67 276.7 266.1)" fill="#ad7044" stroke="#884618" stroke-width="1.1" fill-opacity="0.8"/><ellipse cx="298.9" cy="275.4" rx="1.9" ry="1.2" transform="rotate(54 298.9 275.4)" fill="#ad7044" stroke="#884618" stroke-width="1.1" fill-opacity="0.8"/><ellipse cx="302.9" cy="272.3" rx="1.6" ry="1.5" transform="rotate(16 302.9 272.3)" fill="#ad7044" stroke="#884618" stroke-width="1.1" fill-opacity="0.8"/><ellipse cx="303.7" cy="269.0" rx="1.8" ry="1.4" transform="rotate(8 303.7 269.0)" fill="#ad7044" stroke="#884618" stroke-width="1.1" fill-opacity="0.8"/><ellipse cx="298.0" cy="266.8" rx="1.6" ry="1.6" transform="rotate(16 298.0 266.8)" fill="#ad7044" stroke="#884618" stroke-width="1.1" fill-opacity="0.8"/><ellipse cx="293.3" cy="273.5" rx="1.6" ry="1.3" transform="rotate(99 293.3 273.5)" fill="#ad7044" stroke="#884618" stroke-width="1.1" fill-opacity="0.8"/><ellipse cx="291.8" cy="275.5" rx="2.2" ry="1.1" transform="rotate(83 291.8 275.5)" fill="#ad7044" stroke="#884618" stroke-width="1.1" fill-opacity="0.8"/><ellipse cx="300.3" cy="268.2" rx="2.1" ry="1.4" transform="rotate(32 300.3 268.2)" fill="#ad7044" stroke="#884618" stroke-width="1.1" fill-opacity="0.8"/><ellipse cx="297.3" cy="271.9" rx="1.7" ry="1.5" transform="rotate(141 297.3 271.9)" fill="#ad7044" stroke="#884618" stroke-width="1.1" fill-opacity="0.8"/><ellipse cx="311.8" cy="270.0" rx="2.1" ry="1.5" transform="rotate(94 311.8 270.0)" fill="#ad7044" stroke="#884618" stroke-width="1.1" fill-opacity="0.8"/><ellipse cx="318.3" cy="265.2" rx="2.0" ry="1.2" transform="rotate(109 318.3 265.2)" fill="#ad7044" stroke="#884618" stroke-width="1.1" fill-opacity="0.8"/><ellipse cx="307.5" cy="269.0" rx="2.0" ry="1.6" transform="rotate(142 307.5 269.0)" fill="#ad7044" stroke="#884618" stroke-width="1.1" fill-opacity="0.8"/><ellipse cx="307.5" cy="269.7" rx="1.6" ry="1.4" transform="rotate(90 307.5 269.7)" fill="#ad7044" stroke="#884618" stroke-width="1.1" fill-opacity="0.8"/><ellipse cx="304.5" cy="271.3" rx="2.0" ry="1.4" transform="rotate(157 304.5 271.3)" fill="#ad7044" stroke="#884618" stroke-width="1.1" fill-opacity="0.8"/></g></g>
<g clip-path="url(#c9)"><rect x="320" y="220" width="75" height="57" fill="#eee5d5"/><rect x="320" y="220" width="75" height="57" filter="url(#n9)"/><g transform="translate(9 21)"><rect x="311" y="199" width="75" height="57" fill="url(#pA)" opacity="0.75" filter="url(#bl)"/></g><g filter="url(#blr)"><ellipse cx="328.7" cy="225.0" rx="1.6" ry="1.5" transform="rotate(67 328.7 225.0)" fill="#c39a72" stroke="#8a4a20" stroke-width="1.0"/><ellipse cx="329.4" cy="227.9" rx="1.9" ry="1.5" transform="rotate(12 329.4 227.9)" fill="#c39a72" stroke="#8a4a20" stroke-width="1.0"/><ellipse cx="322.9" cy="226.5" rx="1.5" ry="1.6" transform="rotate(47 322.9 226.5)" fill="#c39a72" stroke="#8a4a20" stroke-width="1.0"/><ellipse cx="341.6" cy="227.9" rx="1.6" ry="1.7" transform="rotate(85 341.6 227.9)" fill="#c39a72" stroke="#8a4a20" stroke-width="1.0"/><ellipse cx="346.0" cy="226.5" rx="2.0" ry="1.4" transform="rotate(115 346.0 226.5)" fill="#c39a72" stroke="#8a4a20" stroke-width="1.0"/><ellipse cx="349.6" cy="229.4" rx="1.6" ry="1.5" transform="rotate(156 349.6 229.4)" fill="#c39a72" stroke="#8a4a20" stroke-width="1.0"/><ellipse cx="356.8" cy="221.2" rx="1.8" ry="1.6" transform="rotate(121 356.8 221.2)" fill="#c39a72" stroke="#8a4a20" stroke-width="1.0"/><ellipse cx="369.8" cy="222.9" rx="1.5" ry="1.6" transform="rotate(106 369.8 222.9)" fill="#c39a72" stroke="#8a4a20" stroke-width="1.0"/><ellipse cx="381.3" cy="225.8" rx="1.7" ry="1.2" transform="rotate(156 381.3 225.8)" fill="#c39a72" stroke="#8a4a20" stroke-width="1.0"/><ellipse cx="378.4" cy="230.8" rx="1.8" ry="1.6" transform="rotate(158 378.4 230.8)" fill="#c39a72" stroke="#8a4a20" stroke-width="1.0"/><ellipse cx="388.5" cy="230.1" rx="1.9" ry="1.7" transform="rotate(71 388.5 230.1)" fill="#c39a72" stroke="#8a4a20" stroke-width="1.0"/><ellipse cx="382.0" cy="235.2" rx="2.0" ry="1.4" transform="rotate(168 382.0 235.2)" fill="#c39a72" stroke="#8a4a20" stroke-width="1.0"/><ellipse cx="342.4" cy="236.6" rx="2.0" ry="1.2" transform="rotate(24 342.4 236.6)" fill="#c39a72" stroke="#8a4a20" stroke-width="1.0"/><ellipse cx="340.9" cy="238.8" rx="1.6" ry="1.7" transform="rotate(79 340.9 238.8)" fill="#c39a72" stroke="#8a4a20" stroke-width="1.0"/><ellipse cx="354.6" cy="239.5" rx="1.9" ry="1.4" transform="rotate(91 354.6 239.5)" fill="#c39a72" stroke="#8a4a20" stroke-width="1.0"/><ellipse cx="329.4" cy="242.4" rx="1.7" ry="1.4" transform="rotate(105 329.4 242.4)" fill="#c39a72" stroke="#8a4a20" stroke-width="1.0"/><ellipse cx="346.0" cy="242.4" rx="1.9" ry="1.7" transform="rotate(123 346.0 242.4)" fill="#c39a72" stroke="#8a4a20" stroke-width="1.0"/><ellipse cx="391.4" cy="240.2" rx="2.1" ry="1.6" transform="rotate(178 391.4 240.2)" fill="#c39a72" stroke="#8a4a20" stroke-width="1.0"/><ellipse cx="384.2" cy="242.4" rx="1.9" ry="1.3" transform="rotate(155 384.2 242.4)" fill="#c39a72" stroke="#8a4a20" stroke-width="1.0"/><ellipse cx="369.1" cy="243.1" rx="2.1" ry="1.7" transform="rotate(102 369.1 243.1)" fill="#c39a72" stroke="#8a4a20" stroke-width="1.0"/><ellipse cx="369.8" cy="246.7" rx="1.9" ry="1.3" transform="rotate(150 369.8 246.7)" fill="#c39a72" stroke="#8a4a20" stroke-width="1.0"/><ellipse cx="356.8" cy="246.0" rx="1.8" ry="1.3" transform="rotate(11 356.8 246.0)" fill="#c39a72" stroke="#8a4a20" stroke-width="1.0"/><ellipse cx="361.8" cy="248.1" rx="2.0" ry="1.7" transform="rotate(16 361.8 248.1)" fill="#c39a72" stroke="#8a4a20" stroke-width="1.0"/><ellipse cx="366.9" cy="249.6" rx="2.0" ry="1.4" transform="rotate(27 366.9 249.6)" fill="#c39a72" stroke="#8a4a20" stroke-width="1.0"/><ellipse cx="354.6" cy="246.7" rx="1.7" ry="1.6" transform="rotate(157 354.6 246.7)" fill="#c39a72" stroke="#8a4a20" stroke-width="1.0"/><ellipse cx="332.3" cy="251.7" rx="1.5" ry="1.5" transform="rotate(8 332.3 251.7)" fill="#c39a72" stroke="#8a4a20" stroke-width="1.0"/><ellipse cx="357.5" cy="253.2" rx="1.9" ry="1.4" transform="rotate(159 357.5 253.2)" fill="#c39a72" stroke="#8a4a20" stroke-width="1.0"/><ellipse cx="364.0" cy="252.5" rx="2.1" ry="1.5" transform="rotate(180 364.0 252.5)" fill="#c39a72" stroke="#8a4a20" stroke-width="1.0"/><ellipse cx="367.6" cy="254.6" rx="1.7" ry="1.2" transform="rotate(108 367.6 254.6)" fill="#c39a72" stroke="#8a4a20" stroke-width="1.0"/><ellipse cx="348.9" cy="255.4" rx="1.5" ry="1.3" transform="rotate(73 348.9 255.4)" fill="#c39a72" stroke="#8a4a20" stroke-width="1.0"/><ellipse cx="347.4" cy="258.2" rx="1.9" ry="1.3" transform="rotate(8 347.4 258.2)" fill="#c39a72" stroke="#8a4a20" stroke-width="1.0"/><ellipse cx="332.3" cy="256.8" rx="2.0" ry="1.4" transform="rotate(173 332.3 256.8)" fill="#c39a72" stroke="#8a4a20" stroke-width="1.0"/><ellipse cx="334.4" cy="256.1" rx="2.0" ry="1.4" transform="rotate(83 334.4 256.1)" fill="#c39a72" stroke="#8a4a20" stroke-width="1.0"/><ellipse cx="330.8" cy="259.0" rx="1.8" ry="1.5" transform="rotate(107 330.8 259.0)" fill="#c39a72" stroke="#8a4a20" stroke-width="1.0"/><ellipse cx="387.1" cy="253.2" rx="1.8" ry="1.5" transform="rotate(169 387.1 253.2)" fill="#c39a72" stroke="#8a4a20" stroke-width="1.0"/><ellipse cx="359.7" cy="257.5" rx="1.8" ry="1.4" transform="rotate(130 359.7 257.5)" fill="#c39a72" stroke="#8a4a20" stroke-width="1.0"/><ellipse cx="320.7" cy="255.4" rx="1.6" ry="1.4" transform="rotate(176 320.7 255.4)" fill="#c39a72" stroke="#8a4a20" stroke-width="1.0"/><ellipse cx="392.2" cy="259.7" rx="1.8" ry="1.5" transform="rotate(2 392.2 259.7)" fill="#c39a72" stroke="#8a4a20" stroke-width="1.0"/><ellipse cx="330.1" cy="262.6" rx="1.7" ry="1.5" transform="rotate(4 330.1 262.6)" fill="#c39a72" stroke="#8a4a20" stroke-width="1.0"/><ellipse cx="343.1" cy="261.8" rx="1.9" ry="1.5" transform="rotate(11 343.1 261.8)" fill="#c39a72" stroke="#8a4a20" stroke-width="1.0"/><ellipse cx="354.6" cy="263.0" rx="1.9" ry="1.4" transform="rotate(122 354.6 263.0)" fill="#c39a72" stroke="#8a4a20" stroke-width="1.0"/><ellipse cx="358.2" cy="262.6" rx="1.7" ry="1.6" transform="rotate(133 358.2 262.6)" fill="#c39a72" stroke="#8a4a20" stroke-width="1.0"/><ellipse cx="348.1" cy="265.9" rx="1.5" ry="1.2" transform="rotate(122 348.1 265.9)" fill="#c39a72" stroke="#8a4a20" stroke-width="1.0"/><ellipse cx="359.7" cy="266.2" rx="2.1" ry="1.3" transform="rotate(82 359.7 266.2)" fill="#c39a72" stroke="#8a4a20" stroke-width="1.0"/><ellipse cx="379.2" cy="265.5" rx="1.9" ry="1.4" transform="rotate(66 379.2 265.5)" fill="#c39a72" stroke="#8a4a20" stroke-width="1.0"/><ellipse cx="392.9" cy="264.7" rx="1.7" ry="1.4" transform="rotate(107 392.9 264.7)" fill="#c39a72" stroke="#8a4a20" stroke-width="1.0"/><ellipse cx="325.1" cy="269.8" rx="1.7" ry="1.4" transform="rotate(139 325.1 269.8)" fill="#c39a72" stroke="#8a4a20" stroke-width="1.0"/><ellipse cx="332.3" cy="270.5" rx="1.5" ry="1.5" transform="rotate(132 332.3 270.5)" fill="#c39a72" stroke="#8a4a20" stroke-width="1.0"/><ellipse cx="340.2" cy="271.9" rx="1.7" ry="1.3" transform="rotate(145 340.2 271.9)" fill="#c39a72" stroke="#8a4a20" stroke-width="1.0"/><ellipse cx="353.2" cy="271.9" rx="1.6" ry="1.3" transform="rotate(78 353.2 271.9)" fill="#c39a72" stroke="#8a4a20" stroke-width="1.0"/><ellipse cx="360.4" cy="270.5" rx="1.9" ry="1.3" transform="rotate(58 360.4 270.5)" fill="#c39a72" stroke="#8a4a20" stroke-width="1.0"/><ellipse cx="369.8" cy="273.4" rx="1.7" ry="1.6" transform="rotate(79 369.8 273.4)" fill="#c39a72" stroke="#8a4a20" stroke-width="1.0"/><ellipse cx="378.4" cy="271.2" rx="2.0" ry="1.3" transform="rotate(61 378.4 271.2)" fill="#c39a72" stroke="#8a4a20" stroke-width="1.0"/><ellipse cx="384.9" cy="271.9" rx="1.9" ry="1.6" transform="rotate(81 384.9 271.9)" fill="#c39a72" stroke="#8a4a20" stroke-width="1.0"/></g></g>
<g clip-path="url(#c10)"><rect x="396" y="220" width="75" height="57" fill="#ece3d3"/><rect x="396" y="220" width="75" height="57" filter="url(#n10)"/><g transform="translate(26 2)"><rect x="370" y="218" width="75" height="57" fill="url(#pA)" opacity="0.95" filter="url(#bl)"/></g><g filter="url(#blr)"><ellipse cx="407.5" cy="222.2" rx="1.9" ry="1.4" transform="rotate(112 407.5 222.2)" fill="#98441a" stroke="#7a3010" stroke-width="0.8"/><ellipse cx="410.4" cy="227.2" rx="2.4" ry="1.8" transform="rotate(134 410.4 227.2)" fill="#98441a" stroke="#7a3010" stroke-width="0.8"/><ellipse cx="408.3" cy="234.4" rx="1.9" ry="1.4" transform="rotate(143 408.3 234.4)" fill="#98441a" stroke="#7a3010" stroke-width="0.8"/><ellipse cx="400.3" cy="236.6" rx="2.4" ry="1.8" transform="rotate(170 400.3 236.6)" fill="#98441a" stroke="#7a3010" stroke-width="0.8"/><ellipse cx="402.5" cy="241.6" rx="2.4" ry="1.8" transform="rotate(133 402.5 241.6)" fill="#98441a" stroke="#7a3010" stroke-width="0.8"/><ellipse cx="406.1" cy="245.3" rx="2.4" ry="1.8" transform="rotate(166 406.1 245.3)" fill="#98441a" stroke="#7a3010" stroke-width="0.8"/><ellipse cx="407.5" cy="247.4" rx="1.9" ry="1.4" transform="rotate(5 407.5 247.4)" fill="#98441a" stroke="#7a3010" stroke-width="0.8"/><ellipse cx="411.9" cy="238.8" rx="2.4" ry="1.8" transform="rotate(84 411.9 238.8)" fill="#98441a" stroke="#7a3010" stroke-width="0.8"/><ellipse cx="414.8" cy="235.9" rx="1.9" ry="1.4" transform="rotate(170 414.8 235.9)" fill="#98441a" stroke="#7a3010" stroke-width="0.8"/><ellipse cx="419.1" cy="231.5" rx="2.4" ry="1.8" transform="rotate(117 419.1 231.5)" fill="#98441a" stroke="#7a3010" stroke-width="0.8"/><ellipse cx="422.0" cy="234.4" rx="1.9" ry="1.4" transform="rotate(162 422.0 234.4)" fill="#98441a" stroke="#7a3010" stroke-width="0.8"/><ellipse cx="416.2" cy="240.9" rx="2.4" ry="1.8" transform="rotate(20 416.2 240.9)" fill="#98441a" stroke="#7a3010" stroke-width="0.8"/><ellipse cx="411.9" cy="246.0" rx="1.9" ry="1.4" transform="rotate(84 411.9 246.0)" fill="#98441a" stroke="#7a3010" stroke-width="0.8"/><ellipse cx="419.8" cy="242.4" rx="1.9" ry="1.4" transform="rotate(44 419.8 242.4)" fill="#98441a" stroke="#7a3010" stroke-width="0.8"/><ellipse cx="425.6" cy="241.6" rx="1.7" ry="1.3" transform="rotate(98 425.6 241.6)" fill="#98441a" stroke="#7a3010" stroke-width="0.8"/><ellipse cx="428.5" cy="238.8" rx="1.7" ry="1.3" transform="rotate(103 428.5 238.8)" fill="#98441a" stroke="#7a3010" stroke-width="0.8"/><ellipse cx="426.3" cy="233.0" rx="1.4" ry="1.1" transform="rotate(2 426.3 233.0)" fill="#98441a" stroke="#7a3010" stroke-width="0.8"/><ellipse cx="431.4" cy="228.7" rx="1.7" ry="1.3" transform="rotate(39 431.4 228.7)" fill="#98441a" stroke="#7a3010" stroke-width="0.8"/><ellipse cx="439.3" cy="231.5" rx="1.4" ry="1.1" transform="rotate(50 439.3 231.5)" fill="#98441a" stroke="#7a3010" stroke-width="0.8"/><ellipse cx="442.9" cy="237.3" rx="1.4" ry="1.1" transform="rotate(165 442.9 237.3)" fill="#98441a" stroke="#7a3010" stroke-width="0.8"/><ellipse cx="398.9" cy="254.6" rx="2.1" ry="1.6" transform="rotate(138 398.9 254.6)" fill="#98441a" stroke="#7a3010" stroke-width="0.8"/><ellipse cx="401.8" cy="255.4" rx="1.7" ry="1.3" transform="rotate(29 401.8 255.4)" fill="#98441a" stroke="#7a3010" stroke-width="0.8"/><ellipse cx="416.9" cy="256.8" rx="2.1" ry="1.6" transform="rotate(143 416.9 256.8)" fill="#98441a" stroke="#7a3010" stroke-width="0.8"/><ellipse cx="423.4" cy="251.0" rx="1.9" ry="1.4" transform="rotate(25 423.4 251.0)" fill="#98441a" stroke="#7a3010" stroke-width="0.8"/><ellipse cx="430.6" cy="250.3" rx="1.9" ry="1.4" transform="rotate(111 430.6 250.3)" fill="#98441a" stroke="#7a3010" stroke-width="0.8"/><ellipse cx="434.2" cy="247.4" rx="1.7" ry="1.3" transform="rotate(23 434.2 247.4)" fill="#98441a" stroke="#7a3010" stroke-width="0.8"/><ellipse cx="439.3" cy="248.1" rx="1.9" ry="1.4" transform="rotate(0 439.3 248.1)" fill="#98441a" stroke="#7a3010" stroke-width="0.8"/><ellipse cx="432.1" cy="254.6" rx="1.9" ry="1.4" transform="rotate(157 432.1 254.6)" fill="#98441a" stroke="#7a3010" stroke-width="0.8"/><ellipse cx="437.1" cy="256.8" rx="2.1" ry="1.6" transform="rotate(38 437.1 256.8)" fill="#98441a" stroke="#7a3010" stroke-width="0.8"/><ellipse cx="422.7" cy="258.2" rx="2.4" ry="1.8" transform="rotate(39 422.7 258.2)" fill="#98441a" stroke="#7a3010" stroke-width="0.8"/><ellipse cx="424.1" cy="261.8" rx="2.4" ry="1.8" transform="rotate(177 424.1 261.8)" fill="#98441a" stroke="#7a3010" stroke-width="0.8"/><ellipse cx="427.7" cy="263.3" rx="2.1" ry="1.6" transform="rotate(157 427.7 263.3)" fill="#98441a" stroke="#7a3010" stroke-width="0.8"/><ellipse cx="423.4" cy="267.6" rx="1.9" ry="1.4" transform="rotate(52 423.4 267.6)" fill="#98441a" stroke="#7a3010" stroke-width="0.8"/><ellipse cx="445.8" cy="253.9" rx="1.9" ry="1.4" transform="rotate(173 445.8 253.9)" fill="#98441a" stroke="#7a3010" stroke-width="0.8"/><ellipse cx="449.4" cy="254.6" rx="1.7" ry="1.3" transform="rotate(97 449.4 254.6)" fill="#98441a" stroke="#7a3010" stroke-width="0.8"/><ellipse cx="454.4" cy="255.4" rx="1.9" ry="1.4" transform="rotate(122 454.4 255.4)" fill="#98441a" stroke="#7a3010" stroke-width="0.8"/><ellipse cx="450.8" cy="250.3" rx="1.7" ry="1.3" transform="rotate(37 450.8 250.3)" fill="#98441a" stroke="#7a3010" stroke-width="0.8"/><ellipse cx="455.2" cy="251.0" rx="1.4" ry="1.1" transform="rotate(169 455.2 251.0)" fill="#98441a" stroke="#7a3010" stroke-width="0.8"/><ellipse cx="449.4" cy="240.9" rx="1.9" ry="1.4" transform="rotate(124 449.4 240.9)" fill="#98441a" stroke="#7a3010" stroke-width="0.8"/><ellipse cx="457.3" cy="236.6" rx="1.9" ry="1.4" transform="rotate(174 457.3 236.6)" fill="#98441a" stroke="#7a3010" stroke-width="0.8"/><ellipse cx="458.0" cy="226.5" rx="1.4" ry="1.1" transform="rotate(161 458.0 226.5)" fill="#98441a" stroke="#7a3010" stroke-width="0.8"/><ellipse cx="464.5" cy="242.4" rx="1.7" ry="1.3" transform="rotate(54 464.5 242.4)" fill="#98441a" stroke="#7a3010" stroke-width="0.8"/><ellipse cx="468.2" cy="245.3" rx="1.4" ry="1.1" transform="rotate(65 468.2 245.3)" fill="#98441a" stroke="#7a3010" stroke-width="0.8"/><ellipse cx="459.5" cy="247.4" rx="1.7" ry="1.3" transform="rotate(30 459.5 247.4)" fill="#98441a" stroke="#7a3010" stroke-width="0.8"/><ellipse cx="463.8" cy="249.6" rx="1.9" ry="1.4" transform="rotate(26 463.8 249.6)" fill="#98441a" stroke="#7a3010" stroke-width="0.8"/><ellipse cx="468.9" cy="252.5" rx="1.7" ry="1.3" transform="rotate(12 468.9 252.5)" fill="#98441a" stroke="#7a3010" stroke-width="0.8"/><ellipse cx="458.0" cy="262.6" rx="1.9" ry="1.4" transform="rotate(54 458.0 262.6)" fill="#98441a" stroke="#7a3010" stroke-width="0.8"/><ellipse cx="447.2" cy="264.7" rx="1.4" ry="1.1" transform="rotate(109 447.2 264.7)" fill="#98441a" stroke="#7a3010" stroke-width="0.8"/><ellipse cx="437.8" cy="264.0" rx="1.4" ry="1.1" transform="rotate(1 437.8 264.0)" fill="#98441a" stroke="#7a3010" stroke-width="0.8"/><ellipse cx="404.7" cy="271.2" rx="2.4" ry="1.8" transform="rotate(122 404.7 271.2)" fill="#98441a" stroke="#7a3010" stroke-width="0.8"/><ellipse cx="410.4" cy="271.2" rx="2.4" ry="1.8" transform="rotate(61 410.4 271.2)" fill="#98441a" stroke="#7a3010" stroke-width="0.8"/><ellipse cx="414.8" cy="269.1" rx="1.9" ry="1.4" transform="rotate(56 414.8 269.1)" fill="#98441a" stroke="#7a3010" stroke-width="0.8"/><ellipse cx="433.5" cy="271.2" rx="2.1" ry="1.6" transform="rotate(147 433.5 271.2)" fill="#98441a" stroke="#7a3010" stroke-width="0.8"/><ellipse cx="436.4" cy="272.7" rx="1.7" ry="1.3" transform="rotate(87 436.4 272.7)" fill="#98441a" stroke="#7a3010" stroke-width="0.8"/><ellipse cx="443.6" cy="226.5" rx="1.1" ry="0.9" transform="rotate(57 443.6 226.5)" fill="#98441a" stroke="#7a3010" stroke-width="0.8"/><ellipse cx="432.1" cy="222.9" rx="1.1" ry="0.9" transform="rotate(87 432.1 222.9)" fill="#98441a" stroke="#7a3010" stroke-width="0.8"/><ellipse cx="466.7" cy="274.1" rx="1.9" ry="1.4" transform="rotate(127 466.7 274.1)" fill="#98441a" stroke="#7a3010" stroke-width="0.8"/><ellipse cx="469.6" cy="232.3" rx="1.2" ry="0.9" transform="rotate(10 469.6 232.3)" fill="#98441a" stroke="#7a3010" stroke-width="0.8"/><ellipse cx="404.0" cy="230.0" rx="1.9" ry="1.4" transform="rotate(176 404.0 230.0)" fill="#98441a" stroke="#7a3010" stroke-width="0.8"/><ellipse cx="413.5" cy="242.5" rx="1.9" ry="1.4" transform="rotate(4 413.5 242.5)" fill="#98441a" stroke="#7a3010" stroke-width="0.8"/><ellipse cx="405.0" cy="238.5" rx="1.9" ry="1.4" transform="rotate(135 405.0 238.5)" fill="#98441a" stroke="#7a3010" stroke-width="0.8"/><ellipse cx="418.0" cy="237.5" rx="1.7" ry="1.3" transform="rotate(152 418.0 237.5)" fill="#98441a" stroke="#7a3010" stroke-width="0.8"/><ellipse cx="410.0" cy="243.0" rx="1.7" ry="1.3" transform="rotate(3 410.0 243.0)" fill="#98441a" stroke="#7a3010" stroke-width="0.8"/><ellipse cx="421.0" cy="260.0" rx="1.9" ry="1.4" transform="rotate(142 421.0 260.0)" fill="#98441a" stroke="#7a3010" stroke-width="0.8"/><ellipse cx="420.0" cy="264.5" rx="1.7" ry="1.3" transform="rotate(66 420.0 264.5)" fill="#98441a" stroke="#7a3010" stroke-width="0.8"/><ellipse cx="426.0" cy="259.5" rx="1.7" ry="1.3" transform="rotate(104 426.0 259.5)" fill="#98441a" stroke="#7a3010" stroke-width="0.8"/><ellipse cx="413.0" cy="231.0" rx="1.7" ry="1.3" transform="rotate(2 413.0 231.0)" fill="#98441a" stroke="#7a3010" stroke-width="0.8"/><ellipse cx="400.0" cy="242.0" rx="1.7" ry="1.3" transform="rotate(8 400.0 242.0)" fill="#98441a" stroke="#7a3010" stroke-width="0.8"/><ellipse cx="415.5" cy="247.0" rx="1.5" ry="1.2" transform="rotate(33 415.5 247.0)" fill="#98441a" stroke="#7a3010" stroke-width="0.8"/><ellipse cx="429.0" cy="255.5" rx="1.5" ry="1.2" transform="rotate(172 429.0 255.5)" fill="#98441a" stroke="#7a3010" stroke-width="0.8"/><ellipse cx="407.5" cy="269.0" rx="1.7" ry="1.3" transform="rotate(35 407.5 269.0)" fill="#98441a" stroke="#7a3010" stroke-width="0.8"/><ellipse cx="434.5" cy="268.5" rx="1.5" ry="1.2" transform="rotate(136 434.5 268.5)" fill="#98441a" stroke="#7a3010" stroke-width="0.8"/></g></g>
<g clip-path="url(#c11)"><rect x="244" y="279" width="75" height="57" fill="#efe5d3"/><rect x="244" y="279" width="75" height="57" filter="url(#n11)"/><g transform="translate(43 31)"><rect x="201" y="248" width="75" height="57" fill="url(#pA)" opacity="0.8" filter="url(#bl)"/></g></g>
<g clip-path="url(#c12)"><rect x="320" y="279" width="75" height="57" fill="#efe5d3"/><rect x="320" y="279" width="75" height="57" filter="url(#n12)"/><g transform="translate(12 12)"><rect x="308" y="267" width="75" height="57" fill="url(#pA)" opacity="0.8" filter="url(#bl)"/></g></g>
<g clip-path="url(#c13)"><rect x="396" y="279" width="75" height="57" fill="#ede3d2"/><rect x="396" y="279" width="75" height="57" filter="url(#n13)"/><g transform="translate(29 41)"><rect x="367" y="238" width="75" height="57" fill="url(#pB)" opacity="0.75" filter="url(#bl)"/></g></g>
<g clip-path="url(#c14)"><rect x="244" y="338" width="75" height="57" fill="#ede3d1"/><rect x="244" y="338" width="75" height="57" filter="url(#n14)"/><g transform="translate(46 22)"><rect x="198" y="316" width="75" height="57" fill="url(#pA)" opacity="0.95" filter="url(#bl)"/></g></g>
<g clip-path="url(#c15)"><rect x="244" y="398" width="75" height="56.5" fill="#ece2d0"/><rect x="244" y="398" width="75" height="56.5" filter="url(#n15)"/><g transform="translate(15 3)"><rect x="229" y="395" width="75" height="56.5" fill="url(#pB)" opacity="0.8" filter="url(#bl)"/></g></g>
<g clip-path="url(#c16)"><rect x="276.5" y="496.5" width="75.5" height="56.2" fill="#ddcfb8"/><rect x="276.5" y="496.5" width="75.5" height="56.2" filter="url(#n16)"/><g transform="translate(32 32)"><rect x="244.5" y="464.5" width="75.5" height="56.2" fill="url(#pC)" opacity="0.9" filter="url(#bl)"/></g><g filter="url(#blr)"><ellipse cx="289.4" cy="516.8" rx="2.0" ry="1.5" transform="rotate(39 289.4 516.8)" fill="#6e3618" fill-opacity="0.9"/><ellipse cx="291.3" cy="517.1" rx="1.9" ry="1.6" transform="rotate(42 291.3 517.1)" fill="#83471f" fill-opacity="0.9"/><ellipse cx="288.9" cy="515.8" rx="2.0" ry="1.2" transform="rotate(143 288.9 515.8)" fill="#9a6038" fill-opacity="0.9"/><ellipse cx="294.8" cy="516.3" rx="1.2" ry="1.8" transform="rotate(133 294.8 516.3)" fill="#6e3618" fill-opacity="0.9"/><ellipse cx="296.5" cy="517.3" rx="1.2" ry="1.2" transform="rotate(90 296.5 517.3)" fill="#83471f" fill-opacity="0.9"/><ellipse cx="294.5" cy="518.2" rx="1.5" ry="1.1" transform="rotate(147 294.5 518.2)" fill="#9a6038" fill-opacity="0.9"/><ellipse cx="297.7" cy="515.6" rx="1.1" ry="1.0" transform="rotate(62 297.7 515.6)" fill="#6e3618" fill-opacity="0.9"/><ellipse cx="298.4" cy="514.2" rx="0.8" ry="1.1" transform="rotate(42 298.4 514.2)" fill="#83471f" fill-opacity="0.9"/><ellipse cx="298.9" cy="514.3" rx="1.4" ry="1.1" transform="rotate(136 298.9 514.3)" fill="#9a6038" fill-opacity="0.9"/><ellipse cx="289.5" cy="521.6" rx="1.7" ry="1.0" transform="rotate(86 289.5 521.6)" fill="#6e3618" fill-opacity="0.9"/><ellipse cx="289.7" cy="520.7" rx="1.8" ry="1.5" transform="rotate(74 289.7 520.7)" fill="#83471f" fill-opacity="0.9"/><ellipse cx="288.6" cy="521.3" rx="1.4" ry="1.6" transform="rotate(70 288.6 521.3)" fill="#9a6038" fill-opacity="0.9"/><ellipse cx="293.1" cy="525.8" rx="1.3" ry="1.2" transform="rotate(89 293.1 525.8)" fill="#6e3618" fill-opacity="0.9"/><ellipse cx="294.0" cy="526.6" rx="1.3" ry="0.8" transform="rotate(110 294.0 526.6)" fill="#83471f" fill-opacity="0.9"/><ellipse cx="294.1" cy="526.7" rx="0.9" ry="0.8" transform="rotate(63 294.1 526.7)" fill="#9a6038" fill-opacity="0.9"/><ellipse cx="282.5" cy="529.1" rx="1.4" ry="1.0" transform="rotate(19 282.5 529.1)" fill="#6e3618" fill-opacity="0.9"/><ellipse cx="280.7" cy="530.1" rx="1.5" ry="1.0" transform="rotate(123 280.7 530.1)" fill="#83471f" fill-opacity="0.9"/><ellipse cx="282.0" cy="530.3" rx="1.7" ry="1.1" transform="rotate(178 282.0 530.3)" fill="#9a6038" fill-opacity="0.9"/><ellipse cx="287.7" cy="536.2" rx="1.6" ry="1.1" transform="rotate(68 287.7 536.2)" fill="#6e3618" fill-opacity="0.9"/><ellipse cx="286.2" cy="536.8" rx="1.1" ry="0.9" transform="rotate(145 286.2 536.8)" fill="#83471f" fill-opacity="0.9"/><ellipse cx="287.3" cy="536.0" rx="1.6" ry="0.8" transform="rotate(46 287.3 536.0)" fill="#9a6038" fill-opacity="0.9"/><ellipse cx="296.6" cy="532.2" rx="0.9" ry="0.7" transform="rotate(61 296.6 532.2)" fill="#6e3618" fill-opacity="0.9"/><ellipse cx="297.7" cy="533.2" rx="1.3" ry="0.9" transform="rotate(45 297.7 533.2)" fill="#83471f" fill-opacity="0.9"/><ellipse cx="297.8" cy="532.3" rx="1.3" ry="0.7" transform="rotate(38 297.8 532.3)" fill="#9a6038" fill-opacity="0.9"/><ellipse cx="302.7" cy="534.3" rx="1.4" ry="1.0" transform="rotate(77 302.7 534.3)" fill="#6e3618" fill-opacity="0.9"/><ellipse cx="302.2" cy="534.4" rx="1.0" ry="1.0" transform="rotate(50 302.2 534.4)" fill="#83471f" fill-opacity="0.9"/><ellipse cx="302.6" cy="532.9" rx="1.2" ry="1.2" transform="rotate(4 302.6 532.9)" fill="#9a6038" fill-opacity="0.9"/><ellipse cx="312.5" cy="507.8" rx="1.8" ry="1.3" transform="rotate(46 312.5 507.8)" fill="#6e3618" fill-opacity="0.9"/><ellipse cx="312.1" cy="508.6" rx="1.8" ry="1.0" transform="rotate(17 312.1 508.6)" fill="#83471f" fill-opacity="0.9"/><ellipse cx="311.3" cy="506.4" rx="1.5" ry="1.0" transform="rotate(156 311.3 506.4)" fill="#9a6038" fill-opacity="0.9"/><ellipse cx="314.7" cy="506.9" rx="1.0" ry="0.7" transform="rotate(89 314.7 506.9)" fill="#6e3618" fill-opacity="0.9"/><ellipse cx="314.1" cy="507.0" rx="0.8" ry="0.8" transform="rotate(128 314.1 507.0)" fill="#83471f" fill-opacity="0.9"/><ellipse cx="314.6" cy="506.8" rx="1.1" ry="1.0" transform="rotate(139 314.6 506.8)" fill="#9a6038" fill-opacity="0.9"/><ellipse cx="307.6" cy="503.1" rx="0.9" ry="0.6" transform="rotate(138 307.6 503.1)" fill="#6e3618" fill-opacity="0.9"/><ellipse cx="306.7" cy="504.1" rx="0.8" ry="0.8" transform="rotate(56 306.7 504.1)" fill="#83471f" fill-opacity="0.9"/><ellipse cx="306.5" cy="503.6" rx="0.8" ry="0.9" transform="rotate(53 306.5 503.6)" fill="#9a6038" fill-opacity="0.9"/><ellipse cx="302.1" cy="504.6" rx="1.1" ry="0.6" transform="rotate(108 302.1 504.6)" fill="#6e3618" fill-opacity="0.9"/><ellipse cx="302.1" cy="504.8" rx="1.1" ry="0.7" transform="rotate(126 302.1 504.8)" fill="#83471f" fill-opacity="0.9"/><ellipse cx="302.1" cy="504.6" rx="0.7" ry="0.9" transform="rotate(176 302.1 504.6)" fill="#9a6038" fill-opacity="0.9"/><ellipse cx="315.7" cy="519.6" rx="1.4" ry="0.7" transform="rotate(14 315.7 519.6)" fill="#6e3618" fill-opacity="0.9"/><ellipse cx="315.2" cy="520.5" rx="1.3" ry="0.9" transform="rotate(112 315.2 520.5)" fill="#83471f" fill-opacity="0.9"/><ellipse cx="315.1" cy="520.2" rx="1.1" ry="0.9" transform="rotate(70 315.1 520.2)" fill="#9a6038" fill-opacity="0.9"/><ellipse cx="311.4" cy="524.5" rx="0.9" ry="0.9" transform="rotate(44 311.4 524.5)" fill="#6e3618" fill-opacity="0.9"/><ellipse cx="312.0" cy="525.6" rx="1.3" ry="0.9" transform="rotate(43 312.0 525.6)" fill="#83471f" fill-opacity="0.9"/><ellipse cx="311.4" cy="525.0" rx="1.2" ry="1.2" transform="rotate(15 311.4 525.0)" fill="#9a6038" fill-opacity="0.9"/><ellipse cx="316.0" cy="527.9" rx="1.7" ry="1.5" transform="rotate(140 316.0 527.9)" fill="#6e3618" fill-opacity="0.9"/><ellipse cx="316.3" cy="528.5" rx="1.6" ry="1.5" transform="rotate(126 316.3 528.5)" fill="#83471f" fill-opacity="0.9"/><ellipse cx="316.4" cy="527.3" rx="1.8" ry="1.2" transform="rotate(111 316.4 527.3)" fill="#9a6038" fill-opacity="0.9"/><ellipse cx="312.8" cy="533.0" rx="1.2" ry="0.6" transform="rotate(56 312.8 533.0)" fill="#6e3618" fill-opacity="0.9"/><ellipse cx="312.0" cy="532.1" rx="0.8" ry="0.8" transform="rotate(14 312.0 532.1)" fill="#83471f" fill-opacity="0.9"/><ellipse cx="312.0" cy="533.0" rx="1.1" ry="0.8" transform="rotate(19 312.0 533.0)" fill="#9a6038" fill-opacity="0.9"/><ellipse cx="318.4" cy="537.8" rx="1.1" ry="1.0" transform="rotate(115 318.4 537.8)" fill="#6e3618" fill-opacity="0.9"/><ellipse cx="317.8" cy="536.9" rx="1.7" ry="1.0" transform="rotate(46 317.8 536.9)" fill="#83471f" fill-opacity="0.9"/><ellipse cx="318.1" cy="536.7" rx="1.5" ry="0.9" transform="rotate(108 318.1 536.7)" fill="#9a6038" fill-opacity="0.9"/><ellipse cx="327.2" cy="519.6" rx="1.9" ry="1.2" transform="rotate(79 327.2 519.6)" fill="#6e3618" fill-opacity="0.9"/><ellipse cx="328.0" cy="519.4" rx="1.2" ry="1.2" transform="rotate(49 328.0 519.4)" fill="#83471f" fill-opacity="0.9"/><ellipse cx="327.0" cy="521.0" rx="1.1" ry="1.5" transform="rotate(168 327.0 521.0)" fill="#9a6038" fill-opacity="0.9"/><ellipse cx="331.0" cy="521.8" rx="1.4" ry="0.8" transform="rotate(109 331.0 521.8)" fill="#6e3618" fill-opacity="0.9"/><ellipse cx="331.0" cy="522.2" rx="1.0" ry="1.2" transform="rotate(17 331.0 522.2)" fill="#83471f" fill-opacity="0.9"/><ellipse cx="330.2" cy="522.7" rx="1.6" ry="1.0" transform="rotate(24 330.2 522.7)" fill="#9a6038" fill-opacity="0.9"/><ellipse cx="337.1" cy="526.5" rx="1.5" ry="0.9" transform="rotate(34 337.1 526.5)" fill="#6e3618" fill-opacity="0.9"/><ellipse cx="336.2" cy="525.8" rx="1.3" ry="1.5" transform="rotate(152 336.2 525.8)" fill="#83471f" fill-opacity="0.9"/><ellipse cx="337.4" cy="526.6" rx="1.1" ry="1.3" transform="rotate(14 337.4 526.6)" fill="#9a6038" fill-opacity="0.9"/><ellipse cx="337.3" cy="532.1" rx="1.5" ry="0.9" transform="rotate(11 337.3 532.1)" fill="#6e3618" fill-opacity="0.9"/><ellipse cx="337.1" cy="531.8" rx="1.4" ry="1.1" transform="rotate(144 337.1 531.8)" fill="#83471f" fill-opacity="0.9"/><ellipse cx="336.1" cy="531.1" rx="1.2" ry="1.0" transform="rotate(113 336.1 531.1)" fill="#9a6038" fill-opacity="0.9"/><ellipse cx="332.7" cy="535.3" rx="0.8" ry="0.8" transform="rotate(122 332.7 535.3)" fill="#6e3618" fill-opacity="0.9"/><ellipse cx="331.6" cy="535.6" rx="0.7" ry="0.6" transform="rotate(89 331.6 535.6)" fill="#83471f" fill-opacity="0.9"/><ellipse cx="332.4" cy="536.2" rx="0.8" ry="0.6" transform="rotate(168 332.4 536.2)" fill="#9a6038" fill-opacity="0.9"/><ellipse cx="342.4" cy="512.4" rx="1.7" ry="1.4" transform="rotate(94 342.4 512.4)" fill="#6e3618" fill-opacity="0.9"/><ellipse cx="341.3" cy="513.4" rx="1.3" ry="0.9" transform="rotate(63 341.3 513.4)" fill="#83471f" fill-opacity="0.9"/><ellipse cx="342.4" cy="512.9" rx="1.2" ry="1.4" transform="rotate(89 342.4 512.9)" fill="#9a6038" fill-opacity="0.9"/><ellipse cx="348.1" cy="514.1" rx="1.7" ry="1.5" transform="rotate(122 348.1 514.1)" fill="#6e3618" fill-opacity="0.9"/><ellipse cx="348.2" cy="514.0" rx="1.8" ry="1.3" transform="rotate(164 348.2 514.0)" fill="#83471f" fill-opacity="0.9"/><ellipse cx="350.0" cy="513.0" rx="1.9" ry="1.6" transform="rotate(143 350.0 513.0)" fill="#9a6038" fill-opacity="0.9"/><ellipse cx="348.7" cy="514.5" rx="1.2" ry="1.0" transform="rotate(136 348.7 514.5)" fill="#6e3618" fill-opacity="0.9"/><ellipse cx="349.9" cy="514.2" rx="1.4" ry="1.0" transform="rotate(159 349.9 514.2)" fill="#83471f" fill-opacity="0.9"/><ellipse cx="349.1" cy="515.7" rx="1.2" ry="1.1" transform="rotate(133 349.1 515.7)" fill="#9a6038" fill-opacity="0.9"/><ellipse cx="279.9" cy="516.8" rx="0.6" ry="0.6" transform="rotate(32 279.9 516.8)" fill="#6e3618" fill-opacity="0.9"/><ellipse cx="279.4" cy="517.4" rx="0.7" ry="0.5" transform="rotate(5 279.4 517.4)" fill="#83471f" fill-opacity="0.9"/><ellipse cx="279.3" cy="517.1" rx="0.6" ry="0.7" transform="rotate(38 279.3 517.1)" fill="#9a6038" fill-opacity="0.9"/><ellipse cx="324.1" cy="499.3" rx="0.9" ry="0.9" transform="rotate(93 324.1 499.3)" fill="#6e3618" fill-opacity="0.9"/><ellipse cx="324.2" cy="498.3" rx="0.9" ry="0.8" transform="rotate(139 324.2 498.3)" fill="#83471f" fill-opacity="0.9"/><ellipse cx="325.1" cy="498.9" rx="0.8" ry="0.7" transform="rotate(68 325.1 498.9)" fill="#9a6038" fill-opacity="0.9"/><ellipse cx="320.4" cy="547.9" rx="1.4" ry="1.1" transform="rotate(6 320.4 547.9)" fill="#6e3618" fill-opacity="0.9"/><ellipse cx="321.1" cy="548.6" rx="1.6" ry="1.3" transform="rotate(132 321.1 548.6)" fill="#83471f" fill-opacity="0.9"/><ellipse cx="321.5" cy="548.1" rx="1.3" ry="0.8" transform="rotate(120 321.5 548.1)" fill="#9a6038" fill-opacity="0.9"/><ellipse cx="297.9" cy="550.1" rx="1.7" ry="0.9" transform="rotate(41 297.9 550.1)" fill="#6e3618" fill-opacity="0.9"/><ellipse cx="298.2" cy="550.6" rx="1.3" ry="0.8" transform="rotate(67 298.2 550.6)" fill="#83471f" fill-opacity="0.9"/><ellipse cx="298.4" cy="549.9" rx="1.3" ry="1.1" transform="rotate(113 298.4 549.9)" fill="#9a6038" fill-opacity="0.9"/><ellipse cx="345.4" cy="548.0" rx="1.3" ry="1.1" transform="rotate(67 345.4 548.0)" fill="#6e3618" fill-opacity="0.9"/><ellipse cx="344.8" cy="548.2" rx="1.3" ry="1.2" transform="rotate(36 344.8 548.2)" fill="#83471f" fill-opacity="0.9"/><ellipse cx="345.8" cy="548.4" rx="0.9" ry="0.8" transform="rotate(114 345.8 548.4)" fill="#9a6038" fill-opacity="0.9"/><ellipse cx="281.7" cy="548.2" rx="0.9" ry="0.9" transform="rotate(53 281.7 548.2)" fill="#6e3618" fill-opacity="0.9"/><ellipse cx="281.9" cy="547.2" rx="1.0" ry="0.9" transform="rotate(39 281.9 547.2)" fill="#83471f" fill-opacity="0.9"/><ellipse cx="282.6" cy="547.4" rx="1.1" ry="0.8" transform="rotate(35 282.6 547.4)" fill="#9a6038" fill-opacity="0.9"/><ellipse cx="309.6" cy="546.3" rx="1.0" ry="0.7" transform="rotate(22 309.6 546.3)" fill="#6e3618" fill-opacity="0.9"/><ellipse cx="310.6" cy="547.1" rx="0.7" ry="0.8" transform="rotate(107 310.6 547.1)" fill="#83471f" fill-opacity="0.9"/><ellipse cx="310.0" cy="546.9" rx="1.1" ry="0.7" transform="rotate(115 310.0 546.9)" fill="#9a6038" fill-opacity="0.9"/><circle cx="324.5" cy="517.1" r="0.7" fill="#8a5a36" fill-opacity="0.55"/><circle cx="333.5" cy="532.2" r="0.7" fill="#8a5a36" fill-opacity="0.55"/><circle cx="315.3" cy="509.1" r="0.9" fill="#8a5a36" fill-opacity="0.55"/><circle cx="278.0" cy="532.6" r="0.7" fill="#8a5a36" fill-opacity="0.55"/><circle cx="293.2" cy="529.5" r="0.8" fill="#8a5a36" fill-opacity="0.55"/><circle cx="283.1" cy="524.0" r="0.6" fill="#8a5a36" fill-opacity="0.55"/><circle cx="336.8" cy="514.9" r="0.7" fill="#8a5a36" fill-opacity="0.55"/><circle cx="292.8" cy="499.2" r="0.6" fill="#8a5a36" fill-opacity="0.55"/><circle cx="288.0" cy="531.6" r="0.9" fill="#8a5a36" fill-opacity="0.55"/><circle cx="293.2" cy="502.8" r="0.8" fill="#8a5a36" fill-opacity="0.55"/><circle cx="285.2" cy="519.3" r="0.9" fill="#8a5a36" fill-opacity="0.55"/><circle cx="291.8" cy="535.8" r="0.8" fill="#8a5a36" fill-opacity="0.55"/><circle cx="282.9" cy="510.1" r="0.8" fill="#8a5a36" fill-opacity="0.55"/><circle cx="283.8" cy="507.9" r="0.8" fill="#8a5a36" fill-opacity="0.55"/><circle cx="338.3" cy="525.7" r="0.8" fill="#8a5a36" fill-opacity="0.55"/><circle cx="277.2" cy="513.5" r="0.7" fill="#8a5a36" fill-opacity="0.55"/><circle cx="345.5" cy="516.6" r="0.9" fill="#8a5a36" fill-opacity="0.55"/><circle cx="279.1" cy="524.5" r="0.9" fill="#8a5a36" fill-opacity="0.55"/><circle cx="334.7" cy="529.1" r="0.6" fill="#8a5a36" fill-opacity="0.55"/><circle cx="346.4" cy="501.0" r="1.0" fill="#8a5a36" fill-opacity="0.55"/><circle cx="335.1" cy="536.9" r="0.8" fill="#8a5a36" fill-opacity="0.55"/><circle cx="288.9" cy="515.7" r="0.8" fill="#8a5a36" fill-opacity="0.55"/><circle cx="326.0" cy="518.4" r="0.9" fill="#8a5a36" fill-opacity="0.55"/><circle cx="280.5" cy="512.6" r="0.5" fill="#8a5a36" fill-opacity="0.55"/><circle cx="301.0" cy="541.1" r="0.9" fill="#8a5a36" fill-opacity="0.55"/><circle cx="287.8" cy="513.8" r="0.6" fill="#8a5a36" fill-opacity="0.55"/><circle cx="326.5" cy="521.4" r="0.6" fill="#8a5a36" fill-opacity="0.55"/><circle cx="304.8" cy="545.1" r="0.7" fill="#8a5a36" fill-opacity="0.55"/><circle cx="328.7" cy="531.8" r="0.7" fill="#8a5a36" fill-opacity="0.55"/><circle cx="318.5" cy="516.9" r="0.6" fill="#8a5a36" fill-opacity="0.55"/><circle cx="313.8" cy="513.6" r="0.7" fill="#8a5a36" fill-opacity="0.55"/><circle cx="290.6" cy="547.8" r="0.7" fill="#8a5a36" fill-opacity="0.55"/><circle cx="291.6" cy="498.3" r="0.6" fill="#8a5a36" fill-opacity="0.55"/><circle cx="342.1" cy="515.4" r="0.8" fill="#8a5a36" fill-opacity="0.55"/><circle cx="293.9" cy="533.1" r="0.7" fill="#8a5a36" fill-opacity="0.55"/><circle cx="332.1" cy="526.2" r="0.7" fill="#8a5a36" fill-opacity="0.55"/><circle cx="297.6" cy="529.9" r="0.9" fill="#8a5a36" fill-opacity="0.55"/><circle cx="328.7" cy="523.5" r="0.7" fill="#8a5a36" fill-opacity="0.55"/><circle cx="343.8" cy="544.1" r="0.6" fill="#8a5a36" fill-opacity="0.55"/><circle cx="327.8" cy="539.9" r="0.8" fill="#8a5a36" fill-opacity="0.55"/><circle cx="349.3" cy="545.9" r="0.6" fill="#8a5a36" fill-opacity="0.55"/><circle cx="351.8" cy="514.9" r="0.7" fill="#8a5a36" fill-opacity="0.55"/><circle cx="350.2" cy="505.9" r="0.7" fill="#8a5a36" fill-opacity="0.55"/><circle cx="323.8" cy="511.8" r="0.6" fill="#8a5a36" fill-opacity="0.55"/><circle cx="336.5" cy="530.9" r="0.9" fill="#8a5a36" fill-opacity="0.55"/><circle cx="336.1" cy="545.5" r="0.9" fill="#8a5a36" fill-opacity="0.55"/><circle cx="338.7" cy="551.5" r="0.7" fill="#8a5a36" fill-opacity="0.55"/><circle cx="329.5" cy="525.4" r="1.0" fill="#8a5a36" fill-opacity="0.55"/><circle cx="326.0" cy="520.7" r="0.8" fill="#8a5a36" fill-opacity="0.55"/><circle cx="298.8" cy="503.8" r="0.7" fill="#8a5a36" fill-opacity="0.55"/><circle cx="286.8" cy="496.7" r="0.5" fill="#8a5a36" fill-opacity="0.55"/><circle cx="310.8" cy="539.4" r="0.5" fill="#8a5a36" fill-opacity="0.55"/><circle cx="324.6" cy="502.8" r="0.8" fill="#8a5a36" fill-opacity="0.55"/><circle cx="298.8" cy="521.6" r="0.9" fill="#8a5a36" fill-opacity="0.55"/><circle cx="307.7" cy="518.5" r="0.9" fill="#8a5a36" fill-opacity="0.55"/><circle cx="285.2" cy="516.1" r="0.9" fill="#8a5a36" fill-opacity="0.55"/><circle cx="339.5" cy="551.5" r="0.6" fill="#8a5a36" fill-opacity="0.55"/><circle cx="323.7" cy="514.1" r="0.9" fill="#8a5a36" fill-opacity="0.55"/><circle cx="340.4" cy="504.1" r="0.7" fill="#8a5a36" fill-opacity="0.55"/><circle cx="347.2" cy="516.3" r="0.8" fill="#8a5a36" fill-opacity="0.55"/><circle cx="338.3" cy="512.2" r="0.9" fill="#8a5a36" fill-opacity="0.55"/><circle cx="276.8" cy="515.6" r="0.6" fill="#8a5a36" fill-opacity="0.55"/><circle cx="302.6" cy="508.5" r="0.5" fill="#8a5a36" fill-opacity="0.55"/><circle cx="337.1" cy="506.3" r="0.8" fill="#8a5a36" fill-opacity="0.55"/><circle cx="318.3" cy="544.2" r="0.9" fill="#8a5a36" fill-opacity="0.55"/><circle cx="323.4" cy="506.0" r="0.9" fill="#8a5a36" fill-opacity="0.55"/><circle cx="283.9" cy="548.7" r="0.7" fill="#8a5a36" fill-opacity="0.55"/><circle cx="295.6" cy="508.7" r="0.7" fill="#8a5a36" fill-opacity="0.55"/><circle cx="336.3" cy="544.5" r="0.9" fill="#8a5a36" fill-opacity="0.55"/><circle cx="331.6" cy="510.2" r="0.7" fill="#8a5a36" fill-opacity="0.55"/><circle cx="299.5" cy="520.9" r="0.9" fill="#8a5a36" fill-opacity="0.55"/><circle cx="351.7" cy="501.2" r="1.0" fill="#8a5a36" fill-opacity="0.55"/><circle cx="345.8" cy="522.4" r="0.8" fill="#8a5a36" fill-opacity="0.55"/><circle cx="335.7" cy="507.0" r="0.8" fill="#8a5a36" fill-opacity="0.55"/><circle cx="350.6" cy="546.0" r="1.0" fill="#8a5a36" fill-opacity="0.55"/><circle cx="282.9" cy="536.7" r="0.7" fill="#8a5a36" fill-opacity="0.55"/><circle cx="345.1" cy="505.9" r="0.8" fill="#8a5a36" fill-opacity="0.55"/><circle cx="285.6" cy="541.7" r="0.9" fill="#8a5a36" fill-opacity="0.55"/><circle cx="278.9" cy="513.9" r="0.6" fill="#8a5a36" fill-opacity="0.55"/><circle cx="324.5" cy="531.9" r="0.5" fill="#8a5a36" fill-opacity="0.55"/><circle cx="348.3" cy="550.7" r="0.7" fill="#8a5a36" fill-opacity="0.55"/><circle cx="319.8" cy="516.9" r="0.8" fill="#8a5a36" fill-opacity="0.55"/><circle cx="306.6" cy="521.3" r="0.9" fill="#8a5a36" fill-opacity="0.55"/><circle cx="290.6" cy="513.3" r="0.9" fill="#8a5a36" fill-opacity="0.55"/><circle cx="293.5" cy="500.4" r="1.0" fill="#8a5a36" fill-opacity="0.55"/><circle cx="288.5" cy="519.6" r="0.7" fill="#8a5a36" fill-opacity="0.55"/><circle cx="296.3" cy="516.3" r="0.8" fill="#8a5a36" fill-opacity="0.55"/><circle cx="285.3" cy="526.5" r="0.5" fill="#8a5a36" fill-opacity="0.55"/><circle cx="282.5" cy="507.9" r="0.6" fill="#8a5a36" fill-opacity="0.55"/><circle cx="302.3" cy="512.9" r="0.9" fill="#8a5a36" fill-opacity="0.55"/><circle cx="326.2" cy="523.1" r="0.9" fill="#8a5a36" fill-opacity="0.55"/><circle cx="328.3" cy="514.2" r="0.8" fill="#8a5a36" fill-opacity="0.55"/><circle cx="332.8" cy="526.5" r="0.9" fill="#8a5a36" fill-opacity="0.55"/><circle cx="324.3" cy="548.6" r="0.6" fill="#8a5a36" fill-opacity="0.55"/><circle cx="327.2" cy="551.4" r="0.8" fill="#8a5a36" fill-opacity="0.55"/><circle cx="344.8" cy="501.8" r="0.9" fill="#8a5a36" fill-opacity="0.55"/><circle cx="296.5" cy="538.7" r="0.7" fill="#8a5a36" fill-opacity="0.55"/><circle cx="316.9" cy="510.5" r="0.6" fill="#8a5a36" fill-opacity="0.55"/><circle cx="341.8" cy="532.7" r="0.8" fill="#8a5a36" fill-opacity="0.55"/><circle cx="285.2" cy="513.0" r="1.0" fill="#8a5a36" fill-opacity="0.55"/><circle cx="291.8" cy="526.7" r="0.8" fill="#8a5a36" fill-opacity="0.55"/><circle cx="315.0" cy="527.6" r="1.0" fill="#8a5a36" fill-opacity="0.55"/><circle cx="335.5" cy="509.8" r="0.7" fill="#8a5a36" fill-opacity="0.55"/><circle cx="308.2" cy="534.9" r="0.8" fill="#8a5a36" fill-opacity="0.55"/><circle cx="296.2" cy="535.4" r="0.7" fill="#8a5a36" fill-opacity="0.55"/><circle cx="277.7" cy="512.9" r="0.7" fill="#8a5a36" fill-opacity="0.55"/><circle cx="291.4" cy="534.2" r="1.0" fill="#8a5a36" fill-opacity="0.55"/><circle cx="346.8" cy="531.9" r="0.9" fill="#8a5a36" fill-opacity="0.55"/><circle cx="313.6" cy="529.5" r="0.9" fill="#8a5a36" fill-opacity="0.55"/><circle cx="281.0" cy="516.9" r="0.7" fill="#8a5a36" fill-opacity="0.55"/><circle cx="302.2" cy="520.5" r="0.5" fill="#8a5a36" fill-opacity="0.55"/><circle cx="327.8" cy="550.3" r="0.6" fill="#8a5a36" fill-opacity="0.55"/><circle cx="290.5" cy="515.3" r="0.9" fill="#8a5a36" fill-opacity="0.55"/><circle cx="293.6" cy="539.8" r="0.6" fill="#8a5a36" fill-opacity="0.55"/><circle cx="321.4" cy="537.0" r="0.8" fill="#8a5a36" fill-opacity="0.55"/><circle cx="282.9" cy="550.3" r="0.9" fill="#8a5a36" fill-opacity="0.55"/><circle cx="312.8" cy="544.8" r="0.8" fill="#8a5a36" fill-opacity="0.55"/><circle cx="289.2" cy="518.8" r="0.9" fill="#8a5a36" fill-opacity="0.55"/><circle cx="311.5" cy="498.9" r="0.6" fill="#8a5a36" fill-opacity="0.55"/><circle cx="290.6" cy="529.4" r="0.8" fill="#8a5a36" fill-opacity="0.55"/><circle cx="310.3" cy="519.2" r="1.0" fill="#8a5a36" fill-opacity="0.55"/><circle cx="302.4" cy="534.3" r="0.6" fill="#8a5a36" fill-opacity="0.55"/><circle cx="315.3" cy="506.6" r="0.6" fill="#8a5a36" fill-opacity="0.55"/><circle cx="301.9" cy="503.0" r="0.7" fill="#8a5a36" fill-opacity="0.55"/><circle cx="325.8" cy="527.4" r="0.9" fill="#8a5a36" fill-opacity="0.55"/><circle cx="312.5" cy="501.2" r="0.9" fill="#8a5a36" fill-opacity="0.55"/><circle cx="306.9" cy="538.7" r="1.0" fill="#8a5a36" fill-opacity="0.55"/><circle cx="316.1" cy="510.6" r="0.7" fill="#8a5a36" fill-opacity="0.55"/><circle cx="314.1" cy="514.4" r="0.6" fill="#8a5a36" fill-opacity="0.55"/><circle cx="306.6" cy="533.4" r="0.9" fill="#8a5a36" fill-opacity="0.55"/></g></g>
<g clip-path="url(#c17)"><rect x="353.5" y="496.5" width="74.7" height="56.2" fill="#e9dfcd"/><rect x="353.5" y="496.5" width="74.7" height="56.2" filter="url(#n17)"/><g transform="translate(1 13)"><rect x="352.5" y="483.5" width="74.7" height="56.2" fill="url(#pC)" opacity="0.85" filter="url(#bl)"/></g><g filter="url(#blr)"><circle cx="398.2" cy="534.7" r="1.4" fill="url(#gg)"/></g></g>
<g clip-path="url(#c18)"><rect x="276.5" y="555.6" width="75.5" height="57.0" fill="#ebe2d1"/><rect x="276.5" y="555.6" width="75.5" height="57.0" filter="url(#n18)"/><g transform="translate(18 42)"><rect x="258.5" y="513.6" width="75.5" height="57.0" fill="url(#pB)" opacity="0.8" filter="url(#bl)"/></g></g>
<g clip-path="url(#c19)"><rect x="353.5" y="555.6" width="74.7" height="57.0" fill="#efe8da"/><rect x="353.5" y="555.6" width="74.7" height="57.0" filter="url(#n19)"/><g transform="translate(35 23)"><rect x="318.5" y="532.6" width="74.7" height="57.0" fill="url(#pA)" opacity="0.6" filter="url(#bl)"/></g></g>
<text x="112.10" y="481.20" font-size="9.8" textLength="37.70" lengthAdjust="spacingAndGlyphs">Rael-Luc</text>
<line x1="54.00" y1="486.70" x2="54.00" y2="603.20" stroke="#231f20" stroke-width="1"/>
<line x1="51.20" y1="602.70" x2="54.00" y2="602.70" stroke="#231f20" stroke-width="1"/>
<text x="47.9" y="605.70" font-size="8" text-anchor="end" fill="#231f20">10<tspan font-size="5.6" dy="-3.3">7</tspan></text>
<line x1="54.00" y1="595.90" x2="55.60" y2="595.90" stroke="#231f20" stroke-width="0.7"/>
<line x1="54.00" y1="591.92" x2="55.60" y2="591.92" stroke="#231f20" stroke-width="0.7"/>
<line x1="54.00" y1="589.09" x2="55.60" y2="589.09" stroke="#231f20" stroke-width="0.7"/>
<line x1="54.00" y1="586.90" x2="55.60" y2="586.90" stroke="#231f20" stroke-width="0.7"/>
<line x1="54.00" y1="585.11" x2="55.60" y2="585.11" stroke="#231f20" stroke-width="0.7"/>
<line x1="54.00" y1="583.60" x2="55.60" y2="583.60" stroke="#231f20" stroke-width="0.7"/>
<line x1="54.00" y1="582.29" x2="55.60" y2="582.29" stroke="#231f20" stroke-width="0.7"/>
<line x1="54.00" y1="581.13" x2="55.60" y2="581.13" stroke="#231f20" stroke-width="0.7"/>
<line x1="51.20" y1="580.10" x2="54.00" y2="580.10" stroke="#231f20" stroke-width="1"/>
<text x="47.9" y="583.10" font-size="8" text-anchor="end" fill="#231f20">10<tspan font-size="5.6" dy="-3.3">8</tspan></text>
<line x1="54.00" y1="573.30" x2="55.60" y2="573.30" stroke="#231f20" stroke-width="0.7"/>
<line x1="54.00" y1="569.32" x2="55.60" y2="569.32" stroke="#231f20" stroke-width="0.7"/>
<line x1="54.00" y1="566.49" x2="55.60" y2="566.49" stroke="#231f20" stroke-width="0.7"/>
<line x1="54.00" y1="564.30" x2="55.60" y2="564.30" stroke="#231f20" stroke-width="0.7"/>
<line x1="54.00" y1="562.51" x2="55.60" y2="562.51" stroke="#231f20" stroke-width="0.7"/>
<line x1="54.00" y1="561.00" x2="55.60" y2="561.00" stroke="#231f20" stroke-width="0.7"/>
<line x1="54.00" y1="559.69" x2="55.60" y2="559.69" stroke="#231f20" stroke-width="0.7"/>
<line x1="54.00" y1="558.53" x2="55.60" y2="558.53" stroke="#231f20" stroke-width="0.7"/>
<line x1="51.20" y1="557.50" x2="54.00" y2="557.50" stroke="#231f20" stroke-width="1"/>
<text x="47.9" y="560.50" font-size="8" text-anchor="end" fill="#231f20">10<tspan font-size="5.6" dy="-3.3">9</tspan></text>
<line x1="54.00" y1="550.70" x2="55.60" y2="550.70" stroke="#231f20" stroke-width="0.7"/>
<line x1="54.00" y1="546.72" x2="55.60" y2="546.72" stroke="#231f20" stroke-width="0.7"/>
<line x1="54.00" y1="543.89" x2="55.60" y2="543.89" stroke="#231f20" stroke-width="0.7"/>
<line x1="54.00" y1="541.70" x2="55.60" y2="541.70" stroke="#231f20" stroke-width="0.7"/>
<line x1="54.00" y1="539.91" x2="55.60" y2="539.91" stroke="#231f20" stroke-width="0.7"/>
<line x1="54.00" y1="538.40" x2="55.60" y2="538.40" stroke="#231f20" stroke-width="0.7"/>
<line x1="54.00" y1="537.09" x2="55.60" y2="537.09" stroke="#231f20" stroke-width="0.7"/>
<line x1="54.00" y1="535.93" x2="55.60" y2="535.93" stroke="#231f20" stroke-width="0.7"/>
<line x1="51.20" y1="534.90" x2="54.00" y2="534.90" stroke="#231f20" stroke-width="1"/>
<text x="47.9" y="537.90" font-size="8" text-anchor="end" fill="#231f20">10<tspan font-size="5.6" dy="-3.3">10</tspan></text>
<line x1="54.00" y1="528.10" x2="55.60" y2="528.10" stroke="#231f20" stroke-width="0.7"/>
<line x1="54.00" y1="524.12" x2="55.60" y2="524.12" stroke="#231f20" stroke-width="0.7"/>
<line x1="54.00" y1="521.29" x2="55.60" y2="521.29" stroke="#231f20" stroke-width="0.7"/>
<line x1="54.00" y1="519.10" x2="55.60" y2="519.10" stroke="#231f20" stroke-width="0.7"/>
<line x1="54.00" y1="517.31" x2="55.60" y2="517.31" stroke="#231f20" stroke-width="0.7"/>
<line x1="54.00" y1="515.80" x2="55.60" y2="515.80" stroke="#231f20" stroke-width="0.7"/>
<line x1="54.00" y1="514.49" x2="55.60" y2="514.49" stroke="#231f20" stroke-width="0.7"/>
<line x1="54.00" y1="513.33" x2="55.60" y2="513.33" stroke="#231f20" stroke-width="0.7"/>
<line x1="51.20" y1="512.30" x2="54.00" y2="512.30" stroke="#231f20" stroke-width="1"/>
<text x="47.9" y="515.30" font-size="8" text-anchor="end" fill="#231f20">10<tspan font-size="5.6" dy="-3.3">11</tspan></text>
<line x1="54.00" y1="505.50" x2="55.60" y2="505.50" stroke="#231f20" stroke-width="0.7"/>
<line x1="54.00" y1="501.52" x2="55.60" y2="501.52" stroke="#231f20" stroke-width="0.7"/>
<line x1="54.00" y1="498.69" x2="55.60" y2="498.69" stroke="#231f20" stroke-width="0.7"/>
<line x1="54.00" y1="496.50" x2="55.60" y2="496.50" stroke="#231f20" stroke-width="0.7"/>
<line x1="54.00" y1="494.71" x2="55.60" y2="494.71" stroke="#231f20" stroke-width="0.7"/>
<line x1="54.00" y1="493.20" x2="55.60" y2="493.20" stroke="#231f20" stroke-width="0.7"/>
<line x1="54.00" y1="491.89" x2="55.60" y2="491.89" stroke="#231f20" stroke-width="0.7"/>
<line x1="54.00" y1="490.73" x2="55.60" y2="490.73" stroke="#231f20" stroke-width="0.7"/>
<line x1="51.20" y1="489.70" x2="54.00" y2="489.70" stroke="#231f20" stroke-width="1"/>
<text x="47.9" y="492.70" font-size="8" text-anchor="end" fill="#231f20">10<tspan font-size="5.6" dy="-3.3">12</tspan></text>
<line x1="53.50" y1="602.70" x2="208.10" y2="602.70" stroke="#231f20" stroke-width="1"/>
<line x1="54.00" y1="602.70" x2="54.00" y2="605.50" stroke="#231f20" stroke-width="1"/>
<text x="54.00" y="614.00" font-size="8.0" text-anchor="middle">-20</text>
<line x1="57.77" y1="602.70" x2="57.77" y2="604.30" stroke="#231f20" stroke-width="0.7"/>
<line x1="61.54" y1="602.70" x2="61.54" y2="604.30" stroke="#231f20" stroke-width="0.7"/>
<line x1="65.31" y1="602.70" x2="65.31" y2="604.30" stroke="#231f20" stroke-width="0.7"/>
<line x1="69.08" y1="602.70" x2="69.08" y2="604.30" stroke="#231f20" stroke-width="0.7"/>
<line x1="72.85" y1="602.70" x2="72.85" y2="604.30" stroke="#231f20" stroke-width="0.7"/>
<line x1="76.62" y1="602.70" x2="76.62" y2="604.30" stroke="#231f20" stroke-width="0.7"/>
<line x1="80.39" y1="602.70" x2="80.39" y2="604.30" stroke="#231f20" stroke-width="0.7"/>
<line x1="84.16" y1="602.70" x2="84.16" y2="604.30" stroke="#231f20" stroke-width="0.7"/>
<line x1="87.93" y1="602.70" x2="87.93" y2="604.30" stroke="#231f20" stroke-width="0.7"/>
<line x1="91.70" y1="602.70" x2="91.70" y2="605.50" stroke="#231f20" stroke-width="1"/>
<text x="91.70" y="614.00" font-size="8.0" text-anchor="middle">-10</text>
<line x1="95.47" y1="602.70" x2="95.47" y2="604.30" stroke="#231f20" stroke-width="0.7"/>
<line x1="99.24" y1="602.70" x2="99.24" y2="604.30" stroke="#231f20" stroke-width="0.7"/>
<line x1="103.01" y1="602.70" x2="103.01" y2="604.30" stroke="#231f20" stroke-width="0.7"/>
<line x1="106.78" y1="602.70" x2="106.78" y2="604.30" stroke="#231f20" stroke-width="0.7"/>
<line x1="110.55" y1="602.70" x2="110.55" y2="604.30" stroke="#231f20" stroke-width="0.7"/>
<line x1="114.32" y1="602.70" x2="114.32" y2="604.30" stroke="#231f20" stroke-width="0.7"/>
<line x1="118.09" y1="602.70" x2="118.09" y2="604.30" stroke="#231f20" stroke-width="0.7"/>
<line x1="121.86" y1="602.70" x2="121.86" y2="604.30" stroke="#231f20" stroke-width="0.7"/>
<line x1="125.63" y1="602.70" x2="125.63" y2="604.30" stroke="#231f20" stroke-width="0.7"/>
<line x1="129.40" y1="602.70" x2="129.40" y2="605.50" stroke="#231f20" stroke-width="1"/>
<text x="129.40" y="614.00" font-size="8.0" text-anchor="middle">0</text>
<line x1="133.17" y1="602.70" x2="133.17" y2="604.30" stroke="#231f20" stroke-width="0.7"/>
<line x1="136.94" y1="602.70" x2="136.94" y2="604.30" stroke="#231f20" stroke-width="0.7"/>
<line x1="140.71" y1="602.70" x2="140.71" y2="604.30" stroke="#231f20" stroke-width="0.7"/>
<line x1="144.48" y1="602.70" x2="144.48" y2="604.30" stroke="#231f20" stroke-width="0.7"/>
<line x1="148.25" y1="602.70" x2="148.25" y2="604.30" stroke="#231f20" stroke-width="0.7"/>
<line x1="152.02" y1="602.70" x2="152.02" y2="604.30" stroke="#231f20" stroke-width="0.7"/>
<line x1="155.79" y1="602.70" x2="155.79" y2="604.30" stroke="#231f20" stroke-width="0.7"/>
<line x1="159.56" y1="602.70" x2="159.56" y2="604.30" stroke="#231f20" stroke-width="0.7"/>
<line x1="163.33" y1="602.70" x2="163.33" y2="604.30" stroke="#231f20" stroke-width="0.7"/>
<line x1="167.10" y1="602.70" x2="167.10" y2="605.50" stroke="#231f20" stroke-width="1"/>
<text x="167.10" y="614.00" font-size="8.0" text-anchor="middle">10</text>
<line x1="170.87" y1="602.70" x2="170.87" y2="604.30" stroke="#231f20" stroke-width="0.7"/>
<line x1="174.64" y1="602.70" x2="174.64" y2="604.30" stroke="#231f20" stroke-width="0.7"/>
<line x1="178.41" y1="602.70" x2="178.41" y2="604.30" stroke="#231f20" stroke-width="0.7"/>
<line x1="182.18" y1="602.70" x2="182.18" y2="604.30" stroke="#231f20" stroke-width="0.7"/>
<line x1="185.95" y1="602.70" x2="185.95" y2="604.30" stroke="#231f20" stroke-width="0.7"/>
<line x1="189.72" y1="602.70" x2="189.72" y2="604.30" stroke="#231f20" stroke-width="0.7"/>
<line x1="193.49" y1="602.70" x2="193.49" y2="604.30" stroke="#231f20" stroke-width="0.7"/>
<line x1="197.26" y1="602.70" x2="197.26" y2="604.30" stroke="#231f20" stroke-width="0.7"/>
<line x1="201.03" y1="602.70" x2="201.03" y2="604.30" stroke="#231f20" stroke-width="0.7"/>
<line x1="204.80" y1="602.70" x2="204.80" y2="605.50" stroke="#231f20" stroke-width="1"/>
<text x="204.80" y="614.00" font-size="8.0" text-anchor="middle">20</text>
<text x="124.60" y="626.00" font-size="10.6" textLength="12.60" lengthAdjust="spacingAndGlyphs">Day</text>
<text x="25.00" y="544.30" font-size="9.4" text-anchor="middle" textLength="98.00" lengthAdjust="spacingAndGlyphs" transform="rotate(-90 25.00 544.30)">Luminescence (photons/sec)</text>
<text x="112.30" y="588.70" font-size="7.4" textLength="34.20" lengthAdjust="spacingAndGlyphs">Start DCB</text>
<text x="142.20" y="579.20" font-size="7.4" textLength="42.40" lengthAdjust="spacingAndGlyphs">CTL Infusion</text>
<text x="140.50" y="624.70" font-size="7.4" textLength="30.80" lengthAdjust="spacingAndGlyphs">End DCB</text>
<line x1="129.60" y1="590.00" x2="129.60" y2="598.60" stroke="#24318a" stroke-width="1.1"/>
<polygon points="129.60,600.60 126.70,595.40 129.60,597.00 132.50,595.40" fill="#24318a"/>
<line x1="163.80" y1="580.60" x2="163.80" y2="598.60" stroke="#24318a" stroke-width="1.1"/>
<polygon points="163.80,600.60 160.90,595.40 163.80,597.00 166.70,595.40" fill="#24318a"/>
<line x1="155.70" y1="616.50" x2="155.70" y2="608.80" stroke="#24318a" stroke-width="1.1"/>
<polygon points="155.70,606.80 152.80,612.00 155.70,610.40 158.60,612.00" fill="#24318a"/>
<polyline points="208.9,511.1 214.1,511.1 214.1,556.6 208.9,556.6" fill="none" stroke="#231f20" stroke-width="0.9"/>
<text x="215.30" y="537.00" font-size="9.6">*</text>
<polyline points="80.39,587.00 99.24,569.80 125.63,548.80 129.40,543.30 155.79,524.40 163.33,523.80 189.72,516.00 201.03,512.20" fill="none" stroke="#2b4f8f" stroke-width="1"/>
<polyline points="80.39,592.20 99.24,574.60 125.63,551.50 129.40,536.50 155.79,526.10 163.33,528.20 189.72,534.40 201.03,536.10" fill="none" stroke="#63ab3f" stroke-width="1"/>
<polyline points="80.39,584.80 99.24,578.70 125.63,550.00 129.40,533.20 155.79,522.30 163.33,522.90 189.72,509.20 201.03,508.10" fill="none" stroke="#b4002f" stroke-width="1"/>
<polyline points="80.39,588.20 99.24,571.40 125.63,553.00 129.40,539.70 155.79,530.80 163.33,531.80 189.72,549.80 201.03,556.20" fill="none" stroke="#4f1f68" stroke-width="1"/>
<line x1="99.24" y1="568.60" x2="99.24" y2="570.00" stroke="#231f20" stroke-width="0.9"/>
<line x1="97.44" y1="568.60" x2="101.04" y2="568.60" stroke="#231f20" stroke-width="1.1"/>
<line x1="125.63" y1="547.60" x2="125.63" y2="549.00" stroke="#231f20" stroke-width="0.9"/>
<line x1="123.83" y1="547.60" x2="127.43" y2="547.60" stroke="#231f20" stroke-width="1.1"/>
<line x1="129.40" y1="531.40" x2="129.40" y2="533.20" stroke="#231f20" stroke-width="0.9"/>
<line x1="127.60" y1="531.40" x2="131.20" y2="531.40" stroke="#231f20" stroke-width="1.1"/>
<line x1="155.79" y1="519.60" x2="155.79" y2="522.30" stroke="#231f20" stroke-width="0.9"/>
<line x1="153.99" y1="519.60" x2="157.59" y2="519.60" stroke="#231f20" stroke-width="1.1"/>
<line x1="163.33" y1="519.60" x2="163.33" y2="522.90" stroke="#231f20" stroke-width="0.9"/>
<line x1="161.53" y1="519.60" x2="165.13" y2="519.60" stroke="#231f20" stroke-width="1.1"/>
<line x1="189.72" y1="505.60" x2="189.72" y2="509.20" stroke="#231f20" stroke-width="0.9"/>
<line x1="187.92" y1="505.60" x2="191.52" y2="505.60" stroke="#231f20" stroke-width="1.1"/>
<line x1="201.03" y1="505.20" x2="201.03" y2="508.10" stroke="#231f20" stroke-width="0.9"/>
<line x1="199.23" y1="505.20" x2="202.83" y2="505.20" stroke="#231f20" stroke-width="1.1"/>
<line x1="189.72" y1="528.60" x2="189.72" y2="534.40" stroke="#231f20" stroke-width="0.9"/>
<line x1="187.92" y1="528.60" x2="191.52" y2="528.60" stroke="#231f20" stroke-width="1.1"/>
<line x1="201.03" y1="530.60" x2="201.03" y2="536.10" stroke="#231f20" stroke-width="0.9"/>
<line x1="199.23" y1="530.60" x2="202.83" y2="530.60" stroke="#231f20" stroke-width="1.1"/>
<line x1="201.03" y1="554.20" x2="201.03" y2="556.20" stroke="#231f20" stroke-width="0.9"/>
<line x1="199.23" y1="554.20" x2="202.83" y2="554.20" stroke="#231f20" stroke-width="1.1"/>
<line x1="80.39" y1="583.00" x2="80.39" y2="584.80" stroke="#231f20" stroke-width="0.9"/>
<line x1="78.59" y1="583.00" x2="82.19" y2="583.00" stroke="#231f20" stroke-width="1.1"/>
<polygon points="80.39,590.00 77.49,584.80 83.29,584.80" fill="#2b4f8f"/>
<polygon points="99.24,572.80 96.34,567.60 102.14,567.60" fill="#2b4f8f"/>
<polygon points="125.63,551.80 122.73,546.60 128.53,546.60" fill="#2b4f8f"/>
<polygon points="129.40,546.30 126.50,541.10 132.30,541.10" fill="#2b4f8f"/>
<polygon points="155.79,527.40 152.89,522.20 158.69,522.20" fill="#2b4f8f"/>
<polygon points="163.33,526.80 160.43,521.60 166.23,521.60" fill="#2b4f8f"/>
<polygon points="189.72,519.00 186.82,513.80 192.62,513.80" fill="#2b4f8f"/>
<polygon points="201.03,515.20 198.13,510.00 203.93,510.00" fill="#2b4f8f"/>
<rect x="78.04" y="589.85" width="4.70" height="4.70" fill="#63ab3f"/>
<rect x="96.89" y="572.25" width="4.70" height="4.70" fill="#63ab3f"/>
<rect x="123.28" y="549.15" width="4.70" height="4.70" fill="#63ab3f"/>
<rect x="127.05" y="534.15" width="4.70" height="4.70" fill="#63ab3f"/>
<rect x="153.44" y="523.75" width="4.70" height="4.70" fill="#63ab3f"/>
<rect x="160.98" y="525.85" width="4.70" height="4.70" fill="#63ab3f"/>
<rect x="187.37" y="532.05" width="4.70" height="4.70" fill="#63ab3f"/>
<rect x="198.68" y="533.75" width="4.70" height="4.70" fill="#63ab3f"/>
<polygon points="80.39,581.80 77.49,587.00 83.29,587.00" fill="#b4002f"/>
<polygon points="99.24,575.70 96.34,580.90 102.14,580.90" fill="#b4002f"/>
<polygon points="125.63,547.00 122.73,552.20 128.53,552.20" fill="#b4002f"/>
<polygon points="129.40,530.20 126.50,535.40 132.30,535.40" fill="#b4002f"/>
<polygon points="155.79,519.30 152.89,524.50 158.69,524.50" fill="#b4002f"/>
<polygon points="163.33,519.90 160.43,525.10 166.23,525.10" fill="#b4002f"/>
<polygon points="189.72,506.20 186.82,511.40 192.62,511.40" fill="#b4002f"/>
<polygon points="201.03,505.10 198.13,510.30 203.93,510.30" fill="#b4002f"/>
<circle cx="80.39" cy="588.20" r="2.45" fill="#4f1f68"/>
<circle cx="99.24" cy="571.40" r="2.45" fill="#4f1f68"/>
<circle cx="125.63" cy="553.00" r="2.45" fill="#4f1f68"/>
<circle cx="129.40" cy="539.70" r="2.45" fill="#4f1f68"/>
<circle cx="155.79" cy="530.80" r="2.45" fill="#4f1f68"/>
<circle cx="163.33" cy="531.80" r="2.45" fill="#4f1f68"/>
<circle cx="189.72" cy="549.80" r="2.45" fill="#4f1f68"/>
<circle cx="201.03" cy="556.20" r="2.45" fill="#4f1f68"/>
<line x1="58.00" y1="492.60" x2="68.60" y2="492.60" stroke="#b4002f" stroke-width="1"/>
<polygon points="63.30,489.40 60.10,495.00 66.50,495.00" fill="#b4002f"/>
<text x="71.90" y="495.40" font-size="8.3" textLength="36.20" lengthAdjust="spacingAndGlyphs">DCB-/CTL-</text>
<line x1="58.00" y1="503.70" x2="68.60" y2="503.70" stroke="#2b4f8f" stroke-width="1"/>
<polygon points="63.30,506.90 60.10,501.30 66.50,501.30" fill="#2b4f8f"/>
<text x="71.90" y="506.50" font-size="8.3" textLength="39.60" lengthAdjust="spacingAndGlyphs">DCB-/CTL+</text>
<line x1="58.00" y1="515.20" x2="68.60" y2="515.20" stroke="#63ab3f" stroke-width="1"/>
<rect x="60.70" y="512.60" width="5.20" height="5.20" fill="#63ab3f"/>
<text x="71.90" y="518.00" font-size="8.3" textLength="36.60" lengthAdjust="spacingAndGlyphs">DCB+/CTL-</text>
<line x1="58.00" y1="526.20" x2="68.60" y2="526.20" stroke="#4f1f68" stroke-width="1"/>
<circle cx="63.30" cy="526.20" r="2.75" fill="#4f1f68"/>
<text x="71.90" y="529.00" font-size="8.3" textLength="40.00" lengthAdjust="spacingAndGlyphs">DCB+/CTL+</text>
</svg>
</body></html>
